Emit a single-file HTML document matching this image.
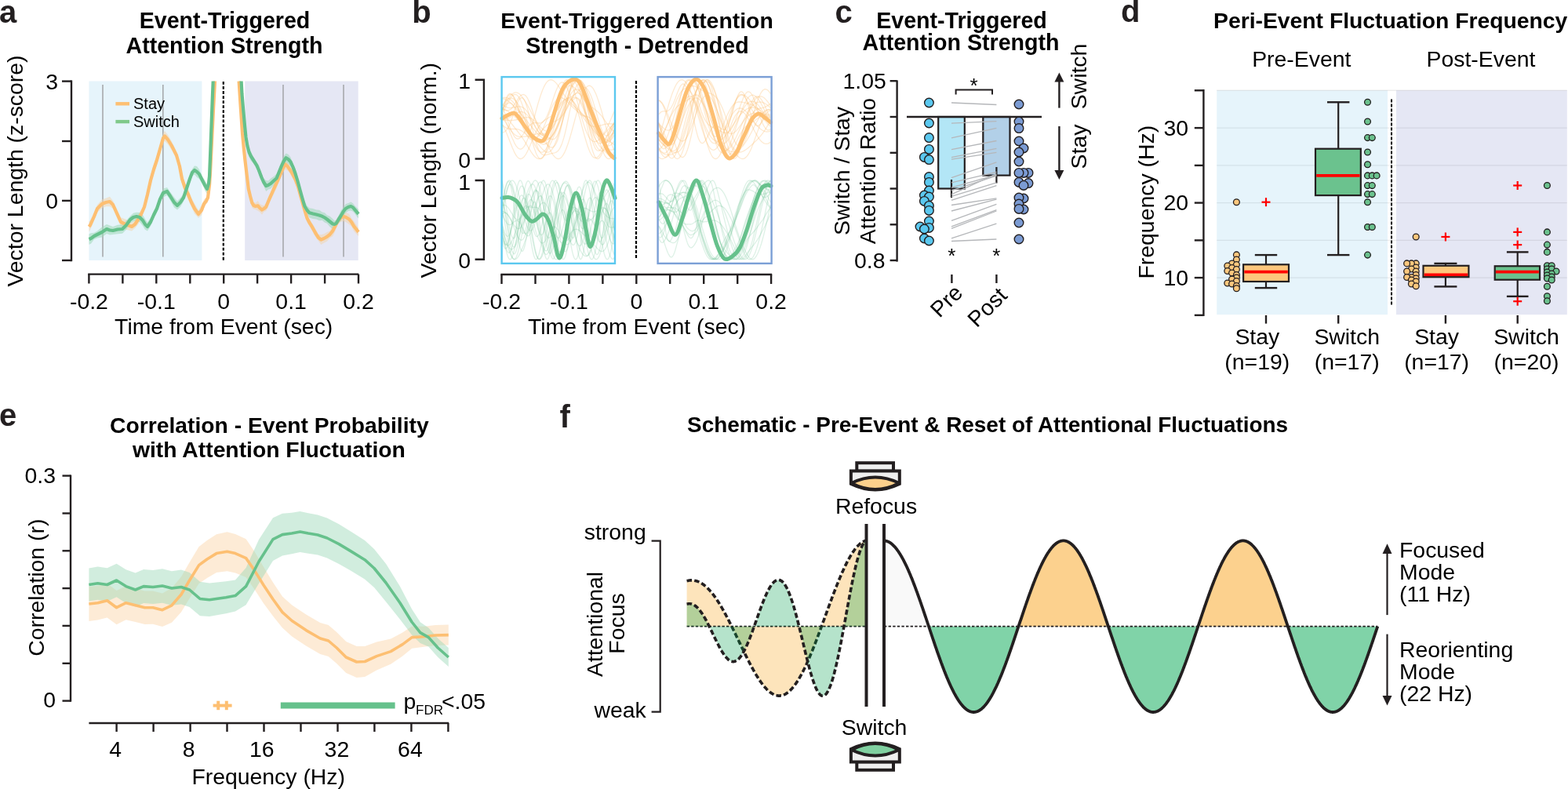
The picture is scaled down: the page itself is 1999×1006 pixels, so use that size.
<!DOCTYPE html>
<html><head><meta charset="utf-8"><style>
html,body{margin:0;padding:0;background:#fff;}
svg{display:block;}
text{font-family:"Liberation Sans",Arial,sans-serif;}
</style></head><body>
<svg width="1999" height="1006" viewBox="0 0 1999 1006">
<rect x="0" y="0" width="1999" height="1006" fill="#fff"/>
<text x="-1" y="29.1" font-size="40" font-weight="bold" text-anchor="start" fill="#231f20" >a</text>
<text x="286.5" y="36" font-size="28.6" font-weight="bold" text-anchor="middle" fill="#000" >Event-Triggered</text>
<text x="286" y="68" font-size="28.6" font-weight="bold" text-anchor="middle" fill="#000" >Attention Strength</text>
<text x="29.3" y="218" font-size="28.4" font-weight="normal" text-anchor="middle" fill="#000" transform="rotate(-90 29.3 218)">Vector Length (z-score)</text>
<rect x="113.4" y="103.5" width="144" height="228.5" fill="#e6f4fb" stroke="none" stroke-width="0" />
<rect x="312.2" y="103.5" width="144.5" height="228.5" fill="#e5e7f4" stroke="none" stroke-width="0" />
<line x1="131" y1="108" x2="131" y2="327.5" stroke="#a7a9ac" stroke-width="1.6" />
<line x1="207.8" y1="108" x2="207.8" y2="327.5" stroke="#a7a9ac" stroke-width="1.6" />
<line x1="361" y1="108" x2="361" y2="327.5" stroke="#a7a9ac" stroke-width="1.6" />
<line x1="438" y1="108" x2="438" y2="327.5" stroke="#a7a9ac" stroke-width="1.6" />
<line x1="284.8" y1="104" x2="284.8" y2="332" stroke="#000" stroke-width="2.2" stroke-dasharray="3.8 2.25"/>
<line x1="91" y1="102.4" x2="91" y2="333.2" stroke="#231f20" stroke-width="2.4" />
<line x1="79" y1="103.6" x2="91" y2="103.6" stroke="#231f20" stroke-width="2.4" />
<line x1="79" y1="180" x2="91" y2="180" stroke="#231f20" stroke-width="2.4" />
<line x1="79" y1="255.9" x2="91" y2="255.9" stroke="#231f20" stroke-width="2.4" />
<line x1="79" y1="332" x2="91" y2="332" stroke="#231f20" stroke-width="2.4" />
<text x="74" y="113.5" font-size="28.4" font-weight="normal" text-anchor="end" fill="#000" >3</text>
<text x="74" y="265.5" font-size="28.4" font-weight="normal" text-anchor="end" fill="#000" >0</text>
<line x1="112.2" y1="349.6" x2="457.2" y2="349.6" stroke="#231f20" stroke-width="2.4" />
<line x1="113.4" y1="349.6" x2="113.4" y2="361.5" stroke="#231f20" stroke-width="2.4" />
<line x1="156.4" y1="349.6" x2="156.4" y2="361.5" stroke="#231f20" stroke-width="2.4" />
<line x1="199.3" y1="349.6" x2="199.3" y2="361.5" stroke="#231f20" stroke-width="2.4" />
<line x1="242.3" y1="349.6" x2="242.3" y2="361.5" stroke="#231f20" stroke-width="2.4" />
<line x1="285.2" y1="349.6" x2="285.2" y2="361.5" stroke="#231f20" stroke-width="2.4" />
<line x1="328.1" y1="349.6" x2="328.1" y2="361.5" stroke="#231f20" stroke-width="2.4" />
<line x1="371.1" y1="349.6" x2="371.1" y2="361.5" stroke="#231f20" stroke-width="2.4" />
<line x1="414.1" y1="349.6" x2="414.1" y2="361.5" stroke="#231f20" stroke-width="2.4" />
<line x1="457" y1="349.6" x2="457" y2="361.5" stroke="#231f20" stroke-width="2.4" />
<text x="113.4" y="393.6" font-size="28.4" font-weight="normal" text-anchor="middle" fill="#000" >-0.2</text>
<text x="199.3" y="393.6" font-size="28.4" font-weight="normal" text-anchor="middle" fill="#000" >-0.1</text>
<text x="285.2" y="393.6" font-size="28.4" font-weight="normal" text-anchor="middle" fill="#000" >0</text>
<text x="371.1" y="393.6" font-size="28.4" font-weight="normal" text-anchor="middle" fill="#000" >0.1</text>
<text x="457" y="393.6" font-size="28.4" font-weight="normal" text-anchor="middle" fill="#000" >0.2</text>
<text x="285.2" y="426" font-size="28.4" font-weight="normal" text-anchor="middle" fill="#000" >Time from Event (sec)</text>
<path d="M113.5,282.6 L115,280.8 L120,270.7 L124,261.2 L130,254.5 L135,252.8 L140,250.7 L144,256 L149,266.6 L154,277.3 L160,279.4 L168,283.5 L172,281.1 L176,273.8 L180,267.2 L184,259.2 L188,241.4 L192,223.2 L196,209.6 L200,197.4 L204,185 L208,169.9 L210,166.9 L214,172 L219,180.6 L225,193.6 L229,206.7 L232,222.2 L236,233.4 L240,241.2 L244,252.6 L248,259.5 L253,268.2 L257,261.7 L260,254.4 L263,251.8 L265,245.9 L267,230.8 L268,213.6 L270,174 L270,186 L268,226.4 L267,241.2 L265,258.1 L263,260.2 L260,265.6 L257,274.3 L253,277.8 L248,272.5 L244,263.4 L240,254.8 L236,246.6 L232,233.8 L229,217.3 L225,202.4 L219,191.4 L214,184 L210,180.1 L208,182.1 L204,195 L200,210.6 L196,222.4 L192,236.8 L188,254.6 L184,268.8 L180,278.8 L176,286.2 L172,290.9 L168,294.5 L160,292.6 L154,288.7 L149,277.4 L144,266 L140,263.3 L135,263.2 L130,265.5 L124,270.8 L120,281.3 L115,293.2 L113.5,295.4Z" fill="#f3d6ae" opacity="0.55"/>
<path d="M309,165.5 L310.9,183.5 L312.5,198.8 L313.9,212 L315.5,224.5 L316.8,235.3 L319,244.1 L321.3,252.3 L323.5,257.6 L325.8,258.8 L328.8,255.9 L331,259.7 L334,261.4 L336.5,261.9 L339.2,258.5 L342,250.9 L345.2,244.9 L349,234.3 L352.6,226.7 L356,221.8 L358.6,215.6 L361,208.4 L363.8,202.7 L366.5,206.8 L369,210.7 L372.5,215.7 L376.5,224.6 L380,233.3 L384,247.3 L387.5,259.5 L391.4,273.2 L394.5,279.2 L397.4,283.7 L400.5,288.6 L403.3,294 L406,298.8 L409.3,299.2 L413,298.3 L416.8,296 L420.5,294.4 L424.2,287.5 L427,282.5 L430.2,278 L434,273 L437.6,269.7 L441,270.9 L445.1,272.8 L448,277.7 L451.1,282 L454,286 L457,290.9 L457,300.9 L454,298 L451.1,294.8 L448,288.3 L445.1,286.2 L441,283.1 L437.6,281.9 L434,283 L430.2,287 L427,295.5 L424.2,301.3 L420.5,303.6 L416.8,307.8 L413,309.7 L409.3,312 L406,307.2 L403.3,303.8 L400.5,299.4 L397.4,293.1 L394.5,288.8 L391.4,282.8 L387.5,270.5 L384,257.9 L380,242.7 L376.5,233 L372.5,226.3 L369,220.1 L366.5,217.2 L363.8,216.1 L361,219.6 L358.6,224 L356,230.2 L352.6,239.9 L349,247.7 L345.2,254.5 L342,263.1 L339.2,269.1 L336.5,270.1 L334,273.8 L331,270.3 L328.8,268.7 L325.8,267.2 L323.5,266.4 L321.3,264.9 L319,255.9 L316.8,246.1 L315.5,235.5 L313.9,221.6 L312.5,211.2 L310.9,196.5 L309,174.5Z" fill="#f3d6ae" opacity="0.55"/>
<path d="M113.5,298.2 L116,297.3 L120,296.7 L124,294.6 L130,289.6 L136,285.9 L140,287.5 L144,289 L150,286.7 L156,286.2 L161,281.3 L166,275.4 L170,271.7 L174,270.8 L178,270.9 L182,274.1 L185,279.3 L188,283.4 L192,277.7 L196,269.1 L200,261.8 L204,249.8 L208,240.6 L213,239 L217,244.8 L222,251.4 L226,256.4 L230,252.3 L234,247.2 L238,235.8 L242,223 L245,215.5 L248,211.5 L251,212.1 L254,216 L258,225.4 L261,229.4 L264,234.7 L266,227.9 L267,218.4 L268,193.8 L269.5,153.7 L269.5,166.3 L268,206.2 L267,231.6 L266,240.1 L264,247.3 L261,242.6 L258,234.6 L254,228 L251,225.9 L248,222.5 L245,224.5 L242,233 L238,244.2 L234,256.8 L230,263.7 L226,267.6 L222,264.6 L217,255.2 L213,249 L208,251.4 L204,258.2 L200,270.2 L196,278.9 L192,288.3 L188,294.6 L185,292.7 L182,287.9 L178,283.1 L174,281.2 L170,282.3 L166,284.6 L161,292.7 L156,297.8 L150,298.3 L144,299 L140,299.5 L136,298.1 L130,302.4 L124,303.4 L120,305.3 L116,310.7 L113.5,311.8Z" fill="#9fd8b8" opacity="0.55"/>
<path d="M312,155.2 L313.5,169.4 L315.4,180.9 L317.5,188.2 L319.8,193.2 L323,199.7 L327.3,206.7 L330,210.6 L333.3,221 L336,227.2 L339.2,230.1 L342,230.6 L345.2,227.6 L349,225.1 L352.6,221.4 L355.5,215.5 L358.6,206.5 L361.5,199.5 L364.6,195.6 L367.5,196.8 L370.5,200.4 L373.5,208.7 L376.5,215.1 L379.5,225.2 L382.5,237.2 L385.5,248.8 L388.4,256.5 L391.5,262.6 L394.4,265.2 L399,266 L403.3,267.4 L407,267.8 L410.8,270.6 L414,271.2 L416.8,274.2 L420.5,275.8 L424.2,279 L426.5,281.6 L428.7,280.2 L431.5,275.3 L434.7,268.2 L437.5,264.7 L440.6,260.2 L444,259 L447.3,257.5 L450,259.3 L452.6,262.5 L455,264.8 L457,267.1 L457,278.5 L455,276.2 L452.6,272.7 L450,269.7 L447.3,268.5 L444,269 L440.6,271.8 L437.5,275.3 L434.7,281.8 L431.5,284.7 L428.7,289.2 L426.5,290.4 L424.2,292 L420.5,289.2 L416.8,284.8 L414,283.8 L410.8,281 L407,281.2 L403.3,279.6 L399,279 L394.4,277.4 L391.5,273.4 L388.4,269.5 L385.5,257.2 L382.5,247.2 L379.5,236.8 L376.5,227.5 L373.5,217.3 L370.5,212.4 L367.5,209.2 L364.6,206.8 L361.5,212.5 L358.6,218.3 L355.5,224.5 L352.6,233.2 L349,235.9 L345.2,240.4 L342,241.4 L339.2,243.9 L336,236.8 L333.3,230.6 L330,223.4 L327.3,215.1 L323,208.3 L319.8,204.8 L317.5,199.8 L315.4,191.1 L313.5,180.6 L312,164.8Z" fill="#9fd8b8" opacity="0.55"/>
<g fill="none" stroke-linejoin="round" stroke-linecap="butt">
<path d="M113.5,289 L115,287 L120,276 L124,266 L130,260 L135,258 L140,257 L144,261 L149,272 L154,283 L160,286 L168,289 L172,286 L176,280 L180,273 L184,264 L188,248 L192,230 L196,216 L200,204 L204,190 L208,176 L210,173.5 L214,178 L219,186 L225,198 L229,212 L232,228 L236,240 L240,248 L244,258 L248,266 L253,273 L257,268 L260,260 L263,256 L265,252 L267,236 L268,220 L270,180 L272,140 L274,103.5" stroke="#fdbf72" stroke-width="4.2"/>
<path d="M304.6,103.5 L307,140 L309,170 L310.9,190 L312.5,205 L313.9,216.8 L315.5,230 L316.8,240.7 L319,250 L321.3,258.6 L323.5,262 L325.8,263 L328.8,262.3 L331,265 L334,267.6 L336.5,266 L339.2,263.8 L342,257 L345.2,249.7 L349,241 L352.6,233.3 L356,226 L358.6,219.8 L361,214 L363.8,209.4 L366.5,212 L369,215.4 L372.5,221 L376.5,228.8 L380,238 L384,252.6 L387.5,265 L391.4,278 L394.5,284 L397.4,288.4 L400.5,294 L403.3,298.9 L406,303 L409.3,305.6 L413,304 L416.8,301.9 L420.5,299 L424.2,294.4 L427,289 L430.2,282.5 L434,278 L437.6,275.8 L441,277 L445.1,279.5 L448,283 L451.1,288.4 L454,292 L457,295.9" stroke="#fdbf72" stroke-width="4.2"/>
<path d="M113.5,305 L116,304 L120,301 L124,299 L130,296 L136,292 L140,293.5 L144,294 L150,292.5 L156,292 L161,287 L166,280 L170,277 L174,276 L178,277 L182,281 L185,286 L188,289 L192,283 L196,274 L200,266 L204,254 L208,246 L213,244 L217,250 L222,258 L226,262 L230,258 L234,252 L238,240 L242,228 L245,220 L248,217 L251,219 L254,222 L258,230 L261,236 L264,241 L266,234 L267,225 L268,200 L269.5,160 L271,120 L271.7,103.5" stroke="#66c18c" stroke-width="4.2"/>
<path d="M307.6,103.5 L308.5,120 L310,138 L312,160 L313.5,175 L315.4,186 L317.5,194 L319.8,199 L323,204 L327.3,210.9 L330,217 L333.3,225.8 L336,232 L339.2,237 L342,236 L345.2,234 L349,230.5 L352.6,227.3 L355.5,220 L358.6,212.4 L361.5,206 L364.6,201.2 L367.5,203 L370.5,206.4 L373.5,213 L376.5,221.3 L379.5,231 L382.5,242.2 L385.5,253 L388.4,263 L391.5,268 L394.4,271.3 L399,272.5 L403.3,273.5 L407,274.5 L410.8,275.8 L414,277.5 L416.8,279.5 L420.5,282.5 L424.2,285.5 L426.5,286 L428.7,284.7 L431.5,280 L434.7,275 L437.5,270 L440.6,266 L444,264 L447.3,263 L450,264.5 L452.6,267.6 L455,270.5 L457,272.8" stroke="#66c18c" stroke-width="4.2"/>
</g>
<line x1="147.4" y1="132.3" x2="165" y2="132.3" stroke="#fdbf72" stroke-width="4.4" />
<line x1="147.4" y1="155.1" x2="165" y2="155.1" stroke="#80c98a" stroke-width="4.4" />
<text x="170" y="138.5" font-size="20" font-weight="normal" text-anchor="start" fill="#000" >Stay</text>
<text x="170" y="161.5" font-size="20" font-weight="normal" text-anchor="start" fill="#000" >Switch</text>
<text x="525.3" y="28.5" font-size="40" font-weight="bold" text-anchor="start" fill="#231f20" >b</text>
<text x="812" y="36" font-size="28.4" font-weight="bold" text-anchor="middle" fill="#000" >Event-Triggered Attention</text>
<text x="812.5" y="67.5" font-size="28.6" font-weight="bold" text-anchor="middle" fill="#000" >Strength - Detrended</text>
<text x="556.2" y="217.3" font-size="28.4" font-weight="normal" text-anchor="middle" fill="#000" transform="rotate(-90 556.2 217.3)">Vector Length (norm.)</text>
<path d="M605.6,101.7 H616.9 V202.5 H605.6" fill="none" stroke="#231f20" stroke-width="2.4"/>
<text x="600" y="113.2" font-size="28.4" font-weight="normal" text-anchor="end" fill="#000" >1</text>
<text x="600" y="213.5" font-size="28.4" font-weight="normal" text-anchor="end" fill="#000" >0</text>
<path d="M605.6,230 H616.9 V330.7 H605.6" fill="none" stroke="#231f20" stroke-width="2.4"/>
<text x="600" y="241.5" font-size="28.4" font-weight="normal" text-anchor="end" fill="#000" >1</text>
<text x="600" y="341.7" font-size="28.4" font-weight="normal" text-anchor="end" fill="#000" >0</text>
<line x1="811" y1="103" x2="811" y2="331" stroke="#000" stroke-width="2.2" stroke-dasharray="4 2"/>
<line x1="638.3" y1="350" x2="984.2" y2="350" stroke="#231f20" stroke-width="2.4" />
<line x1="639.5" y1="350" x2="639.5" y2="362" stroke="#231f20" stroke-width="2.4" />
<line x1="682.5" y1="350" x2="682.5" y2="362" stroke="#231f20" stroke-width="2.4" />
<line x1="725.4" y1="350" x2="725.4" y2="362" stroke="#231f20" stroke-width="2.4" />
<line x1="768.4" y1="350" x2="768.4" y2="362" stroke="#231f20" stroke-width="2.4" />
<line x1="811.3" y1="350" x2="811.3" y2="362" stroke="#231f20" stroke-width="2.4" />
<line x1="854.2" y1="350" x2="854.2" y2="362" stroke="#231f20" stroke-width="2.4" />
<line x1="897.2" y1="350" x2="897.2" y2="362" stroke="#231f20" stroke-width="2.4" />
<line x1="940.2" y1="350" x2="940.2" y2="362" stroke="#231f20" stroke-width="2.4" />
<line x1="983.1" y1="350" x2="983.1" y2="362" stroke="#231f20" stroke-width="2.4" />
<text x="639.5" y="393.8" font-size="28.4" font-weight="normal" text-anchor="middle" fill="#000" >-0.2</text>
<text x="725.4" y="393.8" font-size="28.4" font-weight="normal" text-anchor="middle" fill="#000" >-0.1</text>
<text x="811.3" y="393.8" font-size="28.4" font-weight="normal" text-anchor="middle" fill="#000" >0</text>
<text x="897.2" y="393.8" font-size="28.4" font-weight="normal" text-anchor="middle" fill="#000" >0.1</text>
<text x="983.1" y="393.8" font-size="28.4" font-weight="normal" text-anchor="middle" fill="#000" >0.2</text>
<text x="812" y="425.5" font-size="28.4" font-weight="normal" text-anchor="middle" fill="#000" >Time from Event (sec)</text>
<g fill="none" stroke-width="1.3" stroke-linejoin="round">
<path d="M640,158.6 L641.2,159.8 L642.4,160.9 L643.6,161.9 L644.8,162.7 L646,163.3 L647.2,163.8 L648.4,164.1 L649.6,164.3 L650.8,164.4 L652,164.5 L653.2,164.5 L654.4,164.5 L655.5,164.5 L656.7,164.5 L657.9,164.5 L659.1,164.7 L660.3,164.9 L661.5,165.2 L662.7,165.7 L663.9,166.3 L665.1,166.9 L666.3,167.7 L667.5,168.6 L668.7,169.5 L669.9,170.5 L671.1,171.6 L672.3,172.6 L673.5,173.6 L674.7,174.5 L675.9,175.4 L677.1,176.1 L678.3,176.6 L679.5,177 L680.7,177.1 L681.9,177 L683,176.6 L684.2,175.9 L685.4,174.9 L686.6,173.6 L687.8,172.1 L689,170.2 L690.2,168.1 L691.4,165.8 L692.6,163.3 L693.8,160.5 L695,157.7 L696.2,154.7 L697.4,151.7 L698.6,148.6 L699.8,145.6 L701,142.7 L702.2,139.9 L703.4,137.2 L704.6,134.8 L705.8,132.5 L707,130.5 L708.2,128.8 L709.4,127.3 L710.6,126.2 L711.8,125.4 L712.9,124.8 L714.1,124.5 L715.3,124.5 L716.5,124.8 L717.7,125.3 L718.9,126 L720.1,126.8 L721.3,127.8 L722.5,128.9 L723.7,130.1 L724.9,131.4 L726.1,132.6 L727.3,133.9 L728.5,135.1 L729.7,136.3 L730.9,137.5 L732.1,138.6 L733.3,139.6 L734.5,140.5 L735.7,141.4 L736.9,142.2 L738.1,143 L739.3,143.8 L740.5,144.5 L741.6,145.3 L742.8,146.1 L744,146.9 L745.2,147.8 L746.4,148.8 L747.6,149.9 L748.8,151.1 L750,152.4 L751.2,153.9 L752.4,155.5 L753.6,157.2 L754.8,159 L756,160.9 L757.2,162.8 L758.4,164.8 L759.6,166.9 L760.8,168.9 L762,170.9 L763.2,172.8 L764.4,174.6 L765.6,176.2 L766.8,177.7 L768,179 L769.1,180 L770.3,180.8 L771.5,181.3 L772.7,181.6 L773.9,181.5 L775.1,181.2 L776.3,180.6 L777.5,179.7 L778.7,178.5 L779.9,177.1 L781.1,175.5 L782.3,173.7 L783.5,171.8" stroke="#fdbf72" stroke-opacity="0.33"/>
<path d="M640,137.1 L641.2,138.1 L642.4,139.1 L643.6,139.9 L644.8,140.5 L646,140.8 L647.2,140.9 L648.4,140.7 L649.6,140.2 L650.8,139.4 L652,138.4 L653.2,137 L654.4,135.5 L655.5,133.7 L656.7,131.9 L657.9,130 L659.1,128.1 L660.3,126.2 L661.5,124.6 L662.7,123.1 L663.9,121.9 L665.1,121 L666.3,120.6 L667.5,120.5 L668.7,120.9 L669.9,121.8 L671.1,123.1 L672.3,124.9 L673.5,127.2 L674.7,129.8 L675.9,132.8 L677.1,136 L678.3,139.5 L679.5,143.1 L680.7,146.8 L681.9,150.4 L683,154 L684.2,157.4 L685.4,160.5 L686.6,163.3 L687.8,165.7 L689,167.6 L690.2,169.1 L691.4,170.1 L692.6,170.6 L693.8,170.6 L695,170.1 L696.2,169 L697.4,167.6 L698.6,165.7 L699.8,163.5 L701,161 L702.2,158.3 L703.4,155.5 L704.6,152.6 L705.8,149.6 L707,146.7 L708.2,143.8 L709.4,141.2 L710.6,138.7 L711.8,136.4 L712.9,134.3 L714.1,132.5 L715.3,131 L716.5,129.7 L717.7,128.6 L718.9,127.7 L720.1,126.9 L721.3,126.3 L722.5,125.8 L723.7,125.3 L724.9,124.9 L726.1,124.4 L727.3,123.9 L728.5,123.3 L729.7,122.6 L730.9,121.8 L732.1,120.8 L733.3,119.8 L734.5,118.7 L735.7,117.6 L736.9,116.4 L738.1,115.2 L739.3,114.1 L740.5,113.1 L741.6,112.3 L742.8,111.7 L744,111.4 L745.2,111.4 L746.4,111.7 L747.6,112.5 L748.8,113.6 L750,115.2 L751.2,117.3 L752.4,119.7 L753.6,122.6 L754.8,125.8 L756,129.3 L757.2,133.1 L758.4,137.2 L759.6,141.3 L760.8,145.5 L762,149.7 L763.2,153.7 L764.4,157.6 L765.6,161.2 L766.8,164.4 L768,167.2 L769.1,169.5 L770.3,171.3 L771.5,172.5 L772.7,173.1 L773.9,173.1 L775.1,172.6 L776.3,171.5 L777.5,169.9 L778.7,167.8 L779.9,165.2 L781.1,162.4 L782.3,159.2 L783.5,155.9" stroke="#fdbf72" stroke-opacity="0.33"/>
<path d="M640,139.6 L641.2,139.6 L642.4,139.8 L643.6,140 L644.8,140.4 L646,140.9 L647.2,141.5 L648.4,142.2 L649.6,143 L650.8,143.9 L652,144.9 L653.2,145.9 L654.4,146.9 L655.5,148.1 L656.7,149.2 L657.9,150.4 L659.1,151.6 L660.3,152.8 L661.5,154.1 L662.7,155.3 L663.9,156.6 L665.1,157.8 L666.3,159.1 L667.5,160.3 L668.7,161.6 L669.9,162.8 L671.1,164 L672.3,165.2 L673.5,166.4 L674.7,167.6 L675.9,168.8 L677.1,169.9 L678.3,171 L679.5,172.1 L680.7,173.1 L681.9,174.1 L683,175 L684.2,175.9 L685.4,176.7 L686.6,177.5 L687.8,178.1 L689,178.7 L690.2,179.1 L691.4,179.4 L692.6,179.6 L693.8,179.7 L695,179.5 L696.2,179.2 L697.4,178.7 L698.6,178.1 L699.8,177.2 L701,176.1 L702.2,174.9 L703.4,173.4 L704.6,171.7 L705.8,169.8 L707,167.7 L708.2,165.4 L709.4,163 L710.6,160.3 L711.8,157.6 L712.9,154.7 L714.1,151.7 L715.3,148.6 L716.5,145.5 L717.7,142.4 L718.9,139.3 L720.1,136.2 L721.3,133.2 L722.5,130.4 L723.7,127.6 L724.9,125 L726.1,122.7 L727.3,120.5 L728.5,118.7 L729.7,117.1 L730.9,115.8 L732.1,114.8 L733.3,114.1 L734.5,113.8 L735.7,113.9 L736.9,114.3 L738.1,115 L739.3,116.1 L740.5,117.5 L741.6,119.2 L742.8,121.3 L744,123.6 L745.2,126.2 L746.4,129 L747.6,132 L748.8,135.2 L750,138.5 L751.2,141.9 L752.4,145.4 L753.6,149 L754.8,152.5 L756,156 L757.2,159.4 L758.4,162.7 L759.6,165.9 L760.8,168.9 L762,171.8 L763.2,174.4 L764.4,176.8 L765.6,178.9 L766.8,180.8 L768,182.5 L769.1,183.8 L770.3,184.9 L771.5,185.6 L772.7,186.1 L773.9,186.4 L775.1,186.3 L776.3,186 L777.5,185.4 L778.7,184.7 L779.9,183.7 L781.1,182.5 L782.3,181.1 L783.5,179.5" stroke="#fdbf72" stroke-opacity="0.33"/>
<path d="M640,132.9 L641.2,133.9 L642.4,134.7 L643.6,135.5 L644.8,136.2 L646,136.7 L647.2,137.2 L648.4,137.5 L649.6,137.6 L650.8,137.7 L652,137.6 L653.2,137.4 L654.4,137.2 L655.5,136.9 L656.7,136.6 L657.9,136.3 L659.1,136.1 L660.3,135.9 L661.5,135.8 L662.7,135.8 L663.9,136 L665.1,136.4 L666.3,136.9 L667.5,137.6 L668.7,138.6 L669.9,139.7 L671.1,141.1 L672.3,142.7 L673.5,144.4 L674.7,146.4 L675.9,148.4 L677.1,150.6 L678.3,152.9 L679.5,155.3 L680.7,157.6 L681.9,159.9 L683,162.2 L684.2,164.3 L685.4,166.2 L686.6,168 L687.8,169.5 L689,170.7 L690.2,171.6 L691.4,172.2 L692.6,172.4 L693.8,172.2 L695,171.6 L696.2,170.7 L697.4,169.4 L698.6,167.7 L699.8,165.6 L701,163.2 L702.2,160.5 L703.4,157.6 L704.6,154.4 L705.8,151.1 L707,147.6 L708.2,144 L709.4,140.4 L710.6,136.8 L711.8,133.3 L712.9,129.9 L714.1,126.6 L715.3,123.6 L716.5,120.7 L717.7,118.2 L718.9,115.9 L720.1,113.9 L721.3,112.3 L722.5,111 L723.7,110 L724.9,109.4 L726.1,109.1 L727.3,109.1 L728.5,109.4 L729.7,109.9 L730.9,110.7 L732.1,111.8 L733.3,113 L734.5,114.3 L735.7,115.8 L736.9,117.3 L738.1,118.9 L739.3,120.5 L740.5,122.2 L741.6,123.7 L742.8,125.3 L744,126.8 L745.2,128.2 L746.4,129.5 L747.6,130.8 L748.8,132 L750,133.1 L751.2,134.1 L752.4,135 L753.6,136 L754.8,136.9 L756,137.7 L757.2,138.6 L758.4,139.5 L759.6,140.5 L760.8,141.5 L762,142.6 L763.2,143.7 L764.4,145 L765.6,146.3 L766.8,147.7 L768,149.2 L769.1,150.8 L770.3,152.4 L771.5,154.1 L772.7,155.8 L773.9,157.5 L775.1,159.2 L776.3,160.8 L777.5,162.3 L778.7,163.8 L779.9,165 L781.1,166.2 L782.3,167.1 L783.5,167.8" stroke="#fdbf72" stroke-opacity="0.33"/>
<path d="M640,152.2 L641.2,152.3 L642.4,152.2 L643.6,152.1 L644.8,151.8 L646,151.5 L647.2,151 L648.4,150.4 L649.6,149.8 L650.8,149.1 L652,148.3 L653.2,147.5 L654.4,146.7 L655.5,145.9 L656.7,145.1 L657.9,144.4 L659.1,143.8 L660.3,143.3 L661.5,142.8 L662.7,142.6 L663.9,142.4 L665.1,142.5 L666.3,142.8 L667.5,143.2 L668.7,143.8 L669.9,144.7 L671.1,145.7 L672.3,146.9 L673.5,148.3 L674.7,149.9 L675.9,151.6 L677.1,153.4 L678.3,155.3 L679.5,157.3 L680.7,159.2 L681.9,161.2 L683,163.2 L684.2,165 L685.4,166.8 L686.6,168.4 L687.8,169.8 L689,171 L690.2,172 L691.4,172.7 L692.6,173.2 L693.8,173.3 L695,173.2 L696.2,172.7 L697.4,172 L698.6,170.9 L699.8,169.6 L701,167.9 L702.2,166 L703.4,163.9 L704.6,161.6 L705.8,159.1 L707,156.5 L708.2,153.8 L709.4,151 L710.6,148.2 L711.8,145.5 L712.9,142.8 L714.1,140.2 L715.3,137.8 L716.5,135.5 L717.7,133.5 L718.9,131.7 L720.1,130.1 L721.3,128.9 L722.5,127.9 L723.7,127.3 L724.9,126.9 L726.1,126.9 L727.3,127.2 L728.5,127.7 L729.7,128.6 L730.9,129.7 L732.1,131 L733.3,132.6 L734.5,134.3 L735.7,136.1 L736.9,138.1 L738.1,140.1 L739.3,142.2 L740.5,144.3 L741.6,146.3 L742.8,148.3 L744,150.3 L745.2,152.1 L746.4,153.7 L747.6,155.3 L748.8,156.6 L750,157.8 L751.2,158.9 L752.4,159.7 L753.6,160.4 L754.8,160.9 L756,161.2 L757.2,161.4 L758.4,161.5 L759.6,161.4 L760.8,161.3 L762,161 L763.2,160.7 L764.4,160.4 L765.6,160 L766.8,159.7 L768,159.3 L769.1,159 L770.3,158.7 L771.5,158.4 L772.7,158.2 L773.9,158.1 L775.1,158 L776.3,157.9 L777.5,157.9 L778.7,158 L779.9,158 L781.1,158.1 L782.3,158.2 L783.5,158.2" stroke="#fdbf72" stroke-opacity="0.33"/>
<path d="M640,169.2 L641.2,168.9 L642.4,168.5 L643.6,167.8 L644.8,166.8 L646,165.4 L647.2,163.7 L648.4,161.6 L649.6,159.1 L650.8,156.2 L652,153.1 L653.2,149.7 L654.4,146.1 L655.5,142.5 L656.7,139 L657.9,135.6 L659.1,132.5 L660.3,129.8 L661.5,127.5 L662.7,125.9 L663.9,124.9 L665.1,124.6 L666.3,125 L667.5,126.2 L668.7,128.1 L669.9,130.8 L671.1,134.1 L672.3,137.9 L673.5,142.3 L674.7,147 L675.9,152 L677.1,157.1 L678.3,162.3 L679.5,167.3 L680.7,172.2 L681.9,176.7 L683,180.9 L684.2,184.7 L685.4,188 L686.6,190.7 L687.8,193 L689,194.7 L690.2,196 L691.4,196.9 L692.6,197.4 L693.8,197.7 L695,197.6 L696.2,197.5 L697.4,197.2 L698.6,196.8 L699.8,196.5 L701,196.2 L702.2,195.9 L703.4,195.6 L704.6,195.4 L705.8,195.2 L707,194.9 L708.2,194.5 L709.4,193.9 L710.6,193 L711.8,191.9 L712.9,190.3 L714.1,188.3 L715.3,185.9 L716.5,182.9 L717.7,179.4 L718.9,175.4 L720.1,170.9 L721.3,165.9 L722.5,160.6 L723.7,155 L724.9,149.1 L726.1,143.2 L727.3,137.4 L728.5,131.8 L729.7,126.4 L730.9,121.5 L732.1,117.2 L733.3,113.6 L734.5,110.7 L735.7,108.7 L736.9,107.5 L738.1,107.3 L739.3,107.9 L740.5,109.5 L741.6,111.8 L742.8,115 L744,118.7 L745.2,123.1 L746.4,127.9 L747.6,132.9 L748.8,138.2 L750,143.6 L751.2,148.9 L752.4,154 L753.6,158.9 L754.8,163.5 L756,167.7 L757.2,171.5 L758.4,174.9 L759.6,177.8 L760.8,180.4 L762,182.6 L763.2,184.4 L764.4,186.1 L765.6,187.5 L766.8,188.7 L768,189.9 L769.1,191 L770.3,192.2 L771.5,193.4 L772.7,194.6 L773.9,195.8 L775.1,197.1 L776.3,198.4 L777.5,199.6 L778.7,200.7 L779.9,201.6 L781.1,202.2 L782.3,202.5 L783.5,202.4" stroke="#fdbf72" stroke-opacity="0.33"/>
<path d="M640,126 L641.2,126 L642.4,126.2 L643.6,126.5 L644.8,127 L646,127.5 L647.2,128.2 L648.4,129.1 L649.6,130 L650.8,131 L652,132 L653.2,133.1 L654.4,134.3 L655.5,135.6 L656.7,136.8 L657.9,138.1 L659.1,139.5 L660.3,140.8 L661.5,142.2 L662.7,143.5 L663.9,144.9 L665.1,146.3 L666.3,147.8 L667.5,149.2 L668.7,150.6 L669.9,152 L671.1,153.5 L672.3,154.9 L673.5,156.4 L674.7,157.9 L675.9,159.3 L677.1,160.8 L678.3,162.3 L679.5,163.7 L680.7,165.1 L681.9,166.5 L683,167.9 L684.2,169.2 L685.4,170.5 L686.6,171.7 L687.8,172.8 L689,173.9 L690.2,174.8 L691.4,175.6 L692.6,176.3 L693.8,176.8 L695,177.1 L696.2,177.3 L697.4,177.3 L698.6,177 L699.8,176.6 L701,175.9 L702.2,175 L703.4,173.9 L704.6,172.5 L705.8,170.9 L707,169 L708.2,166.9 L709.4,164.6 L710.6,162.1 L711.8,159.3 L712.9,156.4 L714.1,153.3 L715.3,150 L716.5,146.7 L717.7,143.2 L718.9,139.7 L720.1,136.1 L721.3,132.5 L722.5,129 L723.7,125.6 L724.9,122.2 L726.1,119 L727.3,115.9 L728.5,113.1 L729.7,110.5 L730.9,108.2 L732.1,106.2 L733.3,104.6 L734.5,103.3 L735.7,102.3 L736.9,101.8 L738.1,101.7 L739.3,102 L740.5,102.8 L741.6,104 L742.8,105.6 L744,107.6 L745.2,110.1 L746.4,112.9 L747.6,116.1 L748.8,119.7 L750,123.6 L751.2,127.7 L752.4,132.1 L753.6,136.7 L754.8,141.5 L756,146.4 L757.2,151.4 L758.4,156.4 L759.6,161.3 L760.8,166.2 L762,170.9 L763.2,175.5 L764.4,179.9 L765.6,183.9 L766.8,187.7 L768,191.1 L769.1,194.1 L770.3,196.7 L771.5,198.9 L772.7,200.5 L773.9,201.7 L775.1,202.4 L776.3,202.5 L777.5,202.1 L778.7,201.2 L779.9,199.8 L781.1,197.9 L782.3,195.6 L783.5,192.7" stroke="#fdbf72" stroke-opacity="0.33"/>
<path d="M640,149.8 L641.2,151.3 L642.4,152.9 L643.6,154.7 L644.8,156.5 L646,158.4 L647.2,160.3 L648.4,162.1 L649.6,163.9 L650.8,165.6 L652,167.2 L653.2,168.6 L654.4,169.9 L655.5,171.1 L656.7,172 L657.9,172.8 L659.1,173.4 L660.3,173.9 L661.5,174.2 L662.7,174.4 L663.9,174.4 L665.1,174.4 L666.3,174.3 L667.5,174.2 L668.7,174.1 L669.9,174 L671.1,173.9 L672.3,173.9 L673.5,174.1 L674.7,174.3 L675.9,174.7 L677.1,175.2 L678.3,175.9 L679.5,176.7 L680.7,177.7 L681.9,178.8 L683,180 L684.2,181.4 L685.4,182.8 L686.6,184.3 L687.8,185.8 L689,187.3 L690.2,188.8 L691.4,190.1 L692.6,191.3 L693.8,192.4 L695,193.2 L696.2,193.8 L697.4,194.1 L698.6,194.2 L699.8,193.9 L701,193.2 L702.2,192.2 L703.4,190.8 L704.6,189.1 L705.8,187 L707,184.5 L708.2,181.7 L709.4,178.7 L710.6,175.4 L711.8,171.8 L712.9,168.1 L714.1,164.3 L715.3,160.3 L716.5,156.4 L717.7,152.4 L718.9,148.6 L720.1,144.9 L721.3,141.3 L722.5,138 L723.7,135 L724.9,132.2 L726.1,129.9 L727.3,127.9 L728.5,126.3 L729.7,125.1 L730.9,124.3 L732.1,124 L733.3,124 L734.5,124.5 L735.7,125.4 L736.9,126.6 L738.1,128.2 L739.3,130 L740.5,132.1 L741.6,134.5 L742.8,137 L744,139.6 L745.2,142.4 L746.4,145.1 L747.6,147.9 L748.8,150.7 L750,153.4 L751.2,156 L752.4,158.4 L753.6,160.7 L754.8,162.9 L756,164.9 L757.2,166.7 L758.4,168.3 L759.6,169.7 L760.8,170.9 L762,172 L763.2,173 L764.4,173.8 L765.6,174.5 L766.8,175.2 L768,175.7 L769.1,176.3 L770.3,176.8 L771.5,177.3 L772.7,177.8 L773.9,178.4 L775.1,179 L776.3,179.7 L777.5,180.5 L778.7,181.3 L779.9,182.1 L781.1,183.1 L782.3,184 L783.5,185" stroke="#fdbf72" stroke-opacity="0.33"/>
<path d="M640,145.9 L641.2,143.5 L642.4,141.1 L643.6,138.6 L644.8,136.1 L646,133.6 L647.2,131.2 L648.4,129 L649.6,126.9 L650.8,125 L652,123.4 L653.2,122.1 L654.4,121.1 L655.5,120.5 L656.7,120.4 L657.9,120.6 L659.1,121.3 L660.3,122.4 L661.5,124 L662.7,126.1 L663.9,128.5 L665.1,131.5 L666.3,134.8 L667.5,138.4 L668.7,142.4 L669.9,146.7 L671.1,151.2 L672.3,155.8 L673.5,160.6 L674.7,165.3 L675.9,170.1 L677.1,174.8 L678.3,179.3 L679.5,183.5 L680.7,187.5 L681.9,191.1 L683,194.3 L684.2,197 L685.4,199.3 L686.6,200.9 L687.8,202 L689,202.5 L690.2,202.4 L691.4,201.6 L692.6,200.2 L693.8,198.3 L695,195.7 L696.2,192.5 L697.4,188.9 L698.6,184.8 L699.8,180.2 L701,175.3 L702.2,170.1 L703.4,164.7 L704.6,159.1 L705.8,153.4 L707,147.7 L708.2,142.1 L709.4,136.6 L710.6,131.3 L711.8,126.3 L712.9,121.6 L714.1,117.3 L715.3,113.5 L716.5,110.1 L717.7,107.3 L718.9,105 L720.1,103.3 L721.3,102.2 L722.5,101.7 L723.7,101.8 L724.9,102.4 L726.1,103.6 L727.3,105.3 L728.5,107.5 L729.7,110.2 L730.9,113.3 L732.1,116.7 L733.3,120.4 L734.5,124.4 L735.7,128.5 L736.9,132.8 L738.1,137.2 L739.3,141.5 L740.5,145.8 L741.6,150 L742.8,154.1 L744,157.9 L745.2,161.6 L746.4,165 L747.6,168 L748.8,170.8 L750,173.2 L751.2,175.3 L752.4,177 L753.6,178.4 L754.8,179.4 L756,180.1 L757.2,180.5 L758.4,180.6 L759.6,180.4 L760.8,179.9 L762,179.3 L763.2,178.4 L764.4,177.4 L765.6,176.3 L766.8,175 L768,173.7 L769.1,172.3 L770.3,170.9 L771.5,169.5 L772.7,168.2 L773.9,166.8 L775.1,165.5 L776.3,164.2 L777.5,163 L778.7,161.8 L779.9,160.7 L781.1,159.7 L782.3,158.7 L783.5,157.7" stroke="#fdbf72" stroke-opacity="0.33"/>
<path d="M640,144.6 L641.2,145.4 L642.4,146.4 L643.6,147.6 L644.8,148.8 L646,150.1 L647.2,151.5 L648.4,153 L649.6,154.4 L650.8,155.9 L652,157.5 L653.2,159 L654.4,160.5 L655.5,162 L656.7,163.5 L657.9,165 L659.1,166.5 L660.3,168 L661.5,169.6 L662.7,171.1 L663.9,172.8 L665.1,174.5 L666.3,176.2 L667.5,178 L668.7,179.9 L669.9,181.8 L671.1,183.8 L672.3,185.8 L673.5,187.8 L674.7,189.8 L675.9,191.7 L677.1,193.6 L678.3,195.4 L679.5,197 L680.7,198.5 L681.9,199.8 L683,200.8 L684.2,201.7 L685.4,202.2 L686.6,202.5 L687.8,202.5 L689,202.2 L690.2,201.6 L691.4,200.7 L692.6,199.5 L693.8,198.1 L695,196.4 L696.2,194.5 L697.4,192.4 L698.6,190.1 L699.8,187.7 L701,185.1 L702.2,182.5 L703.4,179.8 L704.6,177.1 L705.8,174.3 L707,171.5 L708.2,168.7 L709.4,165.9 L710.6,163.1 L711.8,160.4 L712.9,157.6 L714.1,154.9 L715.3,152.2 L716.5,149.5 L717.7,146.9 L718.9,144.2 L720.1,141.7 L721.3,139.1 L722.5,136.6 L723.7,134.2 L724.9,131.8 L726.1,129.6 L727.3,127.5 L728.5,125.6 L729.7,123.8 L730.9,122.3 L732.1,121 L733.3,119.9 L734.5,119.2 L735.7,118.7 L736.9,118.6 L738.1,118.8 L739.3,119.4 L740.5,120.3 L741.6,121.6 L742.8,123.2 L744,125.1 L745.2,127.3 L746.4,129.7 L747.6,132.4 L748.8,135.3 L750,138.3 L751.2,141.5 L752.4,144.7 L753.6,148 L754.8,151.3 L756,154.6 L757.2,157.8 L758.4,161 L759.6,164.1 L760.8,167 L762,169.9 L763.2,172.6 L764.4,175.2 L765.6,177.6 L766.8,179.9 L768,182.1 L769.1,184.2 L770.3,186.2 L771.5,188 L772.7,189.7 L773.9,191.4 L775.1,192.9 L776.3,194.3 L777.5,195.7 L778.7,196.9 L779.9,197.9 L781.1,198.8 L782.3,199.6 L783.5,200.2" stroke="#fdbf72" stroke-opacity="0.33"/>
<path d="M640,141.5 L641.2,139.1 L642.4,136.7 L643.6,134.2 L644.8,131.9 L646,129.6 L647.2,127.5 L648.4,125.5 L649.6,123.7 L650.8,122.2 L652,120.8 L653.2,119.7 L654.4,118.9 L655.5,118.3 L656.7,117.9 L657.9,117.9 L659.1,118.1 L660.3,118.6 L661.5,119.3 L662.7,120.2 L663.9,121.4 L665.1,122.8 L666.3,124.3 L667.5,126 L668.7,127.8 L669.9,129.8 L671.1,131.8 L672.3,133.9 L673.5,136.1 L674.7,138.3 L675.9,140.5 L677.1,142.7 L678.3,144.9 L679.5,147.1 L680.7,149.2 L681.9,151.3 L683,153.3 L684.2,155.2 L685.4,157.1 L686.6,158.8 L687.8,160.4 L689,161.8 L690.2,163.2 L691.4,164.3 L692.6,165.3 L693.8,166.1 L695,166.7 L696.2,167.1 L697.4,167.2 L698.6,167.1 L699.8,166.7 L701,166.1 L702.2,165.2 L703.4,164.1 L704.6,162.6 L705.8,160.9 L707,158.9 L708.2,156.6 L709.4,154.1 L710.6,151.3 L711.8,148.3 L712.9,145.1 L714.1,141.8 L715.3,138.3 L716.5,134.8 L717.7,131.2 L718.9,127.6 L720.1,124 L721.3,120.6 L722.5,117.3 L723.7,114.2 L724.9,111.3 L726.1,108.8 L727.3,106.6 L728.5,104.7 L729.7,103.3 L730.9,102.3 L732.1,101.8 L733.3,101.7 L734.5,102.1 L735.7,103 L736.9,104.4 L738.1,106.3 L739.3,108.6 L740.5,111.3 L741.6,114.4 L742.8,117.8 L744,121.5 L745.2,125.4 L746.4,129.5 L747.6,133.7 L748.8,138 L750,142.2 L751.2,146.4 L752.4,150.4 L753.6,154.2 L754.8,157.8 L756,161.1 L757.2,164.1 L758.4,166.7 L759.6,168.9 L760.8,170.6 L762,172 L763.2,172.9 L764.4,173.3 L765.6,173.3 L766.8,172.9 L768,172 L769.1,170.8 L770.3,169.3 L771.5,167.4 L772.7,165.3 L773.9,163 L775.1,160.5 L776.3,157.8 L777.5,155.1 L778.7,152.3 L779.9,149.5 L781.1,146.7 L782.3,144 L783.5,141.4" stroke="#fdbf72" stroke-opacity="0.33"/>
<path d="M640,125.1 L641.2,124.7 L642.4,124.5 L643.6,124.4 L644.8,124.5 L646,124.7 L647.2,125.1 L648.4,125.6 L649.6,126.3 L650.8,127.2 L652,128.1 L653.2,129.2 L654.4,130.5 L655.5,131.8 L656.7,133.3 L657.9,134.9 L659.1,136.6 L660.3,138.4 L661.5,140.2 L662.7,142.2 L663.9,144.2 L665.1,146.3 L666.3,148.4 L667.5,150.6 L668.7,152.8 L669.9,155.1 L671.1,157.3 L672.3,159.5 L673.5,161.7 L674.7,163.9 L675.9,166.1 L677.1,168.1 L678.3,170.2 L679.5,172.1 L680.7,173.9 L681.9,175.6 L683,177.2 L684.2,178.7 L685.4,180 L686.6,181.1 L687.8,182.1 L689,182.9 L690.2,183.5 L691.4,183.9 L692.6,184 L693.8,184 L695,183.7 L696.2,183.1 L697.4,182.4 L698.6,181.4 L699.8,180.1 L701,178.6 L702.2,176.9 L703.4,175 L704.6,172.8 L705.8,170.4 L707,167.9 L708.2,165.1 L709.4,162.2 L710.6,159.1 L711.8,155.9 L712.9,152.6 L714.1,149.2 L715.3,145.7 L716.5,142.2 L717.7,138.6 L718.9,135.1 L720.1,131.7 L721.3,128.3 L722.5,124.9 L723.7,121.8 L724.9,118.7 L726.1,115.9 L727.3,113.2 L728.5,110.8 L729.7,108.6 L730.9,106.7 L732.1,105 L733.3,103.7 L734.5,102.7 L735.7,102 L736.9,101.7 L738.1,101.7 L739.3,102.1 L740.5,102.8 L741.6,103.8 L742.8,105.2 L744,106.9 L745.2,108.9 L746.4,111.3 L747.6,113.9 L748.8,116.7 L750,119.9 L751.2,123.2 L752.4,126.7 L753.6,130.4 L754.8,134.2 L756,138.1 L757.2,142.1 L758.4,146.1 L759.6,150.2 L760.8,154.1 L762,158.1 L763.2,161.9 L764.4,165.6 L765.6,169.1 L766.8,172.5 L768,175.6 L769.1,178.5 L770.3,181.1 L771.5,183.5 L772.7,185.6 L773.9,187.3 L775.1,188.8 L776.3,189.9 L777.5,190.6 L778.7,191.1 L779.9,191.2 L781.1,190.9 L782.3,190.4 L783.5,189.5" stroke="#fdbf72" stroke-opacity="0.33"/>
<path d="M640,142.4 L641.2,137.7 L642.4,133.5 L643.6,129.7 L644.8,126.4 L646,123.7 L647.2,121.7 L648.4,120.2 L649.6,119.5 L650.8,119.4 L652,120 L653.2,121.2 L654.4,123 L655.5,125.3 L656.7,128 L657.9,131.1 L659.1,134.6 L660.3,138.2 L661.5,142 L662.7,145.8 L663.9,149.6 L665.1,153.2 L666.3,156.8 L667.5,160 L668.7,163 L669.9,165.7 L671.1,168.1 L672.3,170.1 L673.5,171.7 L674.7,173.1 L675.9,174.1 L677.1,174.9 L678.3,175.4 L679.5,175.7 L680.7,175.9 L681.9,176.1 L683,176.1 L684.2,176.2 L685.4,176.4 L686.6,176.6 L687.8,177 L689,177.5 L690.2,178.2 L691.4,179 L692.6,179.9 L693.8,181 L695,182.1 L696.2,183.3 L697.4,184.5 L698.6,185.6 L699.8,186.6 L701,187.3 L702.2,187.8 L703.4,188 L704.6,187.8 L705.8,187.2 L707,186 L708.2,184.4 L709.4,182.2 L710.6,179.5 L711.8,176.2 L712.9,172.4 L714.1,168.1 L715.3,163.4 L716.5,158.3 L717.7,152.9 L718.9,147.3 L720.1,141.6 L721.3,135.9 L722.5,130.3 L723.7,124.9 L724.9,119.9 L726.1,115.2 L727.3,111.2 L728.5,107.7 L729.7,105 L730.9,103.1 L732.1,101.9 L733.3,101.7 L734.5,102.3 L735.7,103.9 L736.9,106.3 L738.1,109.5 L739.3,113.5 L740.5,118.2 L741.6,123.5 L742.8,129.3 L744,135.5 L745.2,142 L746.4,148.7 L747.6,155.4 L748.8,162 L750,168.4 L751.2,174.5 L752.4,180.2 L753.6,185.3 L754.8,189.9 L756,193.8 L757.2,197 L758.4,199.5 L759.6,201.2 L760.8,202.2 L762,202.5 L763.2,202.1 L764.4,201 L765.6,199.4 L766.8,197.3 L768,194.8 L769.1,192 L770.3,188.9 L771.5,185.6 L772.7,182.3 L773.9,179 L775.1,175.8 L776.3,172.8 L777.5,169.9 L778.7,167.4 L779.9,165.1 L781.1,163.1 L782.3,161.4 L783.5,160.1" stroke="#fdbf72" stroke-opacity="0.33"/>
<path d="M640,143.7 L641.2,146.1 L642.4,148.8 L643.6,151.6 L644.8,154.6 L646,157.7 L647.2,160.8 L648.4,164 L649.6,167.2 L650.8,170.4 L652,173.4 L653.2,176.4 L654.4,179.1 L655.5,181.6 L656.7,183.9 L657.9,185.8 L659.1,187.4 L660.3,188.7 L661.5,189.6 L662.7,190 L663.9,190.1 L665.1,189.7 L666.3,188.9 L667.5,187.6 L668.7,185.9 L669.9,183.9 L671.1,181.4 L672.3,178.6 L673.5,175.4 L674.7,171.9 L675.9,168.2 L677.1,164.3 L678.3,160.1 L679.5,155.8 L680.7,151.5 L681.9,147.1 L683,142.7 L684.2,138.3 L685.4,134 L686.6,129.9 L687.8,126 L689,122.2 L690.2,118.8 L691.4,115.6 L692.6,112.7 L693.8,110.1 L695,107.8 L696.2,105.9 L697.4,104.4 L698.6,103.2 L699.8,102.4 L701,101.9 L702.2,101.7 L703.4,101.8 L704.6,102.3 L705.8,103 L707,103.9 L708.2,105.1 L709.4,106.4 L710.6,107.9 L711.8,109.6 L712.9,111.3 L714.1,113.1 L715.3,114.9 L716.5,116.8 L717.7,118.6 L718.9,120.4 L720.1,122.2 L721.3,123.9 L722.5,125.5 L723.7,127.1 L724.9,128.6 L726.1,129.9 L727.3,131.2 L728.5,132.5 L729.7,133.6 L730.9,134.7 L732.1,135.7 L733.3,136.7 L734.5,137.7 L735.7,138.7 L736.9,139.7 L738.1,140.8 L739.3,141.9 L740.5,143 L741.6,144.2 L742.8,145.6 L744,147 L745.2,148.5 L746.4,150.1 L747.6,151.8 L748.8,153.6 L750,155.5 L751.2,157.5 L752.4,159.6 L753.6,161.7 L754.8,163.9 L756,166 L757.2,168.2 L758.4,170.3 L759.6,172.3 L760.8,174.2 L762,176 L763.2,177.7 L764.4,179.1 L765.6,180.4 L766.8,181.4 L768,182.2 L769.1,182.6 L770.3,182.8 L771.5,182.7 L772.7,182.3 L773.9,181.5 L775.1,180.4 L776.3,179 L777.5,177.3 L778.7,175.3 L779.9,173 L781.1,170.4 L782.3,167.7 L783.5,164.7" stroke="#fdbf72" stroke-opacity="0.33"/>
<path d="M640,143.1 L641.2,139 L642.4,135.1 L643.6,131.6 L644.8,128.4 L646,125.7 L647.2,123.5 L648.4,121.8 L649.6,120.8 L650.8,120.3 L652,120.4 L653.2,121.1 L654.4,122.3 L655.5,124.1 L656.7,126.3 L657.9,128.9 L659.1,131.9 L660.3,135.1 L661.5,138.5 L662.7,142 L663.9,145.6 L665.1,149.1 L666.3,152.4 L667.5,155.6 L668.7,158.6 L669.9,161.3 L671.1,163.7 L672.3,165.8 L673.5,167.5 L674.7,168.9 L675.9,170 L677.1,170.7 L678.3,171.2 L679.5,171.4 L680.7,171.5 L681.9,171.4 L683,171.2 L684.2,170.9 L685.4,170.7 L686.6,170.5 L687.8,170.4 L689,170.3 L690.2,170.5 L691.4,170.8 L692.6,171.2 L693.8,171.8 L695,172.5 L696.2,173.3 L697.4,174.1 L698.6,175 L699.8,175.9 L701,176.6 L702.2,177.2 L703.4,177.6 L704.6,177.7 L705.8,177.5 L707,176.9 L708.2,175.9 L709.4,174.5 L710.6,172.6 L711.8,170.2 L712.9,167.3 L714.1,163.9 L715.3,160.1 L716.5,155.9 L717.7,151.4 L718.9,146.6 L720.1,141.7 L721.3,136.6 L722.5,131.5 L723.7,126.6 L724.9,121.8 L726.1,117.3 L727.3,113.3 L728.5,109.7 L729.7,106.7 L730.9,104.3 L732.1,102.7 L733.3,101.8 L734.5,101.7 L735.7,102.4 L736.9,103.9 L738.1,106.2 L739.3,109.2 L740.5,112.9 L741.6,117.3 L742.8,122.2 L744,127.5 L745.2,133.2 L746.4,139.1 L747.6,145.2 L748.8,151.2 L750,157.2 L751.2,162.9 L752.4,168.4 L753.6,173.4 L754.8,178 L756,182 L757.2,185.3 L758.4,188.1 L759.6,190.1 L760.8,191.5 L762,192.2 L763.2,192.3 L764.4,191.8 L765.6,190.7 L766.8,189.1 L768,187.1 L769.1,184.7 L770.3,182.1 L771.5,179.3 L772.7,176.4 L773.9,173.5 L775.1,170.6 L776.3,167.8 L777.5,165.3 L778.7,162.9 L779.9,160.8 L781.1,159 L782.3,157.6 L783.5,156.4" stroke="#fdbf72" stroke-opacity="0.33"/>
<path d="M640,135 L641.2,133.2 L642.4,131.6 L643.6,130.1 L644.8,128.7 L646,127.6 L647.2,126.6 L648.4,125.9 L649.6,125.4 L650.8,125.2 L652,125.2 L653.2,125.4 L654.4,125.9 L655.5,126.7 L656.7,127.7 L657.9,129 L659.1,130.6 L660.3,132.3 L661.5,134.4 L662.7,136.6 L663.9,139 L665.1,141.7 L666.3,144.5 L667.5,147.5 L668.7,150.6 L669.9,153.8 L671.1,157 L672.3,160.3 L673.5,163.7 L674.7,167 L675.9,170.2 L677.1,173.4 L678.3,176.5 L679.5,179.4 L680.7,182.1 L681.9,184.6 L683,186.9 L684.2,188.9 L685.4,190.7 L686.6,192.1 L687.8,193.1 L689,193.8 L690.2,194.1 L691.4,194.1 L692.6,193.6 L693.8,192.8 L695,191.5 L696.2,189.9 L697.4,187.8 L698.6,185.4 L699.8,182.6 L701,179.5 L702.2,176.1 L703.4,172.4 L704.6,168.5 L705.8,164.3 L707,160 L708.2,155.5 L709.4,151 L710.6,146.4 L711.8,141.8 L712.9,137.3 L714.1,132.9 L715.3,128.6 L716.5,124.4 L717.7,120.6 L718.9,117 L720.1,113.7 L721.3,110.7 L722.5,108.1 L723.7,106 L724.9,104.2 L726.1,102.9 L727.3,102.1 L728.5,101.7 L729.7,101.8 L730.9,102.4 L732.1,103.4 L733.3,104.9 L734.5,106.8 L735.7,109.1 L736.9,111.9 L738.1,114.9 L739.3,118.3 L740.5,122 L741.6,125.9 L742.8,130.1 L744,134.4 L745.2,138.8 L746.4,143.3 L747.6,147.8 L748.8,152.2 L750,156.7 L751.2,161 L752.4,165.1 L753.6,169.1 L754.8,172.8 L756,176.3 L757.2,179.5 L758.4,182.4 L759.6,184.9 L760.8,187.1 L762,189 L763.2,190.4 L764.4,191.5 L765.6,192.2 L766.8,192.5 L768,192.5 L769.1,192.1 L770.3,191.3 L771.5,190.2 L772.7,188.8 L773.9,187.1 L775.1,185.2 L776.3,183 L777.5,180.5 L778.7,177.9 L779.9,175.2 L781.1,172.3 L782.3,169.3 L783.5,166.3" stroke="#fdbf72" stroke-opacity="0.33"/>
<path d="M640,153.1 L641.2,153 L642.4,153 L643.6,153.1 L644.8,153.2 L646,153.3 L647.2,153.3 L648.4,153.4 L649.6,153.5 L650.8,153.5 L652,153.5 L653.2,153.4 L654.4,153.4 L655.5,153.2 L656.7,153 L657.9,152.8 L659.1,152.5 L660.3,152.2 L661.5,151.9 L662.7,151.6 L663.9,151.2 L665.1,150.9 L666.3,150.5 L667.5,150.2 L668.7,150 L669.9,149.8 L671.1,149.7 L672.3,149.7 L673.5,149.8 L674.7,150 L675.9,150.4 L677.1,150.9 L678.3,151.5 L679.5,152.4 L680.7,153.4 L681.9,154.6 L683,155.9 L684.2,157.5 L685.4,159.2 L686.6,161.1 L687.8,163.1 L689,165.3 L690.2,167.6 L691.4,170.1 L692.6,172.6 L693.8,175.2 L695,177.8 L696.2,180.4 L697.4,183 L698.6,185.6 L699.8,188.1 L701,190.5 L702.2,192.8 L703.4,194.9 L704.6,196.8 L705.8,198.4 L707,199.8 L708.2,201 L709.4,201.8 L710.6,202.3 L711.8,202.5 L712.9,202.3 L714.1,201.8 L715.3,200.9 L716.5,199.6 L717.7,197.9 L718.9,195.9 L720.1,193.6 L721.3,190.9 L722.5,187.8 L723.7,184.5 L724.9,180.9 L726.1,177.1 L727.3,173.1 L728.5,168.8 L729.7,164.5 L730.9,160.1 L732.1,155.6 L733.3,151.1 L734.5,146.6 L735.7,142.2 L736.9,137.9 L738.1,133.8 L739.3,129.9 L740.5,126.3 L741.6,122.9 L742.8,119.8 L744,117.1 L745.2,114.7 L746.4,112.8 L747.6,111.2 L748.8,110.1 L750,109.5 L751.2,109.2 L752.4,109.5 L753.6,110.1 L754.8,111.2 L756,112.7 L757.2,114.7 L758.4,117 L759.6,119.6 L760.8,122.6 L762,125.9 L763.2,129.4 L764.4,133.2 L765.6,137.2 L766.8,141.3 L768,145.5 L769.1,149.8 L770.3,154.1 L771.5,158.3 L772.7,162.6 L773.9,166.7 L775.1,170.6 L776.3,174.5 L777.5,178.1 L778.7,181.4 L779.9,184.5 L781.1,187.4 L782.3,189.9 L783.5,192.1" stroke="#fdbf72" stroke-opacity="0.33"/>
<path d="M640,158.9 L641.2,160.6 L642.4,162.7 L643.6,165 L644.8,167.5 L646,170.3 L647.2,173.2 L648.4,176.2 L649.6,179.2 L650.8,182.3 L652,185.3 L653.2,188.3 L654.4,191 L655.5,193.6 L656.7,195.9 L657.9,197.9 L659.1,199.6 L660.3,200.9 L661.5,201.8 L662.7,202.4 L663.9,202.5 L665.1,202.2 L666.3,201.6 L667.5,200.6 L668.7,199.2 L669.9,197.5 L671.1,195.5 L672.3,193.2 L673.5,190.8 L674.7,188.2 L675.9,185.4 L677.1,182.6 L678.3,179.8 L679.5,177 L680.7,174.2 L681.9,171.6 L683,169 L684.2,166.6 L685.4,164.4 L686.6,162.3 L687.8,160.5 L689,158.8 L690.2,157.3 L691.4,156 L692.6,154.8 L693.8,153.8 L695,152.9 L696.2,152.1 L697.4,151.4 L698.6,150.7 L699.8,149.9 L701,149.2 L702.2,148.4 L703.4,147.5 L704.6,146.6 L705.8,145.5 L707,144.3 L708.2,143.1 L709.4,141.7 L710.6,140.2 L711.8,138.6 L712.9,137 L714.1,135.3 L715.3,133.6 L716.5,132 L717.7,130.4 L718.9,129 L720.1,127.7 L721.3,126.6 L722.5,125.8 L723.7,125.2 L724.9,125 L726.1,125.1 L727.3,125.6 L728.5,126.5 L729.7,127.7 L730.9,129.4 L732.1,131.5 L733.3,134 L734.5,136.9 L735.7,140.1 L736.9,143.7 L738.1,147.5 L739.3,151.5 L740.5,155.7 L741.6,160.1 L742.8,164.5 L744,168.8 L745.2,173.2 L746.4,177.3 L747.6,181.3 L748.8,185.1 L750,188.6 L751.2,191.7 L752.4,194.4 L753.6,196.7 L754.8,198.6 L756,200 L757.2,200.9 L758.4,201.4 L759.6,201.4 L760.8,201 L762,200.2 L763.2,199.1 L764.4,197.6 L765.6,195.8 L766.8,193.8 L768,191.6 L769.1,189.2 L770.3,186.9 L771.5,184.5 L772.7,182.1 L773.9,179.9 L775.1,177.7 L776.3,175.8 L777.5,174.1 L778.7,172.6 L779.9,171.3 L781.1,170.4 L782.3,169.7 L783.5,169.3" stroke="#fdbf72" stroke-opacity="0.33"/>
<path d="M640,136.5 L641.2,138.8 L642.4,141.4 L643.6,144.3 L644.8,147.4 L646,150.7 L647.2,154.1 L648.4,157.5 L649.6,160.8 L650.8,163.9 L652,166.9 L653.2,169.5 L654.4,171.8 L655.5,173.8 L656.7,175.2 L657.9,176.3 L659.1,176.9 L660.3,177 L661.5,176.7 L662.7,176.1 L663.9,175 L665.1,173.7 L666.3,172.2 L667.5,170.5 L668.7,168.7 L669.9,166.8 L671.1,165 L672.3,163.3 L673.5,161.7 L674.7,160.3 L675.9,159.2 L677.1,158.2 L678.3,157.5 L679.5,157 L680.7,156.7 L681.9,156.6 L683,156.7 L684.2,156.8 L685.4,156.9 L686.6,157 L687.8,157 L689,156.9 L690.2,156.5 L691.4,155.9 L692.6,154.9 L693.8,153.7 L695,152 L696.2,150 L697.4,147.7 L698.6,145 L699.8,142 L701,138.7 L702.2,135.3 L703.4,131.7 L704.6,128 L705.8,124.4 L707,120.8 L708.2,117.5 L709.4,114.4 L710.6,111.7 L711.8,109.3 L712.9,107.5 L714.1,106.1 L715.3,105.2 L716.5,104.9 L717.7,105.2 L718.9,106 L720.1,107.3 L721.3,109 L722.5,111.1 L723.7,113.6 L724.9,116.4 L726.1,119.4 L727.3,122.4 L728.5,125.5 L729.7,128.6 L730.9,131.6 L732.1,134.4 L733.3,136.9 L734.5,139.3 L735.7,141.3 L736.9,143 L738.1,144.4 L739.3,145.6 L740.5,146.4 L741.6,147 L742.8,147.5 L744,147.8 L745.2,148 L746.4,148.1 L747.6,148.4 L748.8,148.7 L750,149.1 L751.2,149.8 L752.4,150.7 L753.6,151.8 L754.8,153.1 L756,154.8 L757.2,156.6 L758.4,158.7 L759.6,161 L760.8,163.4 L762,165.8 L763.2,168.3 L764.4,170.7 L765.6,173 L766.8,175 L768,176.8 L769.1,178.3 L770.3,179.4 L771.5,180 L772.7,180.2 L773.9,179.9 L775.1,179.1 L776.3,177.9 L777.5,176.1 L778.7,174 L779.9,171.5 L781.1,168.7 L782.3,165.7 L783.5,162.5" stroke="#fdbf72" stroke-opacity="0.33"/>
<path d="M640,140.6 L641.2,138.6 L642.4,136.7 L643.6,135.1 L644.8,133.6 L646,132.5 L647.2,131.7 L648.4,131.3 L649.6,131.2 L650.8,131.5 L652,132.2 L653.2,133.3 L654.4,134.7 L655.5,136.5 L656.7,138.7 L657.9,141.1 L659.1,143.7 L660.3,146.6 L661.5,149.5 L662.7,152.6 L663.9,155.7 L665.1,158.8 L666.3,161.7 L667.5,164.6 L668.7,167.2 L669.9,169.7 L671.1,171.8 L672.3,173.7 L673.5,175.2 L674.7,176.4 L675.9,177.3 L677.1,177.8 L678.3,178 L679.5,177.9 L680.7,177.4 L681.9,176.7 L683,175.8 L684.2,174.7 L685.4,173.4 L686.6,171.9 L687.8,170.4 L689,168.9 L690.2,167.4 L691.4,165.8 L692.6,164.4 L693.8,163 L695,161.8 L696.2,160.6 L697.4,159.6 L698.6,158.7 L699.8,157.9 L701,157.2 L702.2,156.7 L703.4,156.1 L704.6,155.7 L705.8,155.2 L707,154.8 L708.2,154.3 L709.4,153.7 L710.6,153.1 L711.8,152.3 L712.9,151.4 L714.1,150.3 L715.3,149.1 L716.5,147.8 L717.7,146.2 L718.9,144.6 L720.1,142.8 L721.3,140.9 L722.5,139 L723.7,137 L724.9,135 L726.1,133.1 L727.3,131.3 L728.5,129.6 L729.7,128.1 L730.9,126.9 L732.1,125.9 L733.3,125.2 L734.5,124.9 L735.7,124.9 L736.9,125.4 L738.1,126.2 L739.3,127.5 L740.5,129.1 L741.6,131.2 L742.8,133.6 L744,136.4 L745.2,139.4 L746.4,142.7 L747.6,146.2 L748.8,149.8 L750,153.5 L751.2,157.2 L752.4,160.8 L753.6,164.4 L754.8,167.7 L756,170.8 L757.2,173.7 L758.4,176.2 L759.6,178.3 L760.8,180.1 L762,181.4 L763.2,182.3 L764.4,182.8 L765.6,182.8 L766.8,182.4 L768,181.6 L769.1,180.4 L770.3,179 L771.5,177.2 L772.7,175.2 L773.9,173.1 L775.1,170.8 L776.3,168.4 L777.5,166 L778.7,163.7 L779.9,161.4 L781.1,159.3 L782.3,157.3 L783.5,155.5" stroke="#fdbf72" stroke-opacity="0.33"/>
<path d="M839.5,178.3 L840.7,177.2 L841.9,175.8 L843.1,174.2 L844.3,172.3 L845.5,170.2 L846.6,167.9 L847.8,165.4 L849,162.7 L850.2,159.9 L851.4,157 L852.6,153.9 L853.8,150.7 L855,147.5 L856.2,144.3 L857.4,141.1 L858.6,137.9 L859.8,134.7 L861,131.7 L862.1,128.8 L863.3,126.1 L864.5,123.6 L865.7,121.2 L866.9,119.2 L868.1,117.4 L869.3,115.8 L870.5,114.6 L871.7,113.7 L872.9,113.1 L874.1,112.8 L875.2,112.9 L876.4,113.3 L877.6,114 L878.8,115.1 L880,116.4 L881.2,118.1 L882.4,120 L883.6,122.2 L884.8,124.6 L886,127.2 L887.2,130 L888.4,132.9 L889.5,135.9 L890.7,139.1 L891.9,142.2 L893.1,145.4 L894.3,148.6 L895.5,151.8 L896.7,154.9 L897.9,157.9 L899.1,160.7 L900.3,163.5 L901.5,166 L902.7,168.4 L903.9,170.6 L905,172.6 L906.2,174.4 L907.4,175.9 L908.6,177.2 L909.8,178.2 L911,179 L912.2,179.6 L913.4,179.9 L914.6,180.1 L915.8,179.9 L917,179.6 L918.1,179.1 L919.3,178.4 L920.5,177.5 L921.7,176.5 L922.9,175.3 L924.1,174 L925.3,172.6 L926.5,171 L927.7,169.4 L928.9,167.7 L930.1,166 L931.3,164.2 L932.5,162.4 L933.6,160.6 L934.8,158.8 L936,157 L937.2,155.3 L938.4,153.6 L939.6,151.9 L940.8,150.3 L942,148.7 L943.2,147.2 L944.4,145.8 L945.6,144.5 L946.8,143.3 L947.9,142.2 L949.1,141.2 L950.3,140.2 L951.5,139.4 L952.7,138.7 L953.9,138.2 L955.1,137.7 L956.3,137.4 L957.5,137.1 L958.7,137 L959.9,137 L961,137.2 L962.2,137.4 L963.4,137.7 L964.6,138.2 L965.8,138.7 L967,139.4 L968.2,140.1 L969.4,140.9 L970.6,141.9 L971.8,142.8 L973,143.9 L974.2,145 L975.4,146.1 L976.5,147.3 L977.7,148.6 L978.9,149.8 L980.1,151.1 L981.3,152.4 L982.5,153.7" stroke="#fdbf72" stroke-opacity="0.33"/>
<path d="M839.5,200.1 L840.7,201.1 L841.9,201.9 L843.1,202.3 L844.3,202.5 L845.5,202.4 L846.6,202 L847.8,201.3 L849,200.4 L850.2,199.1 L851.4,197.6 L852.6,195.9 L853.8,193.9 L855,191.7 L856.2,189.2 L857.4,186.6 L858.6,183.8 L859.8,180.8 L861,177.8 L862.1,174.5 L863.3,171.3 L864.5,167.9 L865.7,164.5 L866.9,161.1 L868.1,157.7 L869.3,154.4 L870.5,151.1 L871.7,147.9 L872.9,144.9 L874.1,142 L875.2,139.2 L876.4,136.7 L877.6,134.4 L878.8,132.3 L880,130.4 L881.2,128.8 L882.4,127.5 L883.6,126.4 L884.8,125.7 L886,125.2 L887.2,125 L888.4,125.1 L889.5,125.5 L890.7,126.2 L891.9,127.1 L893.1,128.3 L894.3,129.8 L895.5,131.4 L896.7,133.3 L897.9,135.4 L899.1,137.6 L900.3,140 L901.5,142.5 L902.7,145.1 L903.9,147.8 L905,150.5 L906.2,153.3 L907.4,156.1 L908.6,158.9 L909.8,161.7 L911,164.4 L912.2,167 L913.4,169.6 L914.6,172.1 L915.8,174.5 L917,176.8 L918.1,178.9 L919.3,180.9 L920.5,182.8 L921.7,184.6 L922.9,186.2 L924.1,187.6 L925.3,188.9 L926.5,190 L927.7,191 L928.9,191.9 L930.1,192.5 L931.3,193.1 L932.5,193.4 L933.6,193.7 L934.8,193.7 L936,193.7 L937.2,193.4 L938.4,193.1 L939.6,192.5 L940.8,191.9 L942,191.1 L943.2,190.1 L944.4,189.1 L945.6,187.9 L946.8,186.5 L947.9,185 L949.1,183.4 L950.3,181.7 L951.5,179.9 L952.7,178 L953.9,176 L955.1,173.9 L956.3,171.7 L957.5,169.5 L958.7,167.2 L959.9,164.9 L961,162.6 L962.2,160.3 L963.4,158 L964.6,155.8 L965.8,153.7 L967,151.6 L968.2,149.6 L969.4,147.8 L970.6,146.1 L971.8,144.6 L973,143.2 L974.2,142.1 L975.4,141.2 L976.5,140.5 L977.7,140 L978.9,139.8 L980.1,139.9 L981.3,140.1 L982.5,140.7" stroke="#fdbf72" stroke-opacity="0.33"/>
<path d="M839.5,187.3 L840.7,189.5 L841.9,191.4 L843.1,192.9 L844.3,194.1 L845.5,194.8 L846.6,195.2 L847.8,195.1 L849,194.6 L850.2,193.6 L851.4,192.3 L852.6,190.5 L853.8,188.3 L855,185.7 L856.2,182.8 L857.4,179.5 L858.6,175.9 L859.8,172.1 L861,167.9 L862.1,163.6 L863.3,159.2 L864.5,154.6 L865.7,150 L866.9,145.3 L868.1,140.7 L869.3,136.1 L870.5,131.7 L871.7,127.5 L872.9,123.5 L874.1,119.7 L875.2,116.2 L876.4,113.1 L877.6,110.4 L878.8,108 L880,106.1 L881.2,104.6 L882.4,103.6 L883.6,103.1 L884.8,103 L886,103.5 L887.2,104.4 L888.4,105.8 L889.5,107.6 L890.7,109.9 L891.9,112.5 L893.1,115.6 L894.3,119 L895.5,122.7 L896.7,126.7 L897.9,130.9 L899.1,135.2 L900.3,139.8 L901.5,144.4 L902.7,149 L903.9,153.7 L905,158.2 L906.2,162.7 L907.4,167 L908.6,171.2 L909.8,175.1 L911,178.7 L912.2,182.1 L913.4,185.1 L914.6,187.7 L915.8,190 L917,191.8 L918.1,193.3 L919.3,194.3 L920.5,194.9 L921.7,195.1 L922.9,194.8 L924.1,194.1 L925.3,193 L926.5,191.6 L927.7,189.8 L928.9,187.6 L930.1,185.2 L931.3,182.4 L932.5,179.4 L933.6,176.2 L934.8,172.9 L936,169.4 L937.2,165.8 L938.4,162.1 L939.6,158.4 L940.8,154.8 L942,151.1 L943.2,147.6 L944.4,144.2 L945.6,140.9 L946.8,137.8 L947.9,135 L949.1,132.3 L950.3,129.9 L951.5,127.8 L952.7,125.9 L953.9,124.4 L955.1,123.1 L956.3,122.2 L957.5,121.6 L958.7,121.3 L959.9,121.2 L961,121.5 L962.2,122.1 L963.4,122.9 L964.6,124 L965.8,125.4 L967,126.9 L968.2,128.7 L969.4,130.7 L970.6,132.8 L971.8,135 L973,137.4 L974.2,139.8 L975.4,142.4 L976.5,144.9 L977.7,147.4 L978.9,150 L980.1,152.5 L981.3,154.9 L982.5,157.3" stroke="#fdbf72" stroke-opacity="0.33"/>
<path d="M839.5,188.6 L840.7,191.3 L841.9,193.7 L843.1,195.8 L844.3,197.5 L845.5,198.9 L846.6,199.9 L847.8,200.4 L849,200.5 L850.2,200.2 L851.4,199.3 L852.6,198 L853.8,196.3 L855,194.1 L856.2,191.5 L857.4,188.5 L858.6,185.1 L859.8,181.5 L861,177.5 L862.1,173.4 L863.3,169 L864.5,164.6 L865.7,160.2 L866.9,155.8 L868.1,151.4 L869.3,147.3 L870.5,143.3 L871.7,139.6 L872.9,136.3 L874.1,133.3 L875.2,130.8 L876.4,128.7 L877.6,127.1 L878.8,126.1 L880,125.6 L881.2,125.7 L882.4,126.3 L883.6,127.4 L884.8,129.1 L886,131.3 L887.2,133.9 L888.4,137 L889.5,140.5 L890.7,144.3 L891.9,148.3 L893.1,152.6 L894.3,157.1 L895.5,161.6 L896.7,166.2 L897.9,170.7 L899.1,175.1 L900.3,179.4 L901.5,183.4 L902.7,187.2 L903.9,190.6 L905,193.6 L906.2,196.3 L907.4,198.5 L908.6,200.2 L909.8,201.5 L911,202.2 L912.2,202.5 L913.4,202.3 L914.6,201.6 L915.8,200.4 L917,198.9 L918.1,196.9 L919.3,194.6 L920.5,191.9 L921.7,189 L922.9,185.8 L924.1,182.5 L925.3,179 L926.5,175.5 L927.7,171.9 L928.9,168.3 L930.1,164.9 L931.3,161.5 L932.5,158.3 L933.6,155.3 L934.8,152.6 L936,150.1 L937.2,147.9 L938.4,146.1 L939.6,144.5 L940.8,143.3 L942,142.5 L943.2,142 L944.4,141.8 L945.6,142 L946.8,142.5 L947.9,143.4 L949.1,144.5 L950.3,145.8 L951.5,147.5 L952.7,149.3 L953.9,151.3 L955.1,153.4 L956.3,155.7 L957.5,158 L958.7,160.4 L959.9,162.8 L961,165.2 L962.2,167.5 L963.4,169.7 L964.6,171.9 L965.8,173.9 L967,175.8 L968.2,177.5 L969.4,178.9 L970.6,180.2 L971.8,181.3 L973,182.2 L974.2,182.8 L975.4,183.2 L976.5,183.4 L977.7,183.3 L978.9,183.1 L980.1,182.6 L981.3,181.9 L982.5,181.1" stroke="#fdbf72" stroke-opacity="0.33"/>
<path d="M839.5,157.6 L840.7,159.1 L841.9,160.8 L843.1,162.7 L844.3,164.9 L845.5,167.3 L846.6,170 L847.8,172.7 L849,175.7 L850.2,178.7 L851.4,181.8 L852.6,184.9 L853.8,187.9 L855,190.8 L856.2,193.5 L857.4,195.9 L858.6,198.1 L859.8,199.9 L861,201.2 L862.1,202.1 L863.3,202.5 L864.5,202.3 L865.7,201.5 L866.9,200.2 L868.1,198.2 L869.3,195.6 L870.5,192.4 L871.7,188.7 L872.9,184.4 L874.1,179.6 L875.2,174.5 L876.4,169 L877.6,163.2 L878.8,157.2 L880,151.2 L881.2,145.1 L882.4,139.1 L883.6,133.3 L884.8,127.8 L886,122.6 L887.2,117.9 L888.4,113.7 L889.5,110.1 L890.7,107.1 L891.9,104.8 L893.1,103.3 L894.3,102.5 L895.5,102.5 L896.7,103.3 L897.9,104.8 L899.1,107 L900.3,110 L901.5,113.5 L902.7,117.6 L903.9,122.3 L905,127.3 L906.2,132.7 L907.4,138.4 L908.6,144.1 L909.8,150 L911,155.9 L912.2,161.6 L913.4,167.1 L914.6,172.4 L915.8,177.3 L917,181.8 L918.1,185.9 L919.3,189.5 L920.5,192.5 L921.7,195 L922.9,196.9 L924.1,198.3 L925.3,199.1 L926.5,199.4 L927.7,199.1 L928.9,198.4 L930.1,197.3 L931.3,195.8 L932.5,194 L933.6,191.9 L934.8,189.7 L936,187.2 L937.2,184.7 L938.4,182.1 L939.6,179.5 L940.8,177 L942,174.6 L943.2,172.2 L944.4,170.1 L945.6,168.1 L946.8,166.2 L947.9,164.6 L949.1,163.1 L950.3,161.8 L951.5,160.6 L952.7,159.6 L953.9,158.7 L955.1,157.9 L956.3,157.2 L957.5,156.5 L958.7,155.8 L959.9,155.2 L961,154.5 L962.2,153.8 L963.4,153 L964.6,152.1 L965.8,151.2 L967,150.2 L968.2,149.1 L969.4,148 L970.6,146.9 L971.8,145.7 L973,144.6 L974.2,143.5 L975.4,142.4 L976.5,141.5 L977.7,140.7 L978.9,140.1 L980.1,139.7 L981.3,139.5 L982.5,139.6" stroke="#fdbf72" stroke-opacity="0.33"/>
<path d="M839.5,178.1 L840.7,179.3 L841.9,180.5 L843.1,181.7 L844.3,182.8 L845.5,184 L846.6,185.1 L847.8,186.2 L849,187.3 L850.2,188.4 L851.4,189.4 L852.6,190.4 L853.8,191.4 L855,192.2 L856.2,193 L857.4,193.6 L858.6,194.1 L859.8,194.4 L861,194.6 L862.1,194.5 L863.3,194.2 L864.5,193.7 L865.7,192.9 L866.9,191.8 L868.1,190.4 L869.3,188.7 L870.5,186.7 L871.7,184.4 L872.9,181.7 L874.1,178.8 L875.2,175.6 L876.4,172.1 L877.6,168.4 L878.8,164.5 L880,160.3 L881.2,156.1 L882.4,151.7 L883.6,147.2 L884.8,142.7 L886,138.2 L887.2,133.8 L888.4,129.5 L889.5,125.3 L890.7,121.4 L891.9,117.7 L893.1,114.3 L894.3,111.3 L895.5,108.6 L896.7,106.3 L897.9,104.5 L899.1,103.1 L900.3,102.1 L901.5,101.7 L902.7,101.7 L903.9,102.3 L905,103.3 L906.2,104.7 L907.4,106.7 L908.6,109 L909.8,111.8 L911,114.8 L912.2,118.3 L913.4,122 L914.6,125.9 L915.8,130.1 L917,134.4 L918.1,138.7 L919.3,143.2 L920.5,147.6 L921.7,152 L922.9,156.4 L924.1,160.6 L925.3,164.6 L926.5,168.5 L927.7,172.1 L928.9,175.5 L930.1,178.6 L931.3,181.5 L932.5,184 L933.6,186.3 L934.8,188.2 L936,189.9 L937.2,191.2 L938.4,192.3 L939.6,193.1 L940.8,193.6 L942,193.9 L943.2,194 L944.4,193.9 L945.6,193.6 L946.8,193.2 L947.9,192.6 L949.1,191.9 L950.3,191.2 L951.5,190.3 L952.7,189.4 L953.9,188.4 L955.1,187.4 L956.3,186.4 L957.5,185.4 L958.7,184.3 L959.9,183.2 L961,182.1 L962.2,181 L963.4,179.9 L964.6,178.7 L965.8,177.5 L967,176.3 L968.2,174.9 L969.4,173.6 L970.6,172.1 L971.8,170.6 L973,169 L974.2,167.3 L975.4,165.5 L976.5,163.7 L977.7,161.7 L978.9,159.7 L980.1,157.6 L981.3,155.4 L982.5,153.2" stroke="#fdbf72" stroke-opacity="0.33"/>
<path d="M839.5,190.8 L840.7,190.1 L841.9,189.2 L843.1,188 L844.3,186.5 L845.5,184.8 L846.6,182.8 L847.8,180.6 L849,178 L850.2,175.3 L851.4,172.3 L852.6,169.1 L853.8,165.8 L855,162.2 L856.2,158.5 L857.4,154.7 L858.6,150.8 L859.8,146.8 L861,142.8 L862.1,138.8 L863.3,134.9 L864.5,131 L865.7,127.3 L866.9,123.6 L868.1,120.2 L869.3,117 L870.5,114 L871.7,111.3 L872.9,108.9 L874.1,106.8 L875.2,105 L876.4,103.6 L877.6,102.6 L878.8,102 L880,101.7 L881.2,101.8 L882.4,102.3 L883.6,103.2 L884.8,104.4 L886,106 L887.2,108 L888.4,110.2 L889.5,112.7 L890.7,115.5 L891.9,118.5 L893.1,121.7 L894.3,125.1 L895.5,128.7 L896.7,132.3 L897.9,136.1 L899.1,139.9 L900.3,143.8 L901.5,147.6 L902.7,151.4 L903.9,155.2 L905,158.8 L906.2,162.4 L907.4,165.9 L908.6,169.2 L909.8,172.3 L911,175.3 L912.2,178 L913.4,180.5 L914.6,182.8 L915.8,184.9 L917,186.7 L918.1,188.2 L919.3,189.5 L920.5,190.5 L921.7,191.2 L922.9,191.7 L924.1,191.9 L925.3,191.8 L926.5,191.4 L927.7,190.7 L928.9,189.8 L930.1,188.7 L931.3,187.3 L932.5,185.7 L933.6,183.9 L934.8,181.9 L936,179.7 L937.2,177.4 L938.4,175 L939.6,172.4 L940.8,169.8 L942,167.1 L943.2,164.4 L944.4,161.7 L945.6,159 L946.8,156.4 L947.9,153.7 L949.1,151.2 L950.3,148.8 L951.5,146.5 L952.7,144.3 L953.9,142.2 L955.1,140.3 L956.3,138.5 L957.5,136.9 L958.7,135.5 L959.9,134.3 L961,133.2 L962.2,132.3 L963.4,131.5 L964.6,130.9 L965.8,130.5 L967,130.2 L968.2,130.1 L969.4,130.1 L970.6,130.2 L971.8,130.5 L973,130.9 L974.2,131.4 L975.4,132 L976.5,132.7 L977.7,133.5 L978.9,134.4 L980.1,135.5 L981.3,136.6 L982.5,137.7" stroke="#fdbf72" stroke-opacity="0.33"/>
<path d="M839.5,156.3 L840.7,159.9 L841.9,163.5 L843.1,167 L844.3,170.4 L845.5,173.6 L846.6,176.7 L847.8,179.5 L849,182.2 L850.2,184.5 L851.4,186.6 L852.6,188.4 L853.8,189.9 L855,191.1 L856.2,191.9 L857.4,192.3 L858.6,192.4 L859.8,192.1 L861,191.4 L862.1,190.4 L863.3,189 L864.5,187.2 L865.7,185.1 L866.9,182.6 L868.1,179.8 L869.3,176.7 L870.5,173.4 L871.7,169.8 L872.9,165.9 L874.1,161.9 L875.2,157.7 L876.4,153.4 L877.6,149 L878.8,144.6 L880,140.1 L881.2,135.7 L882.4,131.4 L883.6,127.3 L884.8,123.3 L886,119.5 L887.2,116 L888.4,112.8 L889.5,109.9 L890.7,107.4 L891.9,105.4 L893.1,103.7 L894.3,102.6 L895.5,101.9 L896.7,101.7 L897.9,102 L899.1,102.8 L900.3,104.2 L901.5,106 L902.7,108.3 L903.9,111 L905,114.2 L906.2,117.8 L907.4,121.7 L908.6,126 L909.8,130.5 L911,135.2 L912.2,140.1 L913.4,145.1 L914.6,150.1 L915.8,155.1 L917,160.1 L918.1,164.9 L919.3,169.6 L920.5,174 L921.7,178.1 L922.9,181.9 L924.1,185.3 L925.3,188.3 L926.5,190.9 L927.7,193 L928.9,194.6 L930.1,195.7 L931.3,196.4 L932.5,196.5 L933.6,196.2 L934.8,195.4 L936,194.1 L937.2,192.4 L938.4,190.3 L939.6,187.9 L940.8,185.1 L942,182 L943.2,178.7 L944.4,175.2 L945.6,171.6 L946.8,167.8 L947.9,164 L949.1,160.2 L950.3,156.4 L951.5,152.7 L952.7,149.1 L953.9,145.6 L955.1,142.3 L956.3,139.2 L957.5,136.4 L958.7,133.7 L959.9,131.4 L961,129.3 L962.2,127.5 L963.4,126 L964.6,124.8 L965.8,123.9 L967,123.3 L968.2,122.9 L969.4,122.8 L970.6,123 L971.8,123.4 L973,124 L974.2,124.8 L975.4,125.9 L976.5,127.1 L977.7,128.5 L978.9,130 L980.1,131.7 L981.3,133.5 L982.5,135.4" stroke="#fdbf72" stroke-opacity="0.33"/>
<path d="M839.5,176.3 L840.7,178.5 L841.9,180.5 L843.1,182.2 L844.3,183.5 L845.5,184.5 L846.6,185.1 L847.8,185.3 L849,185.1 L850.2,184.5 L851.4,183.5 L852.6,182.1 L853.8,180.3 L855,178.1 L856.2,175.6 L857.4,172.8 L858.6,169.7 L859.8,166.4 L861,162.9 L862.1,159.3 L863.3,155.6 L864.5,151.8 L865.7,148.1 L866.9,144.4 L868.1,140.9 L869.3,137.6 L870.5,134.5 L871.7,131.7 L872.9,129.2 L874.1,127.1 L875.2,125.3 L876.4,124 L877.6,123.1 L878.8,122.7 L880,122.7 L881.2,123.2 L882.4,124.1 L883.6,125.4 L884.8,127.1 L886,129.3 L887.2,131.7 L888.4,134.5 L889.5,137.5 L890.7,140.8 L891.9,144.2 L893.1,147.7 L894.3,151.3 L895.5,154.9 L896.7,158.5 L897.9,162 L899.1,165.3 L900.3,168.4 L901.5,171.3 L902.7,174 L903.9,176.3 L905,178.3 L906.2,180 L907.4,181.3 L908.6,182.2 L909.8,182.7 L911,182.8 L912.2,182.6 L913.4,182 L914.6,181.1 L915.8,179.9 L917,178.3 L918.1,176.5 L919.3,174.5 L920.5,172.3 L921.7,169.9 L922.9,167.4 L924.1,164.8 L925.3,162.2 L926.5,159.6 L927.7,157 L928.9,154.5 L930.1,152 L931.3,149.7 L932.5,147.6 L933.6,145.6 L934.8,143.9 L936,142.3 L937.2,141 L938.4,139.9 L939.6,139 L940.8,138.4 L942,138 L943.2,137.9 L944.4,138 L945.6,138.3 L946.8,138.8 L947.9,139.5 L949.1,140.4 L950.3,141.4 L951.5,142.6 L952.7,143.9 L953.9,145.3 L955.1,146.8 L956.3,148.4 L957.5,150 L958.7,151.6 L959.9,153.2 L961,154.8 L962.2,156.4 L963.4,157.9 L964.6,159.4 L965.8,160.7 L967,162 L968.2,163.2 L969.4,164.3 L970.6,165.2 L971.8,166 L973,166.7 L974.2,167.2 L975.4,167.6 L976.5,167.9 L977.7,168 L978.9,167.9 L980.1,167.7 L981.3,167.4 L982.5,166.9" stroke="#fdbf72" stroke-opacity="0.33"/>
<path d="M839.5,190.3 L840.7,191.7 L841.9,193 L843.1,194.1 L844.3,195 L845.5,195.7 L846.6,196.3 L847.8,196.8 L849,197.1 L850.2,197.3 L851.4,197.5 L852.6,197.5 L853.8,197.4 L855,197.2 L856.2,196.9 L857.4,196.5 L858.6,196 L859.8,195.2 L861,194.4 L862.1,193.3 L863.3,192 L864.5,190.4 L865.7,188.6 L866.9,186.5 L868.1,184.1 L869.3,181.5 L870.5,178.5 L871.7,175.2 L872.9,171.7 L874.1,167.8 L875.2,163.7 L876.4,159.4 L877.6,154.9 L878.8,150.3 L880,145.6 L881.2,140.9 L882.4,136.2 L883.6,131.5 L884.8,127 L886,122.8 L887.2,118.8 L888.4,115.1 L889.5,111.8 L890.7,108.9 L891.9,106.4 L893.1,104.5 L894.3,103 L895.5,102.1 L896.7,101.7 L897.9,101.8 L899.1,102.5 L900.3,103.7 L901.5,105.3 L902.7,107.3 L903.9,109.8 L905,112.6 L906.2,115.7 L907.4,119.1 L908.6,122.6 L909.8,126.3 L911,130.2 L912.2,134 L913.4,138 L914.6,141.8 L915.8,145.7 L917,149.4 L918.1,153.1 L919.3,156.6 L920.5,160 L921.7,163.3 L922.9,166.5 L924.1,169.5 L925.3,172.3 L926.5,175.1 L927.7,177.7 L928.9,180.2 L930.1,182.6 L931.3,184.9 L932.5,187.1 L933.6,189.2 L934.8,191.2 L936,193.1 L937.2,194.9 L938.4,196.5 L939.6,198 L940.8,199.3 L942,200.4 L943.2,201.3 L944.4,202 L945.6,202.4 L946.8,202.5 L947.9,202.3 L949.1,201.9 L950.3,201.1 L951.5,200 L952.7,198.6 L953.9,196.8 L955.1,194.8 L956.3,192.5 L957.5,189.9 L958.7,187.1 L959.9,184.1 L961,180.9 L962.2,177.7 L963.4,174.3 L964.6,171 L965.8,167.6 L967,164.4 L968.2,161.2 L969.4,158.2 L970.6,155.4 L971.8,152.8 L973,150.4 L974.2,148.3 L975.4,146.5 L976.5,145 L977.7,143.7 L978.9,142.7 L980.1,142 L981.3,141.5 L982.5,141.2" stroke="#fdbf72" stroke-opacity="0.33"/>
<path d="M839.5,158.4 L840.7,161.4 L841.9,164.3 L843.1,167.2 L844.3,170 L845.5,172.6 L846.6,175.2 L847.8,177.4 L849,179.5 L850.2,181.3 L851.4,182.7 L852.6,183.8 L853.8,184.5 L855,184.8 L856.2,184.6 L857.4,184 L858.6,183 L859.8,181.5 L861,179.5 L862.1,177.1 L863.3,174.3 L864.5,171.1 L865.7,167.5 L866.9,163.6 L868.1,159.4 L869.3,155 L870.5,150.3 L871.7,145.6 L872.9,140.8 L874.1,136.1 L875.2,131.4 L876.4,126.8 L877.6,122.5 L878.8,118.4 L880,114.7 L881.2,111.4 L882.4,108.5 L883.6,106 L884.8,104.1 L886,102.8 L887.2,101.9 L888.4,101.7 L889.5,102 L890.7,102.9 L891.9,104.4 L893.1,106.3 L894.3,108.8 L895.5,111.7 L896.7,115.1 L897.9,118.8 L899.1,122.7 L900.3,127 L901.5,131.4 L902.7,135.9 L903.9,140.5 L905,145.1 L906.2,149.6 L907.4,154 L908.6,158.2 L909.8,162.2 L911,166 L912.2,169.4 L913.4,172.5 L914.6,175.2 L915.8,177.5 L917,179.5 L918.1,181 L919.3,182.1 L920.5,182.8 L921.7,183.1 L922.9,183 L924.1,182.6 L925.3,181.7 L926.5,180.6 L927.7,179.2 L928.9,177.5 L930.1,175.6 L931.3,173.4 L932.5,171.1 L933.6,168.6 L934.8,166 L936,163.4 L937.2,160.6 L938.4,157.9 L939.6,155.2 L940.8,152.5 L942,149.8 L943.2,147.3 L944.4,144.8 L945.6,142.5 L946.8,140.3 L947.9,138.2 L949.1,136.4 L950.3,134.7 L951.5,133.3 L952.7,132 L953.9,131 L955.1,130.2 L956.3,129.6 L957.5,129.3 L958.7,129.2 L959.9,129.3 L961,129.6 L962.2,130.2 L963.4,131 L964.6,131.9 L965.8,133.1 L967,134.4 L968.2,135.9 L969.4,137.5 L970.6,139.3 L971.8,141.1 L973,143 L974.2,144.9 L975.4,146.9 L976.5,148.9 L977.7,150.9 L978.9,152.8 L980.1,154.7 L981.3,156.5 L982.5,158.2" stroke="#fdbf72" stroke-opacity="0.33"/>
<path d="M839.5,180.3 L840.7,179.4 L841.9,178 L843.1,176.2 L844.3,174 L845.5,171.6 L846.6,168.9 L847.8,166.1 L849,163.1 L850.2,160.1 L851.4,157.2 L852.6,154.3 L853.8,151.5 L855,148.8 L856.2,146.4 L857.4,144.2 L858.6,142.1 L859.8,140.3 L861,138.7 L862.1,137.3 L863.3,136.1 L864.5,135.1 L865.7,134.1 L866.9,133.3 L868.1,132.6 L869.3,131.9 L870.5,131.2 L871.7,130.5 L872.9,129.8 L874.1,129 L875.2,128.2 L876.4,127.3 L877.6,126.4 L878.8,125.5 L880,124.5 L881.2,123.6 L882.4,122.8 L883.6,122.1 L884.8,121.5 L886,121 L887.2,120.9 L888.4,121 L889.5,121.4 L890.7,122.1 L891.9,123.2 L893.1,124.7 L894.3,126.6 L895.5,128.9 L896.7,131.6 L897.9,134.7 L899.1,138.1 L900.3,141.7 L901.5,145.7 L902.7,149.8 L903.9,154 L905,158.2 L906.2,162.4 L907.4,166.5 L908.6,170.3 L909.8,173.9 L911,177.1 L912.2,179.9 L913.4,182.1 L914.6,183.8 L915.8,184.9 L917,185.4 L918.1,185.3 L919.3,184.5 L920.5,183.1 L921.7,181.1 L922.9,178.5 L924.1,175.4 L925.3,171.9 L926.5,168 L927.7,163.8 L928.9,159.4 L930.1,154.9 L931.3,150.3 L932.5,145.9 L933.6,141.6 L934.8,137.5 L936,133.7 L937.2,130.3 L938.4,127.4 L939.6,124.9 L940.8,123 L942,121.6 L943.2,120.7 L944.4,120.3 L945.6,120.4 L946.8,121 L947.9,122 L949.1,123.4 L950.3,125.1 L951.5,127.1 L952.7,129.2 L953.9,131.5 L955.1,133.7 L956.3,136 L957.5,138.2 L958.7,140.2 L959.9,142.1 L961,143.8 L962.2,145.1 L963.4,146.3 L964.6,147.1 L965.8,147.7 L967,148.1 L968.2,148.2 L969.4,148.1 L970.6,147.9 L971.8,147.5 L973,147.1 L974.2,146.7 L975.4,146.2 L976.5,145.9 L977.7,145.7 L978.9,145.6 L980.1,145.7 L981.3,146 L982.5,146.6" stroke="#fdbf72" stroke-opacity="0.33"/>
<path d="M839.5,127.7 L840.7,128.1 L841.9,128.9 L843.1,130.1 L844.3,131.5 L845.5,133.3 L846.6,135.4 L847.8,137.7 L849,140.3 L850.2,143 L851.4,146 L852.6,149 L853.8,152.1 L855,155.3 L856.2,158.4 L857.4,161.5 L858.6,164.4 L859.8,167.3 L861,169.9 L862.1,172.3 L863.3,174.4 L864.5,176.2 L865.7,177.7 L866.9,178.8 L868.1,179.6 L869.3,179.9 L870.5,179.9 L871.7,179.4 L872.9,178.6 L874.1,177.4 L875.2,175.7 L876.4,173.8 L877.6,171.5 L878.8,168.9 L880,166 L881.2,163 L882.4,159.7 L883.6,156.3 L884.8,152.9 L886,149.4 L887.2,145.9 L888.4,142.5 L889.5,139.2 L890.7,136.1 L891.9,133.2 L893.1,130.5 L894.3,128.2 L895.5,126.1 L896.7,124.4 L897.9,123.1 L899.1,122.2 L900.3,121.6 L901.5,121.5 L902.7,121.8 L903.9,122.4 L905,123.5 L906.2,124.9 L907.4,126.6 L908.6,128.6 L909.8,130.9 L911,133.5 L912.2,136.2 L913.4,139 L914.6,141.9 L915.8,144.9 L917,147.9 L918.1,150.9 L919.3,153.7 L920.5,156.5 L921.7,159 L922.9,161.4 L924.1,163.5 L925.3,165.4 L926.5,167 L927.7,168.3 L928.9,169.3 L930.1,170 L931.3,170.4 L932.5,170.5 L933.6,170.3 L934.8,169.8 L936,169.1 L937.2,168.1 L938.4,167 L939.6,165.7 L940.8,164.2 L942,162.6 L943.2,161 L944.4,159.3 L945.6,157.6 L946.8,155.9 L947.9,154.3 L949.1,152.7 L950.3,151.2 L951.5,149.8 L952.7,148.6 L953.9,147.5 L955.1,146.6 L956.3,145.8 L957.5,145.2 L958.7,144.7 L959.9,144.4 L961,144.2 L962.2,144.2 L963.4,144.3 L964.6,144.5 L965.8,144.8 L967,145.1 L968.2,145.6 L969.4,146 L970.6,146.5 L971.8,146.9 L973,147.4 L974.2,147.8 L975.4,148.2 L976.5,148.6 L977.7,148.9 L978.9,149.1 L980.1,149.3 L981.3,149.4 L982.5,149.5" stroke="#fdbf72" stroke-opacity="0.33"/>
<path d="M839.5,167.6 L840.7,171.3 L841.9,174.8 L843.1,178.1 L844.3,180.9 L845.5,183.3 L846.6,185.1 L847.8,186.3 L849,186.9 L850.2,186.7 L851.4,185.9 L852.6,184.3 L853.8,182 L855,178.9 L856.2,175.3 L857.4,171.1 L858.6,166.3 L859.8,161.1 L861,155.6 L862.1,149.9 L863.3,144.1 L864.5,138.3 L865.7,132.6 L866.9,127.1 L868.1,122 L869.3,117.3 L870.5,113.1 L871.7,109.5 L872.9,106.5 L874.1,104.3 L875.2,102.7 L876.4,101.8 L877.6,101.7 L878.8,102.2 L880,103.4 L881.2,105.2 L882.4,107.5 L883.6,110.3 L884.8,113.4 L886,116.9 L887.2,120.6 L888.4,124.4 L889.5,128.2 L890.7,132 L891.9,135.8 L893.1,139.3 L894.3,142.7 L895.5,145.8 L896.7,148.6 L897.9,151.1 L899.1,153.4 L900.3,155.3 L901.5,156.9 L902.7,158.3 L903.9,159.4 L905,160.4 L906.2,161.2 L907.4,161.8 L908.6,162.4 L909.8,162.9 L911,163.4 L912.2,163.9 L913.4,164.4 L914.6,165 L915.8,165.6 L917,166.2 L918.1,166.8 L919.3,167.5 L920.5,168.1 L921.7,168.6 L922.9,169 L924.1,169.3 L925.3,169.4 L926.5,169.3 L927.7,169 L928.9,168.3 L930.1,167.3 L931.3,165.9 L932.5,164.3 L933.6,162.2 L934.8,159.9 L936,157.2 L937.2,154.2 L938.4,151 L939.6,147.6 L940.8,144 L942,140.4 L943.2,136.8 L944.4,133.3 L945.6,130 L946.8,126.9 L947.9,124.1 L949.1,121.7 L950.3,119.8 L951.5,118.3 L952.7,117.3 L953.9,116.9 L955.1,117.1 L956.3,117.8 L957.5,119 L958.7,120.8 L959.9,123 L961,125.7 L962.2,128.7 L963.4,132 L964.6,135.5 L965.8,139.2 L967,142.9 L968.2,146.5 L969.4,150 L970.6,153.2 L971.8,156.2 L973,158.9 L974.2,161.2 L975.4,163 L976.5,164.4 L977.7,165.3 L978.9,165.8 L980.1,165.8 L981.3,165.4 L982.5,164.6" stroke="#fdbf72" stroke-opacity="0.33"/>
<path d="M839.5,146.4 L840.7,144.7 L841.9,143.5 L843.1,142.6 L844.3,142.1 L845.5,141.9 L846.6,141.9 L847.8,141.9 L849,141.8 L850.2,141.7 L851.4,141.3 L852.6,140.6 L853.8,139.6 L855,138.1 L856.2,136.3 L857.4,134 L858.6,131.5 L859.8,128.6 L861,125.5 L862.1,122.3 L863.3,119 L864.5,116 L865.7,113.2 L866.9,110.8 L868.1,108.9 L869.3,107.6 L870.5,107 L871.7,107.2 L872.9,108.3 L874.1,110.2 L875.2,112.9 L876.4,116.4 L877.6,120.6 L878.8,125.4 L880,130.8 L881.2,136.5 L882.4,142.4 L883.6,148.4 L884.8,154.2 L886,159.8 L887.2,165 L888.4,169.7 L889.5,173.8 L890.7,177.1 L891.9,179.7 L893.1,181.4 L894.3,182.4 L895.5,182.6 L896.7,182.1 L897.9,181 L899.1,179.4 L900.3,177.4 L901.5,175.1 L902.7,172.6 L903.9,170.1 L905,167.8 L906.2,165.6 L907.4,163.7 L908.6,162.2 L909.8,161.1 L911,160.4 L912.2,160.1 L913.4,160.2 L914.6,160.7 L915.8,161.4 L917,162.2 L918.1,163.2 L919.3,164 L920.5,164.8 L921.7,165.2 L922.9,165.3 L924.1,165 L925.3,164.1 L926.5,162.7 L927.7,160.8 L928.9,158.3 L930.1,155.3 L931.3,151.9 L932.5,148.1 L933.6,144 L934.8,139.8 L936,135.7 L937.2,131.6 L938.4,127.8 L939.6,124.4 L940.8,121.6 L942,119.3 L943.2,117.7 L944.4,116.9 L945.6,116.9 L946.8,117.6 L947.9,119.1 L949.1,121.2 L950.3,124 L951.5,127.3 L952.7,130.9 L953.9,134.8 L955.1,138.9 L956.3,142.8 L957.5,146.7 L958.7,150.2 L959.9,153.3 L961,155.9 L962.2,158 L963.4,159.5 L964.6,160.3 L965.8,160.6 L967,160.2 L968.2,159.4 L969.4,158.2 L970.6,156.7 L971.8,155 L973,153.2 L974.2,151.4 L975.4,149.8 L976.5,148.5 L977.7,147.6 L978.9,147.1 L980.1,147.1 L981.3,147.6 L982.5,148.6" stroke="#fdbf72" stroke-opacity="0.33"/>
<path d="M839.5,155.8 L840.7,160.2 L841.9,164.7 L843.1,169.3 L844.3,173.9 L845.5,178.4 L846.6,182.7 L847.8,186.7 L849,190.4 L850.2,193.7 L851.4,196.5 L852.6,198.7 L853.8,200.4 L855,201.5 L856.2,201.9 L857.4,201.7 L858.6,200.8 L859.8,199.3 L861,197.3 L862.1,194.7 L863.3,191.6 L864.5,188.1 L865.7,184.2 L866.9,180 L868.1,175.6 L869.3,171 L870.5,166.4 L871.7,161.8 L872.9,157.1 L874.1,152.6 L875.2,148.3 L876.4,144.1 L877.6,140.1 L878.8,136.3 L880,132.8 L881.2,129.6 L882.4,126.6 L883.6,123.8 L884.8,121.3 L886,119 L887.2,116.9 L888.4,114.9 L889.5,113.2 L890.7,111.6 L891.9,110.1 L893.1,108.8 L894.3,107.6 L895.5,106.5 L896.7,105.6 L897.9,104.9 L899.1,104.4 L900.3,104.1 L901.5,104.1 L902.7,104.4 L903.9,105 L905,105.9 L906.2,107.3 L907.4,109 L908.6,111.2 L909.8,113.8 L911,116.9 L912.2,120.4 L913.4,124.4 L914.6,128.8 L915.8,133.5 L917,138.5 L918.1,143.8 L919.3,149.3 L920.5,155 L921.7,160.6 L922.9,166.2 L924.1,171.7 L925.3,177 L926.5,181.9 L927.7,186.5 L928.9,190.6 L930.1,194.2 L931.3,197.1 L932.5,199.5 L933.6,201.2 L934.8,202.2 L936,202.5 L937.2,202.1 L938.4,201.1 L939.6,199.5 L940.8,197.3 L942,194.6 L943.2,191.5 L944.4,188 L945.6,184.2 L946.8,180.2 L947.9,176.2 L949.1,172.1 L950.3,168 L951.5,164.1 L952.7,160.3 L953.9,156.8 L955.1,153.6 L956.3,150.7 L957.5,148.1 L958.7,145.9 L959.9,144 L961,142.4 L962.2,141.2 L963.4,140.2 L964.6,139.5 L965.8,138.9 L967,138.5 L968.2,138.3 L969.4,138 L970.6,137.8 L971.8,137.6 L973,137.3 L974.2,136.9 L975.4,136.5 L976.5,135.9 L977.7,135.2 L978.9,134.5 L980.1,133.6 L981.3,132.8 L982.5,131.9" stroke="#fdbf72" stroke-opacity="0.33"/>
<path d="M839.5,181.4 L840.7,183.9 L841.9,186.1 L843.1,187.7 L844.3,188.9 L845.5,189.5 L846.6,189.6 L847.8,189.2 L849,188.2 L850.2,186.8 L851.4,184.8 L852.6,182.4 L853.8,179.6 L855,176.4 L856.2,172.9 L857.4,169.1 L858.6,165 L859.8,160.9 L861,156.6 L862.1,152.2 L863.3,147.9 L864.5,143.6 L865.7,139.4 L866.9,135.4 L868.1,131.6 L869.3,128.1 L870.5,124.8 L871.7,121.8 L872.9,119.2 L874.1,116.9 L875.2,114.9 L876.4,113.2 L877.6,111.9 L878.8,110.9 L880,110.2 L881.2,109.7 L882.4,109.5 L883.6,109.6 L884.8,109.8 L886,110.2 L887.2,110.7 L888.4,111.3 L889.5,112 L890.7,112.7 L891.9,113.4 L893.1,114.1 L894.3,114.8 L895.5,115.4 L896.7,116 L897.9,116.5 L899.1,117 L900.3,117.4 L901.5,117.8 L902.7,118.2 L903.9,118.6 L905,119 L906.2,119.5 L907.4,120 L908.6,120.6 L909.8,121.4 L911,122.3 L912.2,123.3 L913.4,124.6 L914.6,126 L915.8,127.7 L917,129.6 L918.1,131.8 L919.3,134.2 L920.5,136.8 L921.7,139.6 L922.9,142.7 L924.1,145.9 L925.3,149.2 L926.5,152.7 L927.7,156.2 L928.9,159.8 L930.1,163.3 L931.3,166.7 L932.5,170.1 L933.6,173.2 L934.8,176.2 L936,178.8 L937.2,181.2 L938.4,183.2 L939.6,184.8 L940.8,186 L942,186.7 L943.2,187 L944.4,186.7 L945.6,186 L946.8,184.8 L947.9,183.2 L949.1,181 L950.3,178.5 L951.5,175.6 L952.7,172.3 L953.9,168.7 L955.1,164.8 L956.3,160.7 L957.5,156.5 L958.7,152.2 L959.9,147.9 L961,143.7 L962.2,139.5 L963.4,135.5 L964.6,131.7 L965.8,128.2 L967,125 L968.2,122.2 L969.4,119.7 L970.6,117.6 L971.8,116 L973,114.8 L974.2,114 L975.4,113.7 L976.5,113.8 L977.7,114.3 L978.9,115.1 L980.1,116.3 L981.3,117.8 L982.5,119.6" stroke="#fdbf72" stroke-opacity="0.33"/>
<path d="M839.5,175.9 L840.7,172.6 L841.9,169 L843.1,165.3 L844.3,161.3 L845.5,157.3 L846.6,153.2 L847.8,149 L849,144.9 L850.2,140.7 L851.4,136.6 L852.6,132.7 L853.8,128.8 L855,125.1 L856.2,121.6 L857.4,118.3 L858.6,115.3 L859.8,112.5 L861,110 L862.1,107.8 L863.3,105.9 L864.5,104.4 L865.7,103.2 L866.9,102.3 L868.1,101.8 L869.3,101.7 L870.5,101.9 L871.7,102.5 L872.9,103.4 L874.1,104.7 L875.2,106.3 L876.4,108.3 L877.6,110.6 L878.8,113.1 L880,116 L881.2,119.1 L882.4,122.4 L883.6,126 L884.8,129.7 L886,133.6 L887.2,137.6 L888.4,141.7 L889.5,145.9 L890.7,150 L891.9,154.2 L893.1,158.3 L894.3,162.3 L895.5,166.2 L896.7,169.9 L897.9,173.4 L899.1,176.7 L900.3,179.7 L901.5,182.4 L902.7,184.8 L903.9,186.9 L905,188.5 L906.2,189.8 L907.4,190.7 L908.6,191.2 L909.8,191.3 L911,190.9 L912.2,190.2 L913.4,189.1 L914.6,187.6 L915.8,185.7 L917,183.5 L918.1,181 L919.3,178.3 L920.5,175.3 L921.7,172 L922.9,168.7 L924.1,165.2 L925.3,161.6 L926.5,158 L927.7,154.3 L928.9,150.8 L930.1,147.2 L931.3,143.9 L932.5,140.6 L933.6,137.5 L934.8,134.7 L936,132.1 L937.2,129.7 L938.4,127.6 L939.6,125.8 L940.8,124.3 L942,123 L943.2,122.1 L944.4,121.5 L945.6,121.1 L946.8,121 L947.9,121.2 L949.1,121.6 L950.3,122.2 L951.5,123.1 L952.7,124.1 L953.9,125.3 L955.1,126.6 L956.3,128 L957.5,129.6 L958.7,131.2 L959.9,132.9 L961,134.6 L962.2,136.3 L963.4,138.1 L964.6,139.9 L965.8,141.6 L967,143.3 L968.2,145 L969.4,146.6 L970.6,148.2 L971.8,149.8 L973,151.3 L974.2,152.7 L975.4,154.1 L976.5,155.4 L977.7,156.7 L978.9,158 L980.1,159.1 L981.3,160.2 L982.5,161.3" stroke="#fdbf72" stroke-opacity="0.33"/>
<path d="M839.5,156.6 L840.7,158.1 L841.9,159.4 L843.1,160.7 L844.3,162 L845.5,163.1 L846.6,164 L847.8,164.9 L849,165.5 L850.2,165.9 L851.4,166.1 L852.6,166 L853.8,165.7 L855,165 L856.2,163.9 L857.4,162.6 L858.6,160.8 L859.8,158.7 L861,156.3 L862.1,153.5 L863.3,150.4 L864.5,147 L865.7,143.4 L866.9,139.6 L868.1,135.7 L869.3,131.7 L870.5,127.6 L871.7,123.6 L872.9,119.8 L874.1,116.1 L875.2,112.8 L876.4,109.7 L877.6,107.1 L878.8,105 L880,103.3 L881.2,102.2 L882.4,101.7 L883.6,101.8 L884.8,102.5 L886,103.8 L887.2,105.7 L888.4,108.2 L889.5,111.2 L890.7,114.6 L891.9,118.5 L893.1,122.7 L894.3,127.2 L895.5,131.8 L896.7,136.5 L897.9,141.3 L899.1,146 L900.3,150.5 L901.5,154.8 L902.7,158.8 L903.9,162.4 L905,165.5 L906.2,168.3 L907.4,170.5 L908.6,172.1 L909.8,173.3 L911,173.8 L912.2,173.9 L913.4,173.5 L914.6,172.5 L915.8,171.2 L917,169.4 L918.1,167.3 L919.3,165 L920.5,162.4 L921.7,159.6 L922.9,156.8 L924.1,153.9 L925.3,151.1 L926.5,148.3 L927.7,145.6 L928.9,143.1 L930.1,140.8 L931.3,138.7 L932.5,136.8 L933.6,135.2 L934.8,133.8 L936,132.6 L937.2,131.7 L938.4,131 L939.6,130.5 L940.8,130.2 L942,130 L943.2,129.9 L944.4,130 L945.6,130.1 L946.8,130.3 L947.9,130.6 L949.1,130.8 L950.3,131.1 L951.5,131.4 L952.7,131.8 L953.9,132.1 L955.1,132.4 L956.3,132.8 L957.5,133.2 L958.7,133.6 L959.9,134.1 L961,134.7 L962.2,135.4 L963.4,136.2 L964.6,137 L965.8,138 L967,139.1 L968.2,140.3 L969.4,141.6 L970.6,143.1 L971.8,144.6 L973,146.1 L974.2,147.7 L975.4,149.3 L976.5,150.8 L977.7,152.4 L978.9,153.8 L980.1,155.1 L981.3,156.2 L982.5,157.1" stroke="#fdbf72" stroke-opacity="0.33"/>
<path d="M839.5,128.1 L840.7,128.7 L841.9,129.6 L843.1,131 L844.3,132.7 L845.5,134.9 L846.6,137.5 L847.8,140.4 L849,143.7 L850.2,147.3 L851.4,151.1 L852.6,155.2 L853.8,159.4 L855,163.7 L856.2,168.1 L857.4,172.5 L858.6,176.7 L859.8,180.9 L861,184.7 L862.1,188.3 L863.3,191.6 L864.5,194.4 L865.7,196.7 L866.9,198.6 L868.1,199.8 L869.3,200.5 L870.5,200.5 L871.7,199.9 L872.9,198.6 L874.1,196.7 L875.2,194.1 L876.4,190.9 L877.6,187.2 L878.8,182.9 L880,178.2 L881.2,173 L882.4,167.6 L883.6,161.8 L884.8,155.9 L886,149.9 L887.2,143.9 L888.4,138 L889.5,132.2 L890.7,126.8 L891.9,121.7 L893.1,117 L894.3,112.9 L895.5,109.3 L896.7,106.3 L897.9,104.1 L899.1,102.5 L900.3,101.7 L901.5,101.7 L902.7,102.4 L903.9,103.9 L905,106 L906.2,108.9 L907.4,112.4 L908.6,116.5 L909.8,121.1 L911,126.1 L912.2,131.6 L913.4,137.3 L914.6,143.2 L915.8,149.2 L917,155.3 L918.1,161.3 L919.3,167.1 L920.5,172.7 L921.7,178 L922.9,182.9 L924.1,187.4 L925.3,191.3 L926.5,194.7 L927.7,197.6 L928.9,199.7 L930.1,201.3 L931.3,202.2 L932.5,202.5 L933.6,202.1 L934.8,201.2 L936,199.6 L937.2,197.5 L938.4,194.9 L939.6,191.9 L940.8,188.4 L942,184.6 L943.2,180.5 L944.4,176.2 L945.6,171.8 L946.8,167.2 L947.9,162.7 L949.1,158.1 L950.3,153.7 L951.5,149.4 L952.7,145.3 L953.9,141.5 L955.1,137.9 L956.3,134.7 L957.5,131.8 L958.7,129.3 L959.9,127.2 L961,125.5 L962.2,124.2 L963.4,123.4 L964.6,123 L965.8,123 L967,123.4 L968.2,124.2 L969.4,125.3 L970.6,126.8 L971.8,128.6 L973,130.7 L974.2,133 L975.4,135.6 L976.5,138.3 L977.7,141.2 L978.9,144.2 L980.1,147.3 L981.3,150.4 L982.5,153.6" stroke="#fdbf72" stroke-opacity="0.33"/>
<path d="M640,299.9 L641.2,303.6 L642.4,306.9 L643.6,309.5 L644.8,311.4 L646,312.5 L647.2,313 L648.4,312.8 L649.6,312 L650.8,310.6 L652,308.7 L653.2,306.3 L654.4,303.6 L655.5,300.6 L656.7,297.3 L657.9,293.9 L659.1,290.2 L660.3,286.4 L661.5,282.5 L662.7,278.5 L663.9,274.4 L665.1,270.2 L666.3,265.9 L667.5,261.6 L668.7,257.3 L669.9,253.2 L671.1,249.2 L672.3,245.4 L673.5,242.1 L674.7,239.2 L675.9,237 L677.1,235.4 L678.3,234.7 L679.5,234.8 L680.7,235.8 L681.9,237.9 L683,240.8 L684.2,244.7 L685.4,249.3 L686.6,254.6 L687.8,260.5 L689,266.7 L690.2,273 L691.4,279.2 L692.6,285.1 L693.8,290.5 L695,295.1 L696.2,298.8 L697.4,301.5 L698.6,303.1 L699.8,303.5 L701,302.7 L702.2,300.7 L703.4,297.7 L704.6,293.8 L705.8,289.2 L707,284.1 L708.2,278.6 L709.4,273.1 L710.6,267.7 L711.8,262.8 L712.9,258.4 L714.1,254.7 L715.3,252 L716.5,250.2 L717.7,249.5 L718.9,249.8 L720.1,251.1 L721.3,253.4 L722.5,256.5 L723.7,260.3 L724.9,264.7 L726.1,269.6 L727.3,274.7 L728.5,280 L729.7,285.3 L730.9,290.4 L732.1,295.4 L733.3,300.1 L734.5,304.5 L735.7,308.4 L736.9,312 L738.1,315.2 L739.3,318 L740.5,320.4 L741.6,322.4 L742.8,324.1 L744,325.4 L745.2,326.2 L746.4,326.7 L747.6,326.8 L748.8,326.4 L750,325.4 L751.2,324 L752.4,322 L753.6,319.5 L754.8,316.4 L756,312.8 L757.2,308.6 L758.4,304.1 L759.6,299.2 L760.8,294.2 L762,289.1 L763.2,284.1 L764.4,279.4 L765.6,275.1 L766.8,271.5 L768,268.5 L769.1,266.5 L770.3,265.5 L771.5,265.5 L772.7,266.6 L773.9,268.7 L775.1,271.8 L776.3,275.8 L777.5,280.4 L778.7,285.6 L779.9,291.1 L781.1,296.7 L782.3,302.1 L783.5,307.2" stroke="#66c18c" stroke-opacity="0.22"/>
<path d="M640,289.1 L641.2,297 L642.4,304.5 L643.6,311.4 L644.8,317.5 L646,322.6 L647.2,326.5 L648.4,329.2 L649.6,330.6 L650.8,330.7 L652,329.5 L653.2,327.1 L654.4,323.6 L655.5,319.2 L656.7,314 L657.9,308.2 L659.1,302.1 L660.3,295.8 L661.5,289.6 L662.7,283.6 L663.9,278.2 L665.1,273.4 L666.3,269.3 L667.5,266.1 L668.7,263.9 L669.9,262.7 L671.1,262.5 L672.3,263.2 L673.5,264.8 L674.7,267.2 L675.9,270.2 L677.1,273.8 L678.3,277.8 L679.5,282.1 L680.7,286.4 L681.9,290.7 L683,294.8 L684.2,298.6 L685.4,301.9 L686.6,304.8 L687.8,307 L689,308.7 L690.2,309.7 L691.4,310.1 L692.6,309.7 L693.8,308.8 L695,307.3 L696.2,305.2 L697.4,302.5 L698.6,299.5 L699.8,296 L701,292.1 L702.2,288 L703.4,283.6 L704.6,279 L705.8,274.3 L707,269.6 L708.2,264.8 L709.4,260.1 L710.6,255.5 L711.8,251.1 L712.9,246.9 L714.1,243.1 L715.3,239.7 L716.5,236.7 L717.7,234.4 L718.9,232.6 L720.1,231.5 L721.3,231.2 L722.5,231.5 L723.7,232.7 L724.9,234.6 L726.1,237.3 L727.3,240.7 L728.5,244.6 L729.7,249.1 L730.9,254 L732.1,259.2 L733.3,264.4 L734.5,269.7 L735.7,274.7 L736.9,279.3 L738.1,283.4 L739.3,286.7 L740.5,289.3 L741.6,290.9 L742.8,291.5 L744,291.1 L745.2,289.6 L746.4,287.1 L747.6,283.6 L748.8,279.3 L750,274.3 L751.2,268.8 L752.4,263 L753.6,257 L754.8,251.2 L756,245.7 L757.2,240.7 L758.4,236.5 L759.6,233.2 L760.8,231 L762,230 L763.2,230.2 L764.4,231.8 L765.6,234.6 L766.8,238.6 L768,243.7 L769.1,249.8 L770.3,256.7 L771.5,264.2 L772.7,272.1 L773.9,280.1 L775.1,288.1 L776.3,295.7 L777.5,302.8 L778.7,309.3 L779.9,314.8 L781.1,319.4 L782.3,322.9 L783.5,325.2" stroke="#66c18c" stroke-opacity="0.22"/>
<path d="M640,296.2 L641.2,301.5 L642.4,306.6 L643.6,311.4 L644.8,315.6 L646,318.9 L647.2,321.2 L648.4,322.3 L649.6,322.1 L650.8,320.6 L652,317.9 L653.2,313.9 L654.4,309 L655.5,303.1 L656.7,296.7 L657.9,289.9 L659.1,282.9 L660.3,276.2 L661.5,269.8 L662.7,264.2 L663.9,259.5 L665.1,255.9 L666.3,253.5 L667.5,252.4 L668.7,252.6 L669.9,254.1 L671.1,256.8 L672.3,260.5 L673.5,265 L674.7,270.1 L675.9,275.5 L677.1,281.1 L678.3,286.4 L679.5,291.2 L680.7,295.3 L681.9,298.5 L683,300.7 L684.2,301.7 L685.4,301.4 L686.6,299.9 L687.8,297.3 L689,293.6 L690.2,289 L691.4,283.8 L692.6,278.2 L693.8,272.5 L695,266.9 L696.2,261.7 L697.4,257.2 L698.6,253.6 L699.8,251 L701,249.8 L702.2,249.8 L703.4,251.2 L704.6,253.9 L705.8,257.9 L707,262.9 L708.2,268.8 L709.4,275.4 L710.6,282.4 L711.8,289.5 L712.9,296.4 L714.1,302.9 L715.3,308.7 L716.5,313.5 L717.7,317.3 L718.9,319.7 L720.1,320.9 L721.3,320.7 L722.5,319.2 L723.7,316.6 L724.9,312.9 L726.1,308.4 L727.3,303.2 L728.5,297.8 L729.7,292.3 L730.9,287.1 L732.1,282.4 L733.3,278.4 L734.5,275.4 L735.7,273.5 L736.9,272.9 L738.1,273.5 L739.3,275.4 L740.5,278.4 L741.6,282.6 L742.8,287.6 L744,293.3 L745.2,299.4 L746.4,305.7 L747.6,311.7 L748.8,317.4 L750,322.3 L751.2,326.2 L752.4,329 L753.6,330.6 L754.8,330.7 L756,329.4 L757.2,326.8 L758.4,322.9 L759.6,317.8 L760.8,311.9 L762,305.2 L763.2,298.2 L764.4,291 L765.6,284 L766.8,277.4 L768,271.6 L769.1,266.7 L770.3,263 L771.5,260.5 L772.7,259.4 L773.9,259.7 L775.1,261.2 L776.3,264 L777.5,267.8 L778.7,272.4 L779.9,277.6 L781.1,283.1 L782.3,288.6 L783.5,293.8" stroke="#66c18c" stroke-opacity="0.22"/>
<path d="M640,256.5 L641.2,260.4 L642.4,265.5 L643.6,271.5 L644.8,278.3 L646,285.5 L647.2,292.9 L648.4,300.1 L649.6,306.8 L650.8,312.7 L652,317.6 L653.2,321.1 L654.4,323.3 L655.5,323.9 L656.7,322.9 L657.9,320.4 L659.1,316.5 L660.3,311.3 L661.5,305 L662.7,298 L663.9,290.4 L665.1,282.7 L666.3,275.1 L667.5,268 L668.7,261.6 L669.9,256.1 L671.1,251.9 L672.3,249.1 L673.5,247.6 L674.7,247.7 L675.9,249.1 L677.1,251.9 L678.3,255.9 L679.5,260.7 L680.7,266.3 L681.9,272.2 L683,278.2 L684.2,283.9 L685.4,289.1 L686.6,293.5 L687.8,296.8 L689,298.9 L690.2,299.7 L691.4,299 L692.6,296.9 L693.8,293.4 L695,288.7 L696.2,283 L697.4,276.5 L698.6,269.4 L699.8,262.2 L701,255 L702.2,248.2 L703.4,242.2 L704.6,237.2 L705.8,233.3 L707,230.9 L708.2,230 L709.4,230.7 L710.6,232.9 L711.8,236.5 L712.9,241.5 L714.1,247.7 L715.3,254.7 L716.5,262.2 L717.7,270.1 L718.9,277.8 L720.1,285.2 L721.3,292 L722.5,297.7 L723.7,302.3 L724.9,305.6 L726.1,307.4 L727.3,307.7 L728.5,306.5 L729.7,304 L730.9,300.2 L732.1,295.4 L733.3,289.9 L734.5,283.8 L735.7,277.7 L736.9,271.7 L738.1,266.1 L739.3,261.4 L740.5,257.6 L741.6,255.1 L742.8,253.9 L744,254.2 L745.2,256 L746.4,259.2 L747.6,263.7 L748.8,269.3 L750,275.8 L751.2,282.9 L752.4,290.4 L753.6,297.7 L754.8,304.7 L756,311.1 L757.2,316.5 L758.4,320.6 L759.6,323.4 L760.8,324.6 L762,324.2 L763.2,322.1 L764.4,318.5 L765.6,313.5 L766.8,307.3 L768,300.1 L769.1,292.3 L770.3,284.1 L771.5,275.9 L772.7,268.1 L773.9,260.9 L775.1,254.7 L776.3,249.7 L777.5,246.1 L778.7,244 L779.9,243.4 L781.1,244.5 L782.3,247 L783.5,250.9" stroke="#66c18c" stroke-opacity="0.22"/>
<path d="M640,258.7 L641.2,252.4 L642.4,246.6 L643.6,241.5 L644.8,237.2 L646,233.8 L647.2,231.4 L648.4,230.1 L649.6,230 L650.8,231 L652,233 L653.2,236.1 L654.4,240.1 L655.5,244.8 L656.7,250.1 L657.9,255.9 L659.1,261.9 L660.3,268 L661.5,273.9 L662.7,279.5 L663.9,284.6 L665.1,289.1 L666.3,292.7 L667.5,295.5 L668.7,297.3 L669.9,298.1 L671.1,297.9 L672.3,296.7 L673.5,294.6 L674.7,291.7 L675.9,288 L677.1,283.8 L678.3,279.3 L679.5,274.4 L680.7,269.6 L681.9,265 L683,260.6 L684.2,256.8 L685.4,253.7 L686.6,251.4 L687.8,250 L689,249.6 L690.2,250.2 L691.4,251.8 L692.6,254.5 L693.8,258.2 L695,262.7 L696.2,268 L697.4,273.9 L698.6,280.2 L699.8,286.8 L701,293.5 L702.2,300 L703.4,306.2 L704.6,312 L705.8,317.1 L707,321.4 L708.2,324.7 L709.4,327.1 L710.6,328.3 L711.8,328.5 L712.9,327.6 L714.1,325.6 L715.3,322.6 L716.5,318.8 L717.7,314.3 L718.9,309.1 L720.1,303.6 L721.3,297.8 L722.5,292 L723.7,286.4 L724.9,281.1 L726.1,276.3 L727.3,272.1 L728.5,268.7 L729.7,266.2 L730.9,264.7 L732.1,264.1 L733.3,264.5 L734.5,265.8 L735.7,268.1 L736.9,271.1 L738.1,274.8 L739.3,279 L740.5,283.6 L741.6,288.3 L742.8,293.1 L744,297.7 L745.2,301.9 L746.4,305.5 L747.6,308.5 L748.8,310.7 L750,312 L751.2,312.3 L752.4,311.5 L753.6,309.7 L754.8,307 L756,303.2 L757.2,298.7 L758.4,293.4 L759.6,287.5 L760.8,281.2 L762,274.6 L763.2,268 L764.4,261.5 L765.6,255.4 L766.8,249.7 L768,244.7 L769.1,240.5 L770.3,237.2 L771.5,234.9 L772.7,233.6 L773.9,233.4 L775.1,234.3 L776.3,236.2 L777.5,239.1 L778.7,242.7 L779.9,247.1 L781.1,252 L782.3,257.3 L783.5,262.8" stroke="#66c18c" stroke-opacity="0.22"/>
<path d="M640,303.1 L641.2,307.1 L642.4,310.1 L643.6,311.8 L644.8,312.3 L646,311.6 L647.2,309.6 L648.4,306.5 L649.6,302.3 L650.8,297.3 L652,291.5 L653.2,285.2 L654.4,278.5 L655.5,271.7 L656.7,264.9 L657.9,258.5 L659.1,252.6 L660.3,247.5 L661.5,243.2 L662.7,240 L663.9,237.9 L665.1,237.1 L666.3,237.5 L667.5,239.2 L668.7,242.2 L669.9,246.4 L671.1,251.6 L672.3,257.8 L673.5,264.7 L674.7,272.1 L675.9,279.9 L677.1,287.8 L678.3,295.6 L679.5,303.1 L680.7,310 L681.9,316.2 L683,321.3 L684.2,325.4 L685.4,328.3 L686.6,329.9 L687.8,330 L689,328.8 L690.2,326.3 L691.4,322.5 L692.6,317.5 L693.8,311.5 L695,304.7 L696.2,297.1 L697.4,289.2 L698.6,281 L699.8,272.8 L701,264.9 L702.2,257.4 L703.4,250.6 L704.6,244.7 L705.8,239.9 L707,236.2 L708.2,233.7 L709.4,232.6 L710.6,232.8 L711.8,234.3 L712.9,237 L714.1,240.9 L715.3,245.9 L716.5,251.6 L717.7,258.1 L718.9,265 L720.1,272.1 L721.3,279.3 L722.5,286.2 L723.7,292.7 L724.9,298.5 L726.1,303.5 L727.3,307.6 L728.5,310.4 L729.7,312.1 L730.9,312.5 L732.1,311.7 L733.3,309.5 L734.5,306.2 L735.7,301.8 L736.9,296.4 L738.1,290.2 L739.3,283.4 L740.5,276.3 L741.6,268.9 L742.8,261.6 L744,254.7 L745.2,248.2 L746.4,242.4 L747.6,237.6 L748.8,233.8 L750,231.3 L751.2,230 L752.4,230.1 L753.6,231.5 L754.8,234.3 L756,238.3 L757.2,243.6 L758.4,249.8 L759.6,256.9 L760.8,264.7 L762,272.9 L763.2,281.3 L764.4,289.8 L765.6,297.9 L766.8,305.6 L768,312.5 L769.1,318.5 L770.3,323.5 L771.5,327.2 L772.7,329.7 L773.9,330.7 L775.1,330.3 L776.3,328.6 L777.5,325.5 L778.7,321.2 L779.9,315.7 L781.1,309.4 L782.3,302.2 L783.5,294.6" stroke="#66c18c" stroke-opacity="0.22"/>
<path d="M640,272.3 L641.2,275.1 L642.4,277.8 L643.6,280.4 L644.8,282.7 L646,284.5 L647.2,285.8 L648.4,286.5 L649.6,286.7 L650.8,286.5 L652,285.8 L653.2,284.9 L654.4,283.8 L655.5,282.8 L656.7,282 L657.9,281.4 L659.1,281.3 L660.3,281.6 L661.5,282.5 L662.7,283.9 L663.9,285.7 L665.1,288 L666.3,290.5 L667.5,293.1 L668.7,295.7 L669.9,297.9 L671.1,299.6 L672.3,300.7 L673.5,300.9 L674.7,300.2 L675.9,298.4 L677.1,295.6 L678.3,291.7 L679.5,286.8 L680.7,281.1 L681.9,274.7 L683,267.9 L684.2,260.9 L685.4,254.1 L686.6,247.6 L687.8,241.8 L689,237 L690.2,233.3 L691.4,230.9 L692.6,230 L693.8,230.6 L695,232.6 L696.2,236.1 L697.4,240.9 L698.6,246.7 L699.8,253.3 L701,260.4 L702.2,267.8 L703.4,275.2 L704.6,282.1 L705.8,288.5 L707,293.9 L708.2,298.2 L709.4,301.4 L710.6,303.2 L711.8,303.7 L712.9,303 L714.1,301.1 L715.3,298.2 L716.5,294.5 L717.7,290.2 L718.9,285.6 L720.1,281 L721.3,276.5 L722.5,272.5 L723.7,268.9 L724.9,266.2 L726.1,264.2 L727.3,263.1 L728.5,262.8 L729.7,263.3 L730.9,264.6 L732.1,266.4 L733.3,268.6 L734.5,271 L735.7,273.5 L736.9,275.9 L738.1,278 L739.3,279.8 L740.5,281.2 L741.6,282 L742.8,282.4 L744,282.3 L745.2,281.9 L746.4,281.3 L747.6,280.5 L748.8,279.8 L750,279.3 L751.2,279.1 L752.4,279.4 L753.6,280.2 L754.8,281.6 L756,283.7 L757.2,286.3 L758.4,289.4 L759.6,292.9 L760.8,296.6 L762,300.4 L763.2,303.9 L764.4,307.1 L765.6,309.6 L766.8,311.3 L768,312.1 L769.1,311.6 L770.3,310 L771.5,307.2 L772.7,303.1 L773.9,298 L775.1,291.9 L776.3,285 L777.5,277.7 L778.7,270.1 L779.9,262.6 L781.1,255.4 L782.3,248.9 L783.5,243.4" stroke="#66c18c" stroke-opacity="0.22"/>
<path d="M640,269.5 L641.2,269.6 L642.4,269.9 L643.6,270.5 L644.8,271.4 L646,272.6 L647.2,274 L648.4,275.6 L649.6,277.5 L650.8,279.4 L652,281.4 L653.2,283.5 L654.4,285.4 L655.5,287.2 L656.7,288.8 L657.9,290.1 L659.1,291 L660.3,291.5 L661.5,291.6 L662.7,291.1 L663.9,290.1 L665.1,288.5 L666.3,286.4 L667.5,283.9 L668.7,280.8 L669.9,277.4 L671.1,273.7 L672.3,269.7 L673.5,265.7 L674.7,261.7 L675.9,257.8 L677.1,254.1 L678.3,250.8 L679.5,248 L680.7,245.8 L681.9,244.2 L683,243.3 L684.2,243.2 L685.4,243.9 L686.6,245.3 L687.8,247.4 L689,250.2 L690.2,253.6 L691.4,257.5 L692.6,261.7 L693.8,266.2 L695,270.7 L696.2,275.1 L697.4,279.4 L698.6,283.2 L699.8,286.5 L701,289.2 L702.2,291.1 L703.4,292.2 L704.6,292.4 L705.8,291.7 L707,290.1 L708.2,287.6 L709.4,284.4 L710.6,280.4 L711.8,275.9 L712.9,271 L714.1,265.8 L715.3,260.6 L716.5,255.4 L717.7,250.5 L718.9,246.1 L720.1,242.3 L721.3,239.2 L722.5,237.1 L723.7,235.9 L724.9,235.8 L726.1,236.8 L727.3,238.8 L728.5,241.9 L729.7,245.9 L730.9,250.8 L732.1,256.4 L733.3,262.5 L734.5,268.9 L735.7,275.5 L736.9,282.1 L738.1,288.4 L739.3,294.3 L740.5,299.5 L741.6,303.9 L742.8,307.4 L744,309.8 L745.2,311.1 L746.4,311.2 L747.6,310.2 L748.8,308 L750,304.8 L751.2,300.7 L752.4,295.8 L753.6,290.3 L754.8,284.3 L756,278.1 L757.2,271.9 L758.4,266 L759.6,260.4 L760.8,255.5 L762,251.3 L763.2,248.1 L764.4,245.9 L765.6,244.9 L766.8,245 L768,246.3 L769.1,248.7 L770.3,252.1 L771.5,256.5 L772.7,261.7 L773.9,267.5 L775.1,273.7 L776.3,280.1 L777.5,286.5 L778.7,292.7 L779.9,298.4 L781.1,303.6 L782.3,307.9 L783.5,311.3" stroke="#66c18c" stroke-opacity="0.22"/>
<path d="M640,273.3 L641.2,272.2 L642.4,271.5 L643.6,271.2 L644.8,271.4 L646,272.1 L647.2,273.2 L648.4,274.8 L649.6,276.7 L650.8,279.1 L652,281.8 L653.2,284.7 L654.4,287.8 L655.5,290.9 L656.7,294 L657.9,297 L659.1,299.7 L660.3,302 L661.5,303.9 L662.7,305.3 L663.9,306 L665.1,306.1 L666.3,305.5 L667.5,304.1 L668.7,302 L669.9,299.1 L671.1,295.6 L672.3,291.5 L673.5,286.8 L674.7,281.7 L675.9,276.2 L677.1,270.5 L678.3,264.8 L679.5,259.1 L680.7,253.6 L681.9,248.5 L683,243.8 L684.2,239.8 L685.4,236.5 L686.6,234 L687.8,232.5 L689,231.9 L690.2,232.3 L691.4,233.7 L692.6,236 L693.8,239.4 L695,243.6 L696.2,248.5 L697.4,254.2 L698.6,260.4 L699.8,267 L701,273.8 L702.2,280.7 L703.4,287.6 L704.6,294.1 L705.8,300.3 L707,305.8 L708.2,310.7 L709.4,314.8 L710.6,318 L711.8,320.1 L712.9,321.3 L714.1,321.4 L715.3,320.5 L716.5,318.6 L717.7,315.7 L718.9,312 L720.1,307.6 L721.3,302.5 L722.5,297 L723.7,291.2 L724.9,285.2 L726.1,279.3 L727.3,273.5 L728.5,268.1 L729.7,263.2 L730.9,259 L732.1,255.5 L733.3,252.8 L734.5,251.1 L735.7,250.4 L736.9,250.6 L738.1,251.9 L739.3,254.1 L740.5,257.3 L741.6,261.2 L742.8,265.9 L744,271.2 L745.2,276.9 L746.4,283 L747.6,289.3 L748.8,295.6 L750,301.7 L751.2,307.6 L752.4,313 L753.6,317.9 L754.8,322.1 L756,325.5 L757.2,328.1 L758.4,329.9 L759.6,330.7 L760.8,330.6 L762,329.7 L763.2,327.9 L764.4,325.3 L765.6,322 L766.8,318.1 L768,313.8 L769.1,309 L770.3,304 L771.5,298.9 L772.7,293.8 L773.9,288.9 L775.1,284.1 L776.3,279.7 L777.5,275.7 L778.7,272.2 L779.9,269.3 L781.1,266.9 L782.3,265.2 L783.5,264" stroke="#66c18c" stroke-opacity="0.22"/>
<path d="M640,283.5 L641.2,288.7 L642.4,293.3 L643.6,296.9 L644.8,299.5 L646,301 L647.2,301.4 L648.4,300.7 L649.6,298.8 L650.8,296 L652,292.2 L653.2,287.8 L654.4,282.8 L655.5,277.5 L656.7,272.1 L657.9,266.8 L659.1,261.9 L660.3,257.5 L661.5,253.9 L662.7,251.2 L663.9,249.4 L665.1,248.8 L666.3,249.4 L667.5,251.1 L668.7,254 L669.9,257.9 L671.1,262.7 L672.3,268.4 L673.5,274.6 L674.7,281.3 L675.9,288.3 L677.1,295.2 L678.3,302 L679.5,308.4 L680.7,314.2 L681.9,319.3 L683,323.6 L684.2,326.9 L685.4,329.2 L686.6,330.5 L687.8,330.7 L689,330 L690.2,328.4 L691.4,326 L692.6,322.9 L693.8,319.3 L695,315.4 L696.2,311.4 L697.4,307.3 L698.6,303.3 L699.8,299.7 L701,296.5 L702.2,293.7 L703.4,291.6 L704.6,290.2 L705.8,289.4 L707,289.2 L708.2,289.7 L709.4,290.7 L710.6,292.1 L711.8,294 L712.9,296 L714.1,298.2 L715.3,300.3 L716.5,302.3 L717.7,304.1 L718.9,305.4 L720.1,306.4 L721.3,306.8 L722.5,306.7 L723.7,306 L724.9,304.8 L726.1,303 L727.3,300.7 L728.5,298 L729.7,294.9 L730.9,291.7 L732.1,288.3 L733.3,284.8 L734.5,281.4 L735.7,278.2 L736.9,275.3 L738.1,272.6 L739.3,270.4 L740.5,268.5 L741.6,267.1 L742.8,266.2 L744,265.6 L745.2,265.4 L746.4,265.5 L747.6,265.9 L748.8,266.5 L750,267.1 L751.2,267.9 L752.4,268.5 L753.6,269.1 L754.8,269.6 L756,269.8 L757.2,269.8 L758.4,269.6 L759.6,269.3 L760.8,268.7 L762,268 L763.2,267.2 L764.4,266.4 L765.6,265.7 L766.8,265.1 L768,264.8 L769.1,264.7 L770.3,265.1 L771.5,265.8 L772.7,267 L773.9,268.7 L775.1,270.9 L776.3,273.6 L777.5,276.6 L778.7,280 L779.9,283.7 L781.1,287.6 L782.3,291.5 L783.5,295.4" stroke="#66c18c" stroke-opacity="0.22"/>
<path d="M640,268.1 L641.2,259.9 L642.4,252.1 L643.6,245 L644.8,239.1 L646,234.6 L647.2,232 L648.4,231.2 L649.6,232.5 L650.8,235.7 L652,240.8 L653.2,247.5 L654.4,255.6 L655.5,264.6 L656.7,274.1 L657.9,283.6 L659.1,292.8 L660.3,301.2 L661.5,308.5 L662.7,314.2 L663.9,318.1 L665.1,320.2 L666.3,320.3 L667.5,318.4 L668.7,314.8 L669.9,309.7 L671.1,303.4 L672.3,296.2 L673.5,288.6 L674.7,281.1 L675.9,274 L677.1,267.7 L678.3,262.7 L679.5,259.2 L680.7,257.4 L681.9,257.5 L683,259.4 L684.2,263.1 L685.4,268.4 L686.6,275.1 L687.8,282.7 L689,290.9 L690.2,299.3 L691.4,307.5 L692.6,314.9 L693.8,321.3 L695,326.2 L696.2,329.4 L697.4,330.7 L698.6,330 L699.8,327.4 L701,323 L702.2,316.8 L703.4,309.4 L704.6,300.9 L705.8,291.8 L707,282.5 L708.2,273.5 L709.4,265.2 L710.6,258 L711.8,252.1 L712.9,247.9 L714.1,245.5 L715.3,245 L716.5,246.4 L717.7,249.5 L718.9,254 L720.1,259.8 L721.3,266.5 L722.5,273.5 L723.7,280.7 L724.9,287.4 L726.1,293.4 L727.3,298.3 L728.5,301.7 L729.7,303.5 L730.9,303.5 L732.1,301.8 L733.3,298.3 L734.5,293.2 L735.7,286.8 L736.9,279.4 L738.1,271.4 L739.3,263.1 L740.5,255 L741.6,247.4 L742.8,240.9 L744,235.6 L745.2,231.9 L746.4,230 L747.6,230 L748.8,231.8 L750,235.5 L751.2,240.7 L752.4,247.3 L753.6,255 L754.8,263.3 L756,271.8 L757.2,280.3 L758.4,288.1 L759.6,295.1 L760.8,300.9 L762,305.1 L763.2,307.7 L764.4,308.6 L765.6,307.8 L766.8,305.4 L768,301.5 L769.1,296.5 L770.3,290.6 L771.5,284.2 L772.7,277.7 L773.9,271.5 L775.1,265.9 L776.3,261.3 L777.5,258 L778.7,256.2 L779.9,256 L781.1,257.4 L782.3,260.5 L783.5,265" stroke="#66c18c" stroke-opacity="0.22"/>
<path d="M640,291.9 L641.2,295.2 L642.4,298.9 L643.6,302.8 L644.8,306.8 L646,310.7 L647.2,314.6 L648.4,318.2 L649.6,321.5 L650.8,324.4 L652,326.8 L653.2,328.7 L654.4,329.9 L655.5,330.6 L656.7,330.7 L657.9,330.2 L659.1,329.2 L660.3,327.8 L661.5,325.9 L662.7,323.6 L663.9,321.1 L665.1,318.3 L666.3,315.4 L667.5,312.4 L668.7,309.2 L669.9,306.1 L671.1,302.9 L672.3,299.8 L673.5,296.7 L674.7,293.5 L675.9,290.4 L677.1,287.4 L678.3,284.3 L679.5,281.2 L680.7,278.2 L681.9,275.3 L683,272.4 L684.2,269.7 L685.4,267.1 L686.6,264.7 L687.8,262.6 L689,260.9 L690.2,259.6 L691.4,258.7 L692.6,258.4 L693.8,258.6 L695,259.3 L696.2,260.7 L697.4,262.6 L698.6,265.1 L699.8,268 L701,271.4 L702.2,275.1 L703.4,279.1 L704.6,283.2 L705.8,287.3 L707,291.4 L708.2,295.2 L709.4,298.7 L710.6,301.8 L711.8,304.5 L712.9,306.6 L714.1,308.1 L715.3,309.1 L716.5,309.5 L717.7,309.4 L718.9,308.7 L720.1,307.7 L721.3,306.3 L722.5,304.7 L723.7,302.9 L724.9,301 L726.1,299.2 L727.3,297.4 L728.5,295.9 L729.7,294.6 L730.9,293.5 L732.1,292.8 L733.3,292.4 L734.5,292.3 L735.7,292.5 L736.9,292.9 L738.1,293.6 L739.3,294.5 L740.5,295.5 L741.6,296.5 L742.8,297.7 L744,298.9 L745.2,300 L746.4,301.2 L747.6,302.3 L748.8,303.5 L750,304.6 L751.2,305.7 L752.4,306.9 L753.6,308 L754.8,309.3 L756,310.5 L757.2,311.8 L758.4,313.2 L759.6,314.6 L760.8,315.9 L762,317.2 L763.2,318.4 L764.4,319.4 L765.6,320.1 L766.8,320.5 L768,320.6 L769.1,320.1 L770.3,319.2 L771.5,317.7 L772.7,315.7 L773.9,313.1 L775.1,310 L776.3,306.3 L777.5,302.2 L778.7,297.7 L779.9,293 L781.1,288 L782.3,283 L783.5,278.1" stroke="#66c18c" stroke-opacity="0.22"/>
<path d="M640,266.2 L641.2,272 L642.4,278.3 L643.6,285 L644.8,291.9 L646,298.7 L647.2,305.3 L648.4,311.4 L649.6,317 L650.8,321.8 L652,325.6 L653.2,328.4 L654.4,330.1 L655.5,330.7 L656.7,330.1 L657.9,328.4 L659.1,325.6 L660.3,321.9 L661.5,317.3 L662.7,312 L663.9,306.2 L665.1,300.2 L666.3,294 L667.5,287.8 L668.7,282 L669.9,276.6 L671.1,271.9 L672.3,268 L673.5,265 L674.7,263 L675.9,262.1 L677.1,262.2 L678.3,263.5 L679.5,265.8 L680.7,269 L681.9,273.1 L683,277.9 L684.2,283.2 L685.4,288.8 L686.6,294.6 L687.8,300.4 L689,305.9 L690.2,311 L691.4,315.5 L692.6,319.3 L693.8,322.1 L695,323.9 L696.2,324.6 L697.4,324.2 L698.6,322.7 L699.8,320 L701,316.4 L702.2,311.8 L703.4,306.4 L704.6,300.4 L705.8,293.9 L707,287.2 L708.2,280.4 L709.4,273.7 L710.6,267.3 L711.8,261.5 L712.9,256.4 L714.1,252.1 L715.3,248.8 L716.5,246.5 L717.7,245.4 L718.9,245.4 L720.1,246.6 L721.3,248.8 L722.5,252.1 L723.7,256.2 L724.9,261.1 L726.1,266.6 L727.3,272.5 L728.5,278.7 L729.7,284.8 L730.9,290.8 L732.1,296.3 L733.3,301.4 L734.5,305.7 L735.7,309.2 L736.9,311.7 L738.1,313.1 L739.3,313.5 L740.5,312.8 L741.6,311.1 L742.8,308.4 L744,304.7 L745.2,300.3 L746.4,295.3 L747.6,289.9 L748.8,284.2 L750,278.4 L751.2,272.8 L752.4,267.5 L753.6,262.8 L754.8,258.7 L756,255.4 L757.2,253.1 L758.4,251.9 L759.6,251.7 L760.8,252.7 L762,254.8 L763.2,257.9 L764.4,262 L765.6,266.9 L766.8,272.6 L768,278.8 L769.1,285.4 L770.3,292.2 L771.5,298.9 L772.7,305.4 L773.9,311.4 L775.1,316.9 L776.3,321.6 L777.5,325.4 L778.7,328.1 L779.9,329.8 L781.1,330.4 L782.3,329.8 L783.5,328.1" stroke="#66c18c" stroke-opacity="0.22"/>
<path d="M640,281.6 L641.2,273.4 L642.4,265.3 L643.6,257.5 L644.8,250.5 L646,244.5 L647.2,239.8 L648.4,236.5 L649.6,234.9 L650.8,234.9 L652,236.6 L653.2,239.8 L654.4,244.3 L655.5,250 L656.7,256.5 L657.9,263.4 L659.1,270.5 L660.3,277.3 L661.5,283.6 L662.7,289 L663.9,293.3 L665.1,296.2 L666.3,297.7 L667.5,297.6 L668.7,296 L669.9,293 L671.1,288.7 L672.3,283.4 L673.5,277.4 L674.7,270.9 L675.9,264.4 L677.1,258.2 L678.3,252.5 L679.5,247.9 L680.7,244.4 L681.9,242.4 L683,241.9 L684.2,243 L685.4,245.8 L686.6,250.1 L687.8,255.8 L689,262.6 L690.2,270.2 L691.4,278.4 L692.6,286.8 L693.8,294.9 L695,302.6 L696.2,309.4 L697.4,315 L698.6,319.3 L699.8,322.1 L701,323.2 L702.2,322.7 L703.4,320.6 L704.6,317.1 L705.8,312.5 L707,306.9 L708.2,300.6 L709.4,294.1 L710.6,287.7 L711.8,281.7 L712.9,276.4 L714.1,272.2 L715.3,269.2 L716.5,267.6 L717.7,267.6 L718.9,269.1 L720.1,272.1 L721.3,276.4 L722.5,281.9 L723.7,288.2 L724.9,295.1 L726.1,302.2 L727.3,309.2 L728.5,315.6 L729.7,321.3 L730.9,325.8 L732.1,329 L733.3,330.7 L734.5,330.7 L735.7,329.1 L736.9,325.8 L738.1,321.1 L739.3,315.1 L740.5,308 L741.6,300.3 L742.8,292.1 L744,284 L745.2,276.2 L746.4,269 L747.6,262.9 L748.8,257.9 L750,254.4 L751.2,252.5 L752.4,252.1 L753.6,253.3 L754.8,256 L756,259.9 L757.2,264.9 L758.4,270.6 L759.6,276.7 L760.8,282.9 L762,288.8 L763.2,294 L764.4,298.3 L765.6,301.5 L766.8,303.2 L768,303.4 L769.1,302.1 L770.3,299.3 L771.5,295 L772.7,289.5 L773.9,282.9 L775.1,275.7 L776.3,268 L777.5,260.4 L778.7,253 L779.9,246.3 L781.1,240.6 L782.3,236.2 L783.5,233.2" stroke="#66c18c" stroke-opacity="0.22"/>
<path d="M640,262.4 L641.2,261.7 L642.4,261.4 L643.6,261.5 L644.8,262 L646,262.9 L647.2,264.2 L648.4,265.7 L649.6,267.4 L650.8,269.3 L652,271.3 L653.2,273.2 L654.4,275.1 L655.5,276.8 L656.7,278.2 L657.9,279.3 L659.1,279.9 L660.3,280.1 L661.5,279.7 L662.7,278.8 L663.9,277.3 L665.1,275.3 L666.3,272.7 L667.5,269.6 L668.7,266.1 L669.9,262.2 L671.1,258.1 L672.3,253.9 L673.5,249.6 L674.7,245.5 L675.9,241.6 L677.1,238 L678.3,235 L679.5,232.6 L680.7,230.9 L681.9,230 L683,230 L684.2,230.9 L685.4,232.7 L686.6,235.5 L687.8,239.2 L689,243.7 L690.2,249 L691.4,254.9 L692.6,261.5 L693.8,268.4 L695,275.5 L696.2,282.8 L697.4,290.1 L698.6,297.1 L699.8,303.8 L701,309.9 L702.2,315.5 L703.4,320.3 L704.6,324.2 L705.8,327.3 L707,329.4 L708.2,330.5 L709.4,330.7 L710.6,330 L711.8,328.3 L712.9,325.9 L714.1,322.8 L715.3,319.1 L716.5,314.9 L717.7,310.4 L718.9,305.7 L720.1,300.8 L721.3,296 L722.5,291.4 L723.7,287 L724.9,283 L726.1,279.4 L727.3,276.3 L728.5,273.7 L729.7,271.7 L730.9,270.2 L732.1,269.3 L733.3,268.9 L734.5,268.9 L735.7,269.4 L736.9,270.2 L738.1,271.3 L739.3,272.6 L740.5,274 L741.6,275.4 L742.8,276.8 L744,278.1 L745.2,279.3 L746.4,280.3 L747.6,281 L748.8,281.4 L750,281.6 L751.2,281.4 L752.4,280.9 L753.6,280.1 L754.8,279 L756,277.7 L757.2,276.1 L758.4,274.3 L759.6,272.4 L760.8,270.2 L762,268 L763.2,265.7 L764.4,263.3 L765.6,260.9 L766.8,258.5 L768,256.2 L769.1,253.9 L770.3,251.7 L771.5,249.6 L772.7,247.6 L773.9,245.8 L775.1,244.2 L776.3,242.8 L777.5,241.7 L778.7,240.8 L779.9,240.3 L781.1,240 L782.3,240.2 L783.5,240.7" stroke="#66c18c" stroke-opacity="0.22"/>
<path d="M640,305.6 L641.2,310.8 L642.4,314.6 L643.6,316.8 L644.8,317.2 L646,315.9 L647.2,312.9 L648.4,308.4 L649.6,302.4 L650.8,295.3 L652,287.4 L653.2,278.8 L654.4,270.1 L655.5,261.5 L656.7,253.3 L657.9,246 L659.1,239.8 L660.3,234.9 L661.5,231.6 L662.7,230 L663.9,230.1 L665.1,232 L666.3,235.6 L667.5,240.8 L668.7,247.4 L669.9,255.1 L671.1,263.7 L672.3,272.9 L673.5,282.3 L674.7,291.6 L675.9,300.5 L677.1,308.7 L678.3,315.8 L679.5,321.7 L680.7,326.3 L681.9,329.3 L683,330.7 L684.2,330.5 L685.4,328.8 L686.6,325.8 L687.8,321.5 L689,316.3 L690.2,310.3 L691.4,304 L692.6,297.5 L693.8,291.2 L695,285.4 L696.2,280.3 L697.4,276.1 L698.6,273.1 L699.8,271.4 L701,271 L702.2,272 L703.4,274.3 L704.6,277.9 L705.8,282.4 L707,287.9 L708.2,293.9 L709.4,300.2 L710.6,306.7 L711.8,312.8 L712.9,318.4 L714.1,323.2 L715.3,327 L716.5,329.6 L717.7,330.7 L718.9,330.4 L720.1,328.5 L721.3,325.2 L722.5,320.5 L723.7,314.5 L724.9,307.4 L726.1,299.6 L727.3,291.2 L728.5,282.5 L729.7,273.9 L730.9,265.7 L732.1,258.1 L733.3,251.5 L734.5,246 L735.7,241.9 L736.9,239.2 L738.1,238.2 L739.3,238.7 L740.5,240.7 L741.6,244.2 L742.8,248.9 L744,254.7 L745.2,261.2 L746.4,268.3 L747.6,275.5 L748.8,282.6 L750,289.3 L751.2,295.4 L752.4,300.4 L753.6,304.3 L754.8,306.8 L756,307.9 L757.2,307.4 L758.4,305.5 L759.6,302.3 L760.8,297.7 L762,292.1 L763.2,285.8 L764.4,278.9 L765.6,271.7 L766.8,264.8 L768,258.2 L769.1,252.4 L770.3,247.7 L771.5,244.2 L772.7,242.3 L773.9,242 L775.1,243.4 L776.3,246.6 L777.5,251.5 L778.7,257.9 L779.9,265.7 L781.1,274.6 L782.3,284.3 L783.5,294.6" stroke="#66c18c" stroke-opacity="0.22"/>
<path d="M640,268.6 L641.2,263.3 L642.4,257.9 L643.6,252.8 L644.8,247.9 L646,243.5 L647.2,239.5 L648.4,236.2 L649.6,233.5 L650.8,231.5 L652,230.3 L653.2,230 L654.4,230.5 L655.5,231.8 L656.7,233.8 L657.9,236.6 L659.1,240.1 L660.3,244.1 L661.5,248.6 L662.7,253.5 L663.9,258.6 L665.1,263.7 L666.3,268.9 L667.5,273.8 L668.7,278.5 L669.9,282.7 L671.1,286.4 L672.3,289.5 L673.5,291.8 L674.7,293.4 L675.9,294.2 L677.1,294.1 L678.3,293.2 L679.5,291.5 L680.7,289 L681.9,285.8 L683,282.1 L684.2,277.8 L685.4,273.2 L686.6,268.3 L687.8,263.3 L689,258.3 L690.2,253.5 L691.4,249 L692.6,245 L693.8,241.4 L695,238.6 L696.2,236.5 L697.4,235.2 L698.6,234.8 L699.8,235.2 L701,236.5 L702.2,238.7 L703.4,241.7 L704.6,245.5 L705.8,249.9 L707,254.8 L708.2,260.3 L709.4,266 L710.6,271.9 L711.8,277.8 L712.9,283.7 L714.1,289.2 L715.3,294.5 L716.5,299.2 L717.7,303.3 L718.9,306.6 L720.1,309.3 L721.3,311 L722.5,311.9 L723.7,311.9 L724.9,311 L726.1,309.3 L727.3,306.7 L728.5,303.4 L729.7,299.4 L730.9,294.9 L732.1,289.8 L733.3,284.5 L734.5,278.9 L735.7,273.2 L736.9,267.5 L738.1,262 L739.3,256.7 L740.5,251.7 L741.6,247.2 L742.8,243.2 L744,239.8 L745.2,236.9 L746.4,234.8 L747.6,233.3 L748.8,232.4 L750,232.2 L751.2,232.7 L752.4,233.6 L753.6,235.1 L754.8,237.1 L756,239.4 L757.2,242 L758.4,244.9 L759.6,247.9 L760.8,251 L762,254.2 L763.2,257.2 L764.4,260.2 L765.6,263 L766.8,265.6 L768,268 L769.1,270.1 L770.3,272 L771.5,273.6 L772.7,275 L773.9,276.1 L775.1,277 L776.3,277.6 L777.5,278.1 L778.7,278.4 L779.9,278.6 L781.1,278.7 L782.3,278.7 L783.5,278.6" stroke="#66c18c" stroke-opacity="0.22"/>
<path d="M640,256.5 L641.2,258.4 L642.4,261.9 L643.6,266.8 L644.8,272.8 L646,279.5 L647.2,286.6 L648.4,293.6 L649.6,300.1 L650.8,305.7 L652,310.3 L653.2,313.3 L654.4,314.8 L655.5,314.5 L656.7,312.5 L657.9,308.8 L659.1,303.6 L660.3,297.1 L661.5,289.5 L662.7,281.3 L663.9,272.7 L665.1,264.1 L666.3,256 L667.5,248.5 L668.7,242.1 L669.9,237 L671.1,233.3 L672.3,231.2 L673.5,230.6 L674.7,231.5 L675.9,233.7 L677.1,237.2 L678.3,241.6 L679.5,246.5 L680.7,251.9 L681.9,257.2 L683,262.2 L684.2,266.6 L685.4,270.1 L686.6,272.6 L687.8,274 L689,274.1 L690.2,272.9 L691.4,270.6 L692.6,267.3 L693.8,263.1 L695,258.4 L696.2,253.3 L697.4,248.1 L698.6,243.2 L699.8,238.7 L701,235 L702.2,232.2 L703.4,230.5 L704.6,230 L705.8,230.7 L707,232.5 L708.2,235.4 L709.4,239.3 L710.6,243.9 L711.8,249 L712.9,254.4 L714.1,259.8 L715.3,265 L716.5,269.8 L717.7,274 L718.9,277.3 L720.1,279.7 L721.3,281.2 L722.5,281.8 L723.7,281.5 L724.9,280.3 L726.1,278.6 L727.3,276.4 L728.5,274 L729.7,271.6 L730.9,269.4 L732.1,267.6 L733.3,266.4 L734.5,265.9 L735.7,266.3 L736.9,267.6 L738.1,269.7 L739.3,272.6 L740.5,276.3 L741.6,280.5 L742.8,285 L744,289.8 L745.2,294.5 L746.4,298.9 L747.6,302.9 L748.8,306.1 L750,308.6 L751.2,310.1 L752.4,310.7 L753.6,310.3 L754.8,309 L756,306.8 L757.2,304 L758.4,300.7 L759.6,297.1 L760.8,293.4 L762,289.9 L763.2,286.8 L764.4,284.2 L765.6,282.4 L766.8,281.4 L768,281.4 L769.1,282.3 L770.3,284 L771.5,286.5 L772.7,289.7 L773.9,293.3 L775.1,297.1 L776.3,300.9 L777.5,304.3 L778.7,307.3 L779.9,309.5 L781.1,310.7 L782.3,310.9 L783.5,309.9" stroke="#66c18c" stroke-opacity="0.22"/>
<path d="M640,285.8 L641.2,291.8 L642.4,297.4 L643.6,302.2 L644.8,306.4 L646,309.9 L647.2,312.7 L648.4,314.9 L649.6,316.5 L650.8,317.4 L652,317.8 L653.2,317.6 L654.4,317 L655.5,315.8 L656.7,314.1 L657.9,311.9 L659.1,309.2 L660.3,306.1 L661.5,302.4 L662.7,298.4 L663.9,294 L665.1,289.3 L666.3,284.4 L667.5,279.4 L668.7,274.5 L669.9,269.8 L671.1,265.4 L672.3,261.6 L673.5,258.4 L674.7,256.1 L675.9,254.7 L677.1,254.4 L678.3,255.2 L679.5,257.1 L680.7,260.1 L681.9,264.1 L683,269 L684.2,274.6 L685.4,280.7 L686.6,287.1 L687.8,293.5 L689,299.7 L690.2,305.4 L691.4,310.5 L692.6,314.6 L693.8,317.6 L695,319.4 L696.2,320 L697.4,319.2 L698.6,317.1 L699.8,313.8 L701,309.4 L702.2,304.1 L703.4,298 L704.6,291.4 L705.8,284.4 L707,277.3 L708.2,270.3 L709.4,263.6 L710.6,257.3 L711.8,251.6 L712.9,246.6 L714.1,242.3 L715.3,238.9 L716.5,236.2 L717.7,234.4 L718.9,233.3 L720.1,233 L721.3,233.3 L722.5,234.4 L723.7,236 L724.9,238.2 L726.1,240.9 L727.3,244.2 L728.5,247.9 L729.7,252.1 L730.9,256.7 L732.1,261.8 L733.3,267.2 L734.5,273 L735.7,279 L736.9,285.2 L738.1,291.5 L739.3,297.7 L740.5,303.6 L741.6,309.2 L742.8,314.2 L744,318.6 L745.2,322 L746.4,324.5 L747.6,325.8 L748.8,326 L750,325 L751.2,322.7 L752.4,319.3 L753.6,314.8 L754.8,309.4 L756,303.2 L757.2,296.6 L758.4,289.7 L759.6,282.7 L760.8,276.1 L762,269.9 L763.2,264.4 L764.4,259.8 L765.6,256.3 L766.8,253.9 L768,252.9 L769.1,253 L770.3,254.4 L771.5,256.8 L772.7,260.3 L773.9,264.5 L775.1,269.4 L776.3,274.7 L777.5,280.2 L778.7,285.7 L779.9,291 L781.1,296 L782.3,300.4 L783.5,304.3" stroke="#66c18c" stroke-opacity="0.22"/>
<path d="M640,230 L641.2,235.7 L642.4,242.7 L643.6,250.7 L644.8,259.2 L646,267.8 L647.2,276.1 L648.4,283.8 L649.6,290.5 L650.8,296 L652,300.1 L653.2,302.7 L654.4,303.9 L655.5,303.6 L656.7,302.2 L657.9,299.6 L659.1,296.3 L660.3,292.3 L661.5,288 L662.7,283.7 L663.9,279.5 L665.1,275.7 L666.3,272.3 L667.5,269.5 L668.7,267.4 L669.9,265.8 L671.1,264.7 L672.3,264.1 L673.5,263.9 L674.7,263.9 L675.9,264 L677.1,264.2 L678.3,264.3 L679.5,264.4 L680.7,264.4 L681.9,264.4 L683,264.4 L684.2,264.5 L685.4,264.9 L686.6,265.8 L687.8,267.1 L689,269.2 L690.2,271.9 L691.4,275.5 L692.6,279.9 L693.8,285 L695,290.7 L696.2,296.8 L697.4,303.2 L698.6,309.5 L699.8,315.5 L701,320.8 L702.2,325.2 L703.4,328.3 L704.6,330 L705.8,330 L707,328.3 L708.2,324.8 L709.4,319.6 L710.6,312.9 L711.8,304.8 L712.9,295.7 L714.1,286 L715.3,276.2 L716.5,266.5 L717.7,257.6 L718.9,249.8 L720.1,243.6 L721.3,239.1 L722.5,236.8 L723.7,236.7 L724.9,238.7 L726.1,243 L727.3,249.2 L728.5,257 L729.7,266.2 L730.9,276.2 L732.1,286.5 L733.3,296.7 L734.5,306.3 L735.7,314.8 L736.9,321.8 L738.1,326.9 L739.3,329.9 L740.5,330.7 L741.6,329.2 L742.8,325.6 L744,319.9 L745.2,312.5 L746.4,303.8 L747.6,294.1 L748.8,283.9 L750,273.6 L751.2,263.8 L752.4,254.7 L753.6,246.7 L754.8,240.3 L756,235.4 L757.2,232.3 L758.4,231 L759.6,231.4 L760.8,233.4 L762,236.7 L763.2,241.1 L764.4,246.4 L765.6,252.2 L766.8,258.1 L768,264 L769.1,269.6 L770.3,274.7 L771.5,279 L772.7,282.7 L773.9,285.5 L775.1,287.6 L776.3,288.9 L777.5,289.7 L778.7,290.1 L779.9,290.1 L781.1,289.9 L782.3,289.6 L783.5,289.4" stroke="#66c18c" stroke-opacity="0.22"/>
<path d="M839.5,298 L840.7,297.5 L841.9,296.6 L843.1,295.4 L844.3,294 L845.5,292.2 L846.6,290.1 L847.8,287.8 L849,285.3 L850.2,282.5 L851.4,279.5 L852.6,276.4 L853.8,273.1 L855,270.4 L856.2,268.6 L857.4,266.7 L858.6,264.8 L859.8,262.9 L861,260.9 L862.1,259.1 L863.3,257.3 L864.5,255.6 L865.7,254.3 L866.9,253.3 L868.1,252.6 L869.3,252 L870.5,251.6 L871.7,251.2 L872.9,250.8 L874.1,250.2 L875.2,249.3 L876.4,247.9 L877.6,246.1 L878.8,244.1 L880,241.8 L881.2,239.6 L882.4,237.6 L883.6,235.9 L884.8,234.7 L886,233.5 L887.2,232.3 L888.4,231.2 L889.5,230.4 L890.7,230 L891.9,230 L893.1,230.5 L894.3,231.4 L895.5,232.3 L896.7,233.5 L897.9,235 L899.1,236.7 L900.3,239 L901.5,241.7 L902.7,245.1 L903.9,249.2 L905,254 L906.2,259.3 L907.4,264.9 L908.6,270.6 L909.8,276.2 L911,281.5 L912.2,286.6 L913.4,291.6 L914.6,296.6 L915.8,301.3 L917,305.8 L918.1,310 L919.3,313.7 L920.5,317.1 L921.7,320.1 L922.9,322.9 L924.1,325.3 L925.3,327.4 L926.5,329 L927.7,330.1 L928.9,330.6 L930.1,330.7 L931.3,330.4 L932.5,329.7 L933.6,328.5 L934.8,327 L936,324.9 L937.2,322.5 L938.4,319.6 L939.6,316.4 L940.8,312.8 L942,309.1 L943.2,305.2 L944.4,301.2 L945.6,297.1 L946.8,293.1 L947.9,289.2 L949.1,285.4 L950.3,281.7 L951.5,278.2 L952.7,274.8 L953.9,271.5 L955.1,268.3 L956.3,265.2 L957.5,262.2 L958.7,259.3 L959.9,256.6 L961,253.9 L962.2,251.5 L963.4,249.3 L964.6,247.3 L965.8,245.6 L967,244.1 L968.2,242.9 L969.4,241.9 L970.6,241 L971.8,240.3 L973,240 L974.2,239.9 L975.4,240.2 L976.5,240.8 L977.7,241.6 L978.9,242.6 L980.1,243.8 L981.3,245.2 L982.5,246.8" stroke="#66c18c" stroke-opacity="0.22"/>
<path d="M839.5,279.7 L840.7,276.8 L841.9,273.8 L843.1,270.7 L844.3,267.5 L845.5,264.3 L846.6,261.2 L847.8,258.1 L849,255.2 L850.2,252.4 L851.4,249.8 L852.6,248.9 L853.8,248.3 L855,248 L856.2,248.1 L857.4,248.5 L858.6,249.3 L859.8,250.4 L861,252 L862.1,254 L863.3,256.6 L864.5,259.6 L865.7,263 L866.9,266.7 L868.1,270.6 L869.3,274.5 L870.5,278.2 L871.7,281.7 L872.9,284.8 L874.1,287.3 L875.2,289.3 L876.4,290.9 L877.6,292.1 L878.8,293 L880,293.7 L881.2,294.4 L882.4,294.7 L883.6,294.5 L884.8,293.9 L886,292.9 L887.2,291.6 L888.4,290.1 L889.5,288.4 L890.7,286.6 L891.9,284.5 L893.1,281.9 L894.3,279.1 L895.5,276.1 L896.7,273.1 L897.9,270.1 L899.1,267.3 L900.3,265 L901.5,263 L902.7,261.4 L903.9,260.2 L905,259.2 L906.2,258.3 L907.4,257.4 L908.6,256.5 L909.8,255.8 L911,255.4 L912.2,255.3 L913.4,255.5 L914.6,256 L915.8,256.7 L917,257.7 L918.1,259 L919.3,260.7 L920.5,262.9 L921.7,265.3 L922.9,268.1 L924.1,271.1 L925.3,274.3 L926.5,277.7 L927.7,281.2 L928.9,284.9 L930.1,288.8 L931.3,292.7 L932.5,296.6 L933.6,300.5 L934.8,304.2 L936,307.7 L937.2,311.1 L938.4,314.2 L939.6,317.1 L940.8,319.8 L942,322.2 L943.2,324.4 L944.4,326.4 L945.6,328 L946.8,329.3 L947.9,330.2 L949.1,330.7 L950.3,330.7 L951.5,330.2 L952.7,329.2 L953.9,327.7 L955.1,325.6 L956.3,323 L957.5,319.9 L958.7,316.3 L959.9,312.3 L961,308 L962.2,303.3 L963.4,298.4 L964.6,293.4 L965.8,288.1 L967,282.6 L968.2,277.1 L969.4,271.5 L970.6,266.1 L971.8,260.9 L973,256 L974.2,251.4 L975.4,247.1 L976.5,243.1 L977.7,239.5 L978.9,236.3 L980.1,233.6 L981.3,231.5 L982.5,230" stroke="#66c18c" stroke-opacity="0.22"/>
<path d="M839.5,247 L840.7,246.8 L841.9,246.8 L843.1,246.9 L844.3,247.2 L845.5,247.8 L846.6,248.9 L847.8,250.1 L849,251.5 L850.2,253 L851.4,254.4 L852.6,255.6 L853.8,256.6 L855,257 L856.2,257 L857.4,256.4 L858.6,255.5 L859.8,254.3 L861,252.9 L862.1,251.7 L863.3,250.8 L864.5,250 L865.7,249 L866.9,248 L868.1,247 L869.3,246.1 L870.5,245.4 L871.7,245.1 L872.9,245.2 L874.1,245.3 L875.2,245.6 L876.4,245.9 L877.6,246.5 L878.8,247.3 L880,248.6 L881.2,250.4 L882.4,252.8 L883.6,256 L884.8,259.7 L886,264 L887.2,268.5 L888.4,273.2 L889.5,277.8 L890.7,282.1 L891.9,286.3 L893.1,290.5 L894.3,294.8 L895.5,298.9 L896.7,302.9 L897.9,306.6 L899.1,310.1 L900.3,313.3 L901.5,316.3 L902.7,319.2 L903.9,321.9 L905,324.3 L906.2,326.3 L907.4,328 L908.6,329.1 L909.8,330 L911,330.5 L912.2,330.7 L913.4,330.5 L914.6,330 L915.8,329 L917,327.7 L918.1,325.9 L919.3,323.8 L920.5,321.3 L921.7,318.6 L922.9,315.8 L924.1,312.8 L925.3,309.7 L926.5,306.5 L927.7,303.4 L928.9,300.3 L930.1,297.1 L931.3,294 L932.5,290.8 L933.6,287.6 L934.8,284.3 L936,281 L937.2,277.7 L938.4,274.3 L939.6,270.8 L940.8,267.4 L942,263.9 L943.2,260.6 L944.4,257.3 L945.6,254.2 L946.8,251.3 L947.9,248.4 L949.1,245.6 L950.3,242.9 L951.5,240.4 L952.7,238.2 L953.9,236.2 L955.1,234.5 L956.3,233.2 L957.5,232.1 L958.7,231.2 L959.9,230.5 L961,230.1 L962.2,230 L963.4,230.2 L964.6,230.9 L965.8,232 L967,233.5 L968.2,235.4 L969.4,237.6 L970.6,240 L971.8,242.4 L973,244.9 L974.2,247.6 L975.4,250.4 L976.5,253.2 L977.7,255.7 L978.9,258.1 L980.1,260.5 L981.3,262.7 L982.5,264.9" stroke="#66c18c" stroke-opacity="0.22"/>
<path d="M839.5,238.4 L840.7,236.4 L841.9,234.6 L843.1,233.1 L844.3,231.9 L845.5,230.9 L846.6,230.3 L847.8,230 L849,230 L850.2,230.3 L851.4,230.9 L852.6,231.9 L853.8,233.1 L855,234.6 L856.2,236.4 L857.4,238.9 L858.6,242.6 L859.8,246.6 L861,250.7 L862.1,255 L863.3,259.4 L864.5,264 L865.7,268.6 L866.9,273.3 L868.1,278.1 L869.3,283.1 L870.5,288.1 L871.7,293.1 L872.9,297.9 L874.1,302.3 L875.2,306.4 L876.4,309.9 L877.6,312.7 L878.8,314.6 L880,315.6 L881.2,315.9 L882.4,315.4 L883.6,314.3 L884.8,312.8 L886,310.9 L887.2,308.9 L888.4,306.3 L889.5,303.3 L890.7,299.7 L891.9,295.9 L893.1,291.8 L894.3,287.6 L895.5,283.4 L896.7,279.2 L897.9,274.8 L899.1,270.2 L900.3,265.6 L901.5,261 L902.7,256.7 L903.9,252.7 L905,249.2 L906.2,246.3 L907.4,244.1 L908.6,242.5 L909.8,241.4 L911,240.6 L912.2,240.1 L913.4,239.6 L914.6,239.3 L915.8,239.4 L917,239.8 L918.1,240.6 L919.3,241.7 L920.5,243 L921.7,244.6 L922.9,246.4 L924.1,248.6 L925.3,251.1 L926.5,253.9 L927.7,256.9 L928.9,260.2 L930.1,263.6 L931.3,267.1 L932.5,270.6 L933.6,274.3 L934.8,278.2 L936,282 L937.2,285.9 L938.4,289.7 L939.6,293.4 L940.8,297 L942,300.5 L943.2,303.7 L944.4,306.9 L945.6,309.9 L946.8,312.7 L947.9,315.5 L949.1,318.1 L950.3,320.5 L951.5,322.8 L952.7,324.9 L953.9,326.7 L955.1,328.3 L956.3,329.5 L957.5,330.3 L958.7,330.7 L959.9,330.7 L961,330.2 L962.2,329.2 L963.4,327.7 L964.6,325.8 L965.8,323.5 L967,320.8 L968.2,317.8 L969.4,314.4 L970.6,310.7 L971.8,306.5 L973,302.1 L974.2,297.3 L975.4,292.4 L976.5,287.3 L977.7,282.2 L978.9,277 L980.1,271.9 L981.3,266.7 L982.5,261.5" stroke="#66c18c" stroke-opacity="0.22"/>
<path d="M839.5,251.7 L840.7,254.3 L841.9,257 L843.1,259.8 L844.3,262.7 L845.5,265.7 L846.6,268.7 L847.8,271.8 L849,275 L850.2,278.6 L851.4,282.3 L852.6,286.1 L853.8,289.8 L855,293.2 L856.2,296.3 L857.4,298.9 L858.6,300.7 L859.8,301.4 L861,301.2 L862.1,300 L863.3,298 L864.5,295.3 L865.7,292.3 L866.9,289 L868.1,285.8 L869.3,282.4 L870.5,278.5 L871.7,274.3 L872.9,269.8 L874.1,265.3 L875.2,260.9 L876.4,256.8 L877.6,253 L878.8,249.2 L880,245.3 L881.2,241.6 L882.4,238.1 L883.6,235 L884.8,232.5 L886,230.7 L887.2,230 L888.4,230.3 L889.5,231.5 L890.7,233.6 L891.9,236.1 L893.1,239 L894.3,241.9 L895.5,244.8 L896.7,248 L897.9,251.5 L899.1,255.3 L900.3,259.3 L901.5,263.4 L902.7,267.6 L903.9,271.8 L905,276 L906.2,280.4 L907.4,284.9 L908.6,289.4 L909.8,294 L911,298.3 L912.2,302.5 L913.4,306.3 L914.6,310 L915.8,313.5 L917,316.9 L918.1,319.9 L919.3,322.6 L920.5,324.9 L921.7,326.9 L922.9,328.3 L924.1,329.4 L925.3,330.1 L926.5,330.5 L927.7,330.7 L928.9,330.6 L930.1,330.4 L931.3,330 L932.5,329.4 L933.6,328.8 L934.8,327.9 L936,326.8 L937.2,325.5 L938.4,323.9 L939.6,322 L940.8,319.7 L942,317.2 L943.2,314.3 L944.4,311 L945.6,307.5 L946.8,303.7 L947.9,299.8 L949.1,295.7 L950.3,291.6 L951.5,287.4 L952.7,283 L953.9,278.5 L955.1,273.9 L956.3,269.3 L957.5,264.8 L958.7,260.6 L959.9,256.6 L961,252.8 L962.2,249.2 L963.4,245.7 L964.6,242.4 L965.8,239.4 L967,236.7 L968.2,234.4 L969.4,232.6 L970.6,231.4 L971.8,230.7 L973,230.6 L974.2,230.8 L975.4,231.1 L976.5,231.6 L977.7,232.2 L978.9,233.2 L980.1,234.4 L981.3,235.6 L982.5,236.5" stroke="#66c18c" stroke-opacity="0.22"/>
<path d="M839.5,252.7 L840.7,252.9 L841.9,253.2 L843.1,253.6 L844.3,254.1 L845.5,254.8 L846.6,255.6 L847.8,256.4 L849,257.4 L850.2,258.4 L851.4,259.5 L852.6,260.6 L853.8,261.7 L855,262.8 L856.2,263.9 L857.4,265 L858.6,266 L859.8,267 L861,267.9 L862.1,270.1 L863.3,273 L864.5,275.9 L865.7,278.6 L866.9,281.2 L868.1,283.6 L869.3,286 L870.5,288.1 L871.7,290.2 L872.9,292.4 L874.1,294.7 L875.2,297 L876.4,299.1 L877.6,301 L878.8,302.4 L880,303.4 L881.2,303.6 L882.4,302.9 L883.6,301.2 L884.8,298.6 L886,295.2 L887.2,291.2 L888.4,286.8 L889.5,282.3 L890.7,278 L891.9,273.9 L893.1,269.4 L894.3,264.7 L895.5,260 L896.7,255.4 L897.9,251.1 L899.1,247.2 L900.3,243.9 L901.5,240.9 L902.7,238 L903.9,235.4 L905,233.1 L906.2,231.4 L907.4,230.3 L908.6,230 L909.8,230.7 L911,232.6 L912.2,235.4 L913.4,239.2 L914.6,243.5 L915.8,248.1 L917,252.9 L918.1,257.5 L919.3,262.1 L920.5,267 L921.7,272 L922.9,277 L924.1,282 L925.3,286.9 L926.5,291.5 L927.7,295.9 L928.9,300.3 L930.1,304.6 L931.3,308.7 L932.5,312.6 L933.6,316.1 L934.8,319.3 L936,321.9 L937.2,324.2 L938.4,326.2 L939.6,327.9 L940.8,329.2 L942,330.2 L943.2,330.6 L944.4,330.7 L945.6,330.3 L946.8,329.6 L947.9,328.5 L949.1,327.2 L950.3,325.7 L951.5,324.1 L952.7,322.5 L953.9,320.9 L955.1,319.3 L956.3,317.8 L957.5,316.3 L958.7,314.9 L959.9,313.5 L961,312.1 L962.2,310.5 L963.4,308.9 L964.6,307.2 L965.8,305.4 L967,303.4 L968.2,301.3 L969.4,299.2 L970.6,296.9 L971.8,294.7 L973,292.5 L974.2,290.3 L975.4,288 L976.5,285.6 L977.7,283 L978.9,280.4 L980.1,277.8 L981.3,275.3 L982.5,272.9" stroke="#66c18c" stroke-opacity="0.22"/>
<path d="M839.5,263.5 L840.7,264.2 L841.9,264.6 L843.1,264.9 L844.3,264.8 L845.5,264.5 L846.6,263.9 L847.8,263.6 L849,264.9 L850.2,266 L851.4,267 L852.6,267.7 L853.8,268.4 L855,269 L856.2,269.5 L857.4,270.1 L858.6,270.9 L859.8,272 L861,273.4 L862.1,275 L863.3,276.6 L864.5,278.2 L865.7,279.6 L866.9,280.6 L868.1,281.1 L869.3,280.9 L870.5,279.9 L871.7,278.3 L872.9,276.3 L874.1,274 L875.2,271.6 L876.4,269.4 L877.6,267.5 L878.8,265.5 L880,263.2 L881.2,260.7 L882.4,258.2 L883.6,255.7 L884.8,253.4 L886,251.5 L887.2,249.7 L888.4,247.7 L889.5,245.6 L890.7,243.5 L891.9,241.5 L893.1,239.8 L894.3,238.4 L895.5,237.7 L896.7,237.8 L897.9,238.6 L899.1,240.2 L900.3,242.2 L901.5,244.4 L902.7,246.7 L903.9,248.8 L905,250.7 L906.2,252.8 L907.4,255.2 L908.6,257.7 L909.8,260.4 L911,263.2 L912.2,266 L913.4,268.8 L914.6,271.9 L915.8,275.2 L917,278.8 L918.1,282.6 L919.3,286.4 L920.5,290.3 L921.7,294.1 L922.9,297.8 L924.1,301.5 L925.3,305.3 L926.5,309 L927.7,312.5 L928.9,315.8 L930.1,318.8 L931.3,321.5 L932.5,323.8 L933.6,325.7 L934.8,327.3 L936,328.5 L937.2,329.5 L938.4,330.2 L939.6,330.6 L940.8,330.7 L942,330.6 L943.2,330.1 L944.4,329.4 L945.6,328.2 L946.8,326.7 L947.9,324.7 L949.1,322.2 L950.3,319.2 L951.5,315.8 L952.7,312 L953.9,307.7 L955.1,303.1 L956.3,298.3 L957.5,293.3 L958.7,288.3 L959.9,283.2 L961,278.2 L962.2,273.1 L963.4,267.9 L964.6,262.8 L965.8,258 L967,253.5 L968.2,249.3 L969.4,245.7 L970.6,242.4 L971.8,239.4 L973,236.8 L974.2,234.5 L975.4,232.7 L976.5,231.2 L977.7,230.3 L978.9,230 L980.1,230.3 L981.3,231.2 L982.5,232.4" stroke="#66c18c" stroke-opacity="0.22"/>
<path d="M839.5,251.7 L840.7,247.8 L841.9,244.1 L843.1,240.6 L844.3,237.4 L845.5,234.5 L846.6,231.9 L847.8,230.2 L849,230 L850.2,230.1 L851.4,230.7 L852.6,231.7 L853.8,233.1 L855,235 L856.2,237.3 L857.4,240 L858.6,243.3 L859.8,247.1 L861,251.5 L862.1,256.1 L863.3,261.1 L864.5,266.1 L865.7,271 L866.9,275.8 L868.1,280.1 L869.3,283.9 L870.5,287.1 L871.7,289.7 L872.9,291.9 L874.1,293.7 L875.2,295.3 L876.4,296.7 L877.6,298.1 L878.8,299.1 L880,299.5 L881.2,299.6 L882.4,299.2 L883.6,298.7 L884.8,297.9 L886,297.1 L887.2,296 L888.4,294.5 L889.5,292.6 L890.7,290.5 L891.9,288.2 L893.1,285.8 L894.3,283.5 L895.5,281.4 L896.7,279.6 L897.9,278.3 L899.1,277.2 L900.3,276.2 L901.5,275.3 L902.7,274.3 L903.9,273 L905,271.5 L906.2,270.1 L907.4,268.8 L908.6,267.6 L909.8,266.5 L911,265.4 L912.2,264.4 L913.4,263.5 L914.6,262.8 L915.8,262.4 L917,262.3 L918.1,262.4 L919.3,262.8 L920.5,263.3 L921.7,264 L922.9,264.8 L924.1,266 L925.3,267.4 L926.5,269.1 L927.7,271 L928.9,273 L930.1,275.3 L931.3,277.6 L932.5,280 L933.6,282.5 L934.8,285.2 L936,288.1 L937.2,291.1 L938.4,294.3 L939.6,297.6 L940.8,301 L942,304.5 L943.2,308 L944.4,311.5 L945.6,314.9 L946.8,318.1 L947.9,321.1 L949.1,323.8 L950.3,326.1 L951.5,327.9 L952.7,329.3 L953.9,330.3 L955.1,330.7 L956.3,330.7 L957.5,330.2 L958.7,329.2 L959.9,327.8 L961,325.9 L962.2,323.5 L963.4,320.4 L964.6,316.9 L965.8,313 L967,308.8 L968.2,304.3 L969.4,299.5 L970.6,294.5 L971.8,289.2 L973,283.7 L974.2,278.1 L975.4,272.3 L976.5,266.6 L977.7,261 L978.9,255.6 L980.1,250.5 L981.3,245.8 L982.5,241.4" stroke="#66c18c" stroke-opacity="0.22"/>
<path d="M839.5,301.3 L840.7,302.6 L841.9,302.9 L843.1,302.2 L844.3,300.6 L845.5,298.1 L846.6,295 L847.8,291.5 L849,287.8 L850.2,284.1 L851.4,280.5 L852.6,276.3 L853.8,271.9 L855,267.3 L856.2,262.7 L857.4,258.2 L858.6,254.1 L859.8,250.4 L861,246.7 L862.1,243.2 L863.3,239.7 L864.5,236.6 L865.7,233.9 L866.9,231.8 L868.1,230.4 L869.3,230 L870.5,230.7 L871.7,232.3 L872.9,234.8 L874.1,237.8 L875.2,241.3 L876.4,244.9 L877.6,248.4 L878.8,252.1 L880,256.1 L881.2,260.4 L882.4,264.8 L883.6,269.4 L884.8,273.9 L886,278.4 L887.2,282.8 L888.4,287.4 L889.5,291.9 L890.7,296.5 L891.9,301 L893.1,305.2 L894.3,309.2 L895.5,312.8 L896.7,316 L897.9,319.2 L899.1,322 L900.3,324.5 L901.5,326.6 L902.7,328.3 L903.9,329.6 L905,330.4 L906.2,330.7 L907.4,330.7 L908.6,330.3 L909.8,329.7 L911,328.9 L912.2,327.9 L913.4,326.8 L914.6,325.6 L915.8,324.3 L917,322.8 L918.1,321.3 L919.3,319.6 L920.5,317.7 L921.7,315.6 L922.9,313.2 L924.1,310.7 L925.3,307.9 L926.5,304.9 L927.7,301.6 L928.9,298.3 L930.1,294.9 L931.3,291.4 L932.5,287.9 L933.6,284.5 L934.8,281 L936,277.3 L937.2,273.7 L938.4,270.1 L939.6,266.6 L940.8,263.3 L942,260.2 L943.2,257.5 L944.4,254.8 L945.6,252.3 L946.8,249.9 L947.9,247.7 L949.1,245.8 L950.3,244.1 L951.5,242.9 L952.7,242.1 L953.9,241.8 L955.1,241.9 L956.3,242.2 L957.5,242.7 L958.7,243.1 L959.9,243.6 L961,244.3 L962.2,245.2 L963.4,246 L964.6,246.5 L965.8,246.8 L967,247.1 L968.2,247.3 L969.4,247.5 L970.6,247.5 L971.8,247.5 L973,247.4 L974.2,247.2 L975.4,246.9 L976.5,246.6 L977.7,246.2 L978.9,245.7 L980.1,245.2 L981.3,244.6 L982.5,244" stroke="#66c18c" stroke-opacity="0.22"/>
<path d="M839.5,278.9 L840.7,281 L841.9,282.8 L843.1,284.3 L844.3,285.2 L845.5,285.3 L846.6,284.6 L847.8,283 L849,280.8 L850.2,277.9 L851.4,274.8 L852.6,271.5 L853.8,268.3 L855,265.3 L856.2,262 L857.4,258.5 L858.6,254.8 L859.8,251.2 L861,247.8 L862.1,244.7 L863.3,242.1 L864.5,239.7 L865.7,237.3 L866.9,235 L868.1,233 L869.3,231.5 L870.5,230.4 L871.7,230 L872.9,230.5 L874.1,232 L875.2,234.5 L876.4,237.8 L877.6,241.6 L878.8,245.7 L880,249.9 L881.2,254 L882.4,258.1 L883.6,262.4 L884.8,266.9 L886,271.5 L887.2,276.2 L888.4,280.7 L889.5,285.2 L890.7,289.4 L891.9,293.7 L893.1,298 L894.3,302.2 L895.5,306.3 L896.7,310.1 L897.9,313.7 L899.1,316.8 L900.3,319.6 L901.5,322.2 L902.7,324.5 L903.9,326.6 L905,328.2 L906.2,329.5 L907.4,330.3 L908.6,330.7 L909.8,330.7 L911,330.3 L912.2,329.6 L913.4,328.7 L914.6,327.6 L915.8,326.4 L917,325 L918.1,323.6 L919.3,322.2 L920.5,320.6 L921.7,319 L922.9,317.2 L924.1,315.3 L925.3,313.1 L926.5,310.7 L927.7,308.2 L928.9,305.4 L930.1,302.3 L931.3,299 L932.5,295.6 L933.6,292 L934.8,288.4 L936,284.7 L937.2,281.1 L938.4,277.3 L939.6,273.4 L940.8,269.5 L942,265.5 L943.2,261.6 L944.4,257.8 L945.6,254.3 L946.8,251.1 L947.9,247.9 L949.1,244.9 L950.3,242 L951.5,239.3 L952.7,236.8 L953.9,234.6 L955.1,232.8 L956.3,231.5 L957.5,230.8 L958.7,230.5 L959.9,230.5 L961,230.7 L962.2,231 L963.4,231.4 L964.6,232.1 L965.8,233 L967,234 L968.2,234.7 L969.4,235.4 L970.6,236.2 L971.8,236.9 L973,237.6 L974.2,238.4 L975.4,239.1 L976.5,239.8 L977.7,240.6 L978.9,241.3 L980.1,242 L981.3,242.7 L982.5,243.4" stroke="#66c18c" stroke-opacity="0.22"/>
<path d="M839.5,276.9 L840.7,275.9 L841.9,274.9 L843.1,273.6 L844.3,272.3 L845.5,270.8 L846.6,269.2 L847.8,267.5 L849,265.8 L850.2,264.4 L851.4,264.5 L852.6,264.6 L853.8,264.6 L855,264.7 L856.2,264.7 L857.4,264.8 L858.6,264.9 L859.8,265 L861,265.3 L862.1,266 L863.3,266.9 L864.5,267.9 L865.7,268.8 L866.9,269.7 L868.1,270.4 L869.3,270.7 L870.5,270.5 L871.7,269.5 L872.9,267.9 L874.1,265.6 L875.2,263 L876.4,260 L877.6,257 L878.8,254.1 L880,251.6 L881.2,249 L882.4,246.2 L883.6,243.4 L884.8,240.7 L886,238.3 L887.2,236.1 L888.4,234.5 L889.5,233.3 L890.7,232.1 L891.9,231.1 L893.1,230.4 L894.3,230 L895.5,230.1 L896.7,230.8 L897.9,232.3 L899.1,234.6 L900.3,237.9 L901.5,242 L902.7,246.6 L903.9,251.5 L905,256.6 L906.2,261.5 L907.4,266.2 L908.6,271 L909.8,276 L911,280.9 L912.2,285.8 L913.4,290.6 L914.6,295.2 L915.8,299.4 L917,303.5 L918.1,307.6 L919.3,311.4 L920.5,315.1 L921.7,318.4 L922.9,321.3 L924.1,323.8 L925.3,325.8 L926.5,327.5 L927.7,328.9 L928.9,330 L930.1,330.6 L931.3,330.7 L932.5,330.4 L933.6,329.6 L934.8,328.4 L936,326.8 L937.2,324.9 L938.4,322.7 L939.6,320.4 L940.8,317.9 L942,315.3 L943.2,312.6 L944.4,309.9 L945.6,307.3 L946.8,304.6 L947.9,301.8 L949.1,299 L950.3,296.1 L951.5,293.1 L952.7,289.9 L953.9,286.7 L955.1,283.4 L956.3,280 L957.5,276.5 L958.7,273.1 L959.9,269.7 L961,266.3 L962.2,263.2 L963.4,260.1 L964.6,257 L965.8,253.9 L967,250.9 L968.2,248.1 L969.4,245.5 L970.6,243.2 L971.8,241.3 L973,239.6 L974.2,238.1 L975.4,236.8 L976.5,235.7 L977.7,234.8 L978.9,234.2 L980.1,234 L981.3,234.3 L982.5,235" stroke="#66c18c" stroke-opacity="0.22"/>
<path d="M839.5,230 L840.7,237.7 L841.9,246.2 L843.1,255.2 L844.3,264.3 L845.5,273.3 L846.6,281.9 L847.8,290 L849,296.9 L850.2,302.4 L851.4,305.9 L852.6,307.7 L853.8,307.9 L855,306.7 L856.2,304.5 L857.4,301.8 L858.6,299.1 L859.8,296.6 L861,293.3 L862.1,289.2 L863.3,284.4 L864.5,279.4 L865.7,274.4 L866.9,269.7 L868.1,265.6 L869.3,261.7 L870.5,257.5 L871.7,253.2 L872.9,248.9 L874.1,245 L875.2,241.8 L876.4,239.6 L877.6,238.7 L878.8,239.5 L880,242 L881.2,245.7 L882.4,250.5 L883.6,255.7 L884.8,260.9 L886,265.7 L887.2,270.1 L888.4,274.7 L889.5,279.6 L890.7,284.6 L891.9,289.4 L893.1,294.1 L894.3,298.5 L895.5,302.4 L896.7,306.2 L897.9,310.1 L899.1,314 L900.3,317.6 L901.5,320.9 L902.7,323.7 L903.9,325.9 L905,327.5 L906.2,328.8 L907.4,329.9 L908.6,330.5 L909.8,330.7 L911,330.3 L912.2,329.4 L913.4,328 L914.6,325.9 L915.8,323.5 L917,320.8 L918.1,317.9 L919.3,315 L920.5,312.2 L921.7,309.5 L922.9,307 L924.1,304.7 L925.3,302.7 L926.5,300.9 L927.7,299.1 L928.9,297.4 L930.1,295.6 L931.3,293.6 L932.5,291.6 L933.6,289.3 L934.8,286.8 L936,284 L937.2,281.2 L938.4,278.2 L939.6,275.3 L940.8,272.4 L942,269.6 L943.2,266.8 L944.4,263.8 L945.6,260.6 L946.8,257.3 L947.9,254.2 L949.1,251.3 L950.3,248.7 L951.5,246.5 L952.7,244.5 L953.9,242.6 L955.1,240.8 L956.3,239.1 L957.5,237.6 L958.7,236.4 L959.9,235.7 L961,235.7 L962.2,236.5 L963.4,237.9 L964.6,239.7 L965.8,241.7 L967,243.5 L968.2,245 L969.4,246.7 L970.6,248.4 L971.8,250.2 L973,251.2 L974.2,251.6 L975.4,251.6 L976.5,251.3 L977.7,250.7 L978.9,249.8 L980.1,248.6 L981.3,247 L982.5,245.2" stroke="#66c18c" stroke-opacity="0.22"/>
<path d="M839.5,259.6 L840.7,259.6 L841.9,259.7 L843.1,262 L844.3,264.4 L845.5,266.8 L846.6,269.2 L847.8,271.5 L849,273.9 L850.2,276.2 L851.4,278.4 L852.6,280.8 L853.8,283.5 L855,286.3 L856.2,289.2 L857.4,292 L858.6,294.6 L859.8,296.8 L861,298.5 L862.1,299.4 L863.3,299.2 L864.5,298.1 L865.7,296 L866.9,293.1 L868.1,289.6 L869.3,285.8 L870.5,282 L871.7,278.4 L872.9,274.6 L874.1,270.5 L875.2,266.1 L876.4,261.7 L877.6,257.3 L878.8,253.2 L880,249.5 L881.2,246.2 L882.4,243 L883.6,239.9 L884.8,236.9 L886,234.3 L887.2,232.2 L888.4,230.7 L889.5,230 L890.7,230.4 L891.9,232 L893.1,234.5 L894.3,237.8 L895.5,241.6 L896.7,245.7 L897.9,249.8 L899.1,253.6 L900.3,257.6 L901.5,261.9 L902.7,266.4 L903.9,270.9 L905,275.5 L906.2,279.9 L907.4,284.2 L908.6,288.4 L909.8,292.7 L911,297 L912.2,301.2 L913.4,305.3 L914.6,309.1 L915.8,312.6 L917,315.7 L918.1,318.6 L919.3,321.2 L920.5,323.7 L921.7,325.8 L922.9,327.6 L924.1,329 L925.3,329.9 L926.5,330.5 L927.7,330.7 L928.9,330.6 L930.1,330.3 L931.3,329.8 L932.5,329.1 L933.6,328.4 L934.8,327.7 L936,326.9 L937.2,326.2 L938.4,325.3 L939.6,324.4 L940.8,323.3 L942,322.1 L943.2,320.6 L944.4,318.9 L945.6,316.9 L946.8,314.6 L947.9,312 L949.1,309.2 L950.3,306.2 L951.5,303 L952.7,299.7 L953.9,296.3 L955.1,292.9 L956.3,289.2 L957.5,285.3 L958.7,281.2 L959.9,277.1 L961,273.1 L962.2,269.1 L963.4,265.4 L964.6,261.8 L965.8,258.2 L967,254.7 L968.2,251.3 L969.4,248.1 L970.6,245 L971.8,242.3 L973,240 L974.2,238.2 L975.4,236.9 L976.5,236.1 L977.7,235.6 L978.9,235.1 L980.1,234.7 L981.3,234.5 L982.5,234.5" stroke="#66c18c" stroke-opacity="0.22"/>
<path d="M839.5,287.2 L840.7,291.1 L841.9,294.8 L843.1,298.4 L844.3,301.9 L845.5,305.2 L846.6,308.8 L847.8,312.4 L849,315.9 L850.2,319.2 L851.4,322.2 L852.6,324.7 L853.8,326.7 L855,327.8 L856.2,327.9 L857.4,327 L858.6,325 L859.8,322.2 L861,318.6 L862.1,314.5 L863.3,310.2 L864.5,305.8 L865.7,301.4 L866.9,296.4 L868.1,291 L869.3,285.4 L870.5,279.8 L871.7,274.2 L872.9,268.8 L874.1,263.9 L875.2,258.9 L876.4,253.9 L877.6,249 L878.8,244.3 L880,240.1 L881.2,236.3 L882.4,233.3 L883.6,231.2 L884.8,230.1 L886,230 L887.2,230.7 L888.4,231.9 L889.5,233.6 L890.7,235.4 L891.9,237.2 L893.1,239.1 L894.3,241.5 L895.5,244.2 L896.7,247.1 L897.9,250.2 L899.1,253.4 L900.3,256.7 L901.5,260 L902.7,263.6 L903.9,267.3 L905,271.2 L906.2,275.2 L907.4,279.1 L908.6,282.9 L909.8,286.5 L911,290 L912.2,293.6 L913.4,297 L914.6,300.3 L915.8,303.5 L917,306.4 L918.1,309 L919.3,311.4 L920.5,313.5 L921.7,315.3 L922.9,317.1 L924.1,318.7 L925.3,320.2 L926.5,321.6 L927.7,323 L928.9,324.4 L930.1,325.7 L931.3,327 L932.5,328.2 L933.6,329.2 L934.8,329.9 L936,330.5 L937.2,330.7 L938.4,330.6 L939.6,330.2 L940.8,329.5 L942,328.4 L943.2,327 L944.4,325.3 L945.6,323.5 L946.8,321.4 L947.9,319.1 L949.1,316.6 L950.3,313.7 L951.5,310.6 L952.7,307.2 L953.9,303.7 L955.1,300.2 L956.3,296.7 L957.5,293.3 L958.7,289.7 L959.9,286 L961,282.3 L962.2,278.5 L963.4,274.8 L964.6,271.3 L965.8,267.9 L967,265 L968.2,262.3 L969.4,259.9 L970.6,257.8 L971.8,255.7 L973,253.5 L974.2,251.3 L975.4,249.4 L976.5,247.6 L977.7,245.8 L978.9,243.7 L980.1,241.6 L981.3,239.5 L982.5,237.4" stroke="#66c18c" stroke-opacity="0.22"/>
<path d="M839.5,302.8 L840.7,305.6 L841.9,307.8 L843.1,309 L844.3,309.4 L845.5,308.9 L846.6,307.6 L847.8,305.7 L849,303.3 L850.2,300.7 L851.4,297.9 L852.6,294.9 L853.8,291.3 L855,287.4 L856.2,283.1 L857.4,278.7 L858.6,274.4 L859.8,270.1 L861,266 L862.1,261.8 L863.3,257.6 L864.5,253.4 L865.7,249.3 L866.9,245.6 L868.1,242.4 L869.3,239.7 L870.5,237.9 L871.7,236.9 L872.9,236.6 L874.1,237.1 L875.2,238 L876.4,239.3 L877.6,240.8 L878.8,242.3 L880,244.2 L881.2,246.5 L882.4,249.2 L883.6,252.1 L884.8,255.3 L886,258.6 L887.2,262.1 L888.4,265.8 L889.5,269.7 L890.7,273.9 L891.9,278.2 L893.1,282.5 L894.3,286.9 L895.5,291.2 L896.7,295.3 L897.9,299.3 L899.1,303.3 L900.3,307.2 L901.5,310.9 L902.7,314.3 L903.9,317.4 L905,320.2 L906.2,322.6 L907.4,324.6 L908.6,326.3 L909.8,327.7 L911,328.9 L912.2,329.7 L913.4,330.3 L914.6,330.6 L915.8,330.7 L917,330.6 L918.1,330.2 L919.3,329.4 L920.5,328.4 L921.7,327 L922.9,325.2 L924.1,323 L925.3,320.5 L926.5,317.5 L927.7,314.2 L928.9,310.6 L930.1,306.6 L931.3,302.5 L932.5,298.2 L933.6,293.8 L934.8,289.3 L936,284.6 L937.2,279.8 L938.4,274.9 L939.6,270 L940.8,265.3 L942,260.7 L943.2,256.5 L944.4,252.4 L945.6,248.6 L946.8,244.9 L947.9,241.6 L949.1,238.5 L950.3,235.8 L951.5,233.5 L952.7,231.8 L953.9,230.6 L955.1,230.1 L956.3,230 L957.5,230.3 L958.7,231 L959.9,231.8 L961,233 L962.2,234.5 L963.4,236.2 L964.6,238.1 L965.8,239.9 L967,241.8 L968.2,243.8 L969.4,245.9 L970.6,247.9 L971.8,250 L973,252.1 L974.2,254.1 L975.4,256.1 L976.5,258 L977.7,259.8 L978.9,261.5 L980.1,263 L981.3,264.3 L982.5,265.5" stroke="#66c18c" stroke-opacity="0.22"/>
<path d="M839.5,272.6 L840.7,271 L841.9,269.3 L843.1,268.9 L844.3,268.7 L845.5,268.5 L846.6,268.3 L847.8,268.1 L849,267.9 L850.2,267.8 L851.4,267.7 L852.6,267.6 L853.8,267.9 L855,268.3 L856.2,268.8 L857.4,269.4 L858.6,269.9 L859.8,270.3 L861,270.5 L862.1,270.3 L863.3,269.5 L864.5,268.3 L865.7,266.5 L866.9,264.4 L868.1,262 L869.3,259.6 L870.5,257.1 L871.7,255 L872.9,252.9 L874.1,250.7 L875.2,248.4 L876.4,246.2 L877.6,244.1 L878.8,242.3 L880,240.8 L881.2,239.7 L882.4,238.8 L883.6,237.9 L884.8,237.3 L886,236.9 L887.2,236.9 L888.4,237.4 L889.5,238.4 L890.7,240.1 L891.9,242.6 L893.1,245.7 L894.3,249.3 L895.5,253.3 L896.7,257.5 L897.9,261.7 L899.1,265.7 L900.3,269.8 L901.5,274.1 L902.7,278.4 L903.9,282.7 L905,287 L906.2,291.2 L907.4,295.2 L908.6,299.1 L909.8,302.9 L911,306.7 L912.2,310.3 L913.4,313.7 L914.6,316.8 L915.8,319.6 L917,322 L918.1,324.2 L919.3,326.1 L920.5,327.7 L921.7,329 L922.9,330 L924.1,330.5 L925.3,330.7 L926.5,330.5 L927.7,329.9 L928.9,329 L930.1,327.8 L931.3,326.4 L932.5,324.8 L933.6,323 L934.8,321.1 L936,319.1 L937.2,317 L938.4,314.8 L939.6,312.5 L940.8,310.1 L942,307.5 L943.2,304.8 L944.4,301.8 L945.6,298.8 L946.8,295.5 L947.9,292.1 L949.1,288.5 L950.3,284.9 L951.5,281.3 L952.7,277.6 L953.9,274 L955.1,270.4 L956.3,266.7 L957.5,263.1 L958.7,259.4 L959.9,255.9 L961,252.5 L962.2,249.3 L963.4,246.3 L964.6,243.6 L965.8,241.1 L967,238.7 L968.2,236.5 L969.4,234.6 L970.6,232.9 L971.8,231.5 L973,230.6 L974.2,230.1 L975.4,230 L976.5,230.3 L977.7,230.9 L978.9,231.8 L980.1,232.7 L981.3,233.8 L982.5,235.1" stroke="#66c18c" stroke-opacity="0.22"/>
<path d="M839.5,257.7 L840.7,257.3 L841.9,257 L843.1,257 L844.3,257.3 L845.5,257.7 L846.6,258.2 L847.8,258.7 L849,259.2 L850.2,259.5 L851.4,259.5 L852.6,259.2 L853.8,258.5 L855,257.5 L856.2,256.2 L857.4,254.8 L858.6,253.3 L859.8,252 L861,251 L862.1,250 L863.3,249 L864.5,247.9 L865.7,246.9 L866.9,246.1 L868.1,245.6 L869.3,245.3 L870.5,245.4 L871.7,245.5 L872.9,245.8 L874.1,246.2 L875.2,246.8 L876.4,247.8 L877.6,249.1 L878.8,250.9 L880,253.2 L881.2,256.2 L882.4,259.6 L883.6,263.4 L884.8,267.4 L886,271.5 L887.2,275.6 L888.4,279.4 L889.5,283.3 L890.7,287.3 L891.9,291.3 L893.1,295.2 L894.3,299 L895.5,302.6 L896.7,306 L897.9,309.3 L899.1,312.4 L900.3,315.5 L901.5,318.3 L902.7,320.9 L903.9,323.2 L905,325.2 L906.2,326.8 L907.4,328.2 L908.6,329.3 L909.8,330.1 L911,330.6 L912.2,330.7 L913.4,330.5 L914.6,329.9 L915.8,328.9 L917,327.6 L918.1,326.1 L919.3,324.3 L920.5,322.3 L921.7,320.1 L922.9,317.8 L924.1,315.4 L925.3,312.9 L926.5,310.3 L927.7,307.7 L928.9,304.9 L930.1,302.1 L931.3,299.1 L932.5,296.1 L933.6,292.9 L934.8,289.6 L936,286.2 L937.2,282.7 L938.4,279.2 L939.6,275.6 L940.8,272 L942,268.5 L943.2,265.1 L944.4,261.7 L945.6,258.4 L946.8,255.1 L947.9,251.9 L949.1,248.8 L950.3,245.9 L951.5,243.2 L952.7,240.8 L953.9,238.6 L955.1,236.7 L956.3,234.9 L957.5,233.3 L958.7,232 L959.9,231 L961,230.3 L962.2,230 L963.4,230.1 L964.6,230.6 L965.8,231.5 L967,232.6 L968.2,234 L969.4,235.4 L970.6,237 L971.8,238.9 L973,240.9 L974.2,243 L975.4,245 L976.5,247.1 L977.7,249.2 L978.9,251.3 L980.1,253.5 L981.3,255.7 L982.5,257.9" stroke="#66c18c" stroke-opacity="0.22"/>
<path d="M839.5,270 L840.7,266.7 L841.9,264.4 L843.1,263 L844.3,261.6 L845.5,260.5 L846.6,259.6 L847.8,258.9 L849,258.5 L850.2,258.4 L851.4,258.7 L852.6,259.5 L853.8,260.8 L855,262.6 L856.2,264.7 L857.4,267.1 L858.6,269.6 L859.8,272.2 L861,274.7 L862.1,276.9 L863.3,278.6 L864.5,280 L865.7,281 L866.9,281.8 L868.1,282.4 L869.3,283.1 L870.5,283.9 L871.7,284.8 L872.9,285.5 L874.1,285.8 L875.2,286 L876.4,286 L877.6,285.9 L878.8,285.9 L880,286 L881.2,285.9 L882.4,285.5 L883.6,284.8 L884.8,284 L886,283.1 L887.2,282.2 L888.4,281.5 L889.5,281 L890.7,280.9 L891.9,281.2 L893.1,281.6 L894.3,282.2 L895.5,282.7 L896.7,283 L897.9,282.9 L899.1,282.7 L900.3,282.5 L901.5,282.3 L902.7,282.1 L903.9,281.8 L905,281.6 L906.2,281.3 L907.4,281 L908.6,280.8 L909.8,280.8 L911,281.1 L912.2,281.4 L913.4,281.9 L914.6,282.5 L915.8,283.2 L917,284 L918.1,285 L919.3,286.3 L920.5,287.7 L921.7,289.3 L922.9,290.9 L924.1,292.7 L925.3,294.5 L926.5,296.4 L927.7,298.4 L928.9,300.4 L930.1,302.6 L931.3,305 L932.5,307.4 L933.6,309.9 L934.8,312.5 L936,315.2 L937.2,317.8 L938.4,320.4 L939.6,322.8 L940.8,325 L942,326.9 L943.2,328.5 L944.4,329.7 L945.6,330.4 L946.8,330.7 L947.9,330.5 L949.1,329.8 L950.3,328.7 L951.5,327.1 L952.7,325.2 L953.9,322.8 L955.1,319.9 L956.3,316.6 L957.5,312.8 L958.7,308.6 L959.9,304.1 L961,299.4 L962.2,294.5 L963.4,289.6 L964.6,284.5 L965.8,279.2 L967,273.9 L968.2,268.7 L969.4,263.5 L970.6,258.4 L971.8,253.7 L973,249.4 L974.2,245.6 L975.4,242.2 L976.5,239.3 L977.7,236.7 L978.9,234.4 L980.1,232.4 L981.3,231 L982.5,230" stroke="#66c18c" stroke-opacity="0.22"/>
<path d="M839.5,280.7 L840.7,280.4 L841.9,279.8 L843.1,278.8 L844.3,277.6 L845.5,276.1 L846.6,274.3 L847.8,272.2 L849,269.9 L850.2,267.4 L851.4,264.7 L852.6,261.8 L853.8,258.8 L855,255.7 L856.2,252.5 L857.4,249.2 L858.6,246.3 L859.8,246.3 L861,246.2 L862.1,246.2 L863.3,246.4 L864.5,246.6 L865.7,247 L866.9,247.6 L868.1,248.3 L869.3,249.5 L870.5,251.4 L871.7,253.7 L872.9,256.4 L874.1,259.2 L875.2,262 L876.4,264.5 L877.6,266.6 L878.8,267.9 L880,268.2 L881.2,267.4 L882.4,265.7 L883.6,263.3 L884.8,260.4 L886,257.4 L887.2,254.7 L888.4,252.4 L889.5,250 L890.7,247.3 L891.9,244.4 L893.1,241.5 L894.3,238.8 L895.5,236.6 L896.7,235 L897.9,233.9 L899.1,232.7 L900.3,231.6 L901.5,230.6 L902.7,230.1 L903.9,230 L905,230.7 L906.2,232.3 L907.4,235.2 L908.6,239.4 L909.8,244.5 L911,250.3 L912.2,256.5 L913.4,262.7 L914.6,268.5 L915.8,273.8 L917,279.2 L918.1,284.5 L919.3,289.8 L920.5,295 L921.7,299.8 L922.9,304.2 L924.1,308.2 L925.3,311.9 L926.5,315.4 L927.7,318.8 L928.9,321.9 L930.1,324.6 L931.3,326.8 L932.5,328.4 L933.6,329.4 L934.8,330.2 L936,330.6 L937.2,330.7 L938.4,330.4 L939.6,329.6 L940.8,328.4 L942,326.8 L943.2,324.7 L944.4,322.3 L945.6,319.7 L946.8,317 L947.9,314.3 L949.1,311.7 L950.3,309.2 L951.5,307 L952.7,304.9 L953.9,303.2 L955.1,301.7 L956.3,300.3 L957.5,299 L958.7,297.7 L959.9,296.5 L961,295.2 L962.2,293.9 L963.4,292.4 L964.6,290.8 L965.8,289.2 L967,287.5 L968.2,285.8 L969.4,284.2 L970.6,282.6 L971.8,281.1 L973,279.4 L974.2,277.4 L975.4,275.4 L976.5,273.3 L977.7,271.3 L978.9,269.4 L980.1,267.8 L981.3,266.2 L982.5,264.5" stroke="#66c18c" stroke-opacity="0.22"/>
<path d="M839.5,287.8 L840.7,289.5 L841.9,291.1 L843.1,293.5 L844.3,295.9 L845.5,298.1 L846.6,300.1 L847.8,301.9 L849,303.5 L850.2,304.8 L851.4,306 L852.6,306.9 L853.8,307.8 L855,308.6 L856.2,309.2 L857.4,309.6 L858.6,309.7 L859.8,309.4 L861,308.7 L862.1,307.5 L863.3,305.6 L864.5,303.2 L865.7,300.2 L866.9,296.7 L868.1,292.9 L869.3,288.8 L870.5,284.6 L871.7,280.5 L872.9,276.4 L874.1,272 L875.2,267.6 L876.4,263.2 L877.6,258.8 L878.8,254.7 L880,250.9 L881.2,247.4 L882.4,244 L883.6,240.9 L884.8,238 L886,235.4 L887.2,233.2 L888.4,231.5 L889.5,230.4 L890.7,230 L891.9,230.4 L893.1,231.4 L894.3,233.1 L895.5,235.2 L896.7,237.6 L897.9,240.3 L899.1,243.1 L900.3,246.2 L901.5,249.6 L902.7,253.3 L903.9,257.1 L905,261.2 L906.2,265.3 L907.4,269.5 L908.6,273.7 L909.8,278.1 L911,282.6 L912.2,287 L913.4,291.4 L914.6,295.7 L915.8,299.9 L917,303.8 L918.1,307.6 L919.3,311.2 L920.5,314.6 L921.7,317.7 L922.9,320.5 L924.1,323 L925.3,325.1 L926.5,326.9 L927.7,328.3 L928.9,329.4 L930.1,330.1 L931.3,330.5 L932.5,330.7 L933.6,330.6 L934.8,330.2 L936,329.6 L937.2,328.8 L938.4,327.7 L939.6,326.4 L940.8,324.8 L942,322.9 L943.2,320.7 L944.4,318.3 L945.6,315.5 L946.8,312.5 L947.9,309.2 L949.1,305.7 L950.3,302 L951.5,298.1 L952.7,294.1 L953.9,290.1 L955.1,286 L956.3,281.9 L957.5,277.6 L958.7,273.4 L959.9,269.1 L961,265 L962.2,261 L963.4,257.3 L964.6,253.8 L965.8,250.4 L967,247.2 L968.2,244.2 L969.4,241.5 L970.6,239.1 L971.8,237 L973,235.3 L974.2,234.1 L975.4,233.4 L976.5,233 L977.7,233 L978.9,233.3 L980.1,233.8 L981.3,234.5 L982.5,235.6" stroke="#66c18c" stroke-opacity="0.22"/>
</g>
<g fill="none" stroke-width="5" stroke-linejoin="round" stroke-linecap="round">
<path d="M640,151 C641.2,150.3 644.5,148.2 647,147 C649.5,145.8 652.8,143.8 655,144 C657.2,144.2 658.3,146.2 660,148 C661.7,149.8 663,152.2 665,155 C667,157.8 669.5,161.7 672,165 C674.5,168.3 677,172.5 680,175 C683,177.5 687.5,179.8 690,180 C692.5,180.2 693.3,178.5 695,176 C696.7,173.5 698.2,170 700,165 C701.8,160 703.9,152.7 706,146 C708.1,139.3 710.5,130.7 712.5,125 C714.5,119.3 715.9,115.5 718,112 C720.1,108.5 722.6,105.8 725,104 C727.4,102.2 730.3,101 732.5,101 C734.7,101 736.3,102.1 738,104 C739.7,105.9 740.8,108.7 742.5,112.5 C744.2,116.3 745.9,121.6 748,127 C750.1,132.4 752.8,139.5 755,145 C757.2,150.5 758.9,155 761,160 C763.1,165 765.7,170.7 767.5,175 C769.3,179.3 770.8,183.1 772,186 C773.2,188.9 773.8,190.5 775,192.5 C776.2,194.5 777.7,196.5 779,198 C780.3,199.5 782.3,200.9 783,201.5" stroke="#fdbf72"/>
<path d="M839.5,170 C840.6,171.3 843.8,175.7 846,178 C848.2,180.3 850.7,184.2 852.5,184 C854.3,183.8 855.3,181 857,177 C858.7,173 860.7,166.2 862.5,160 C864.3,153.8 865.9,147.1 868,140 C870.1,132.9 872.8,123.2 875,117.5 C877.2,111.8 878.9,108.8 881,106 C883.1,103.2 885.3,101 887.5,101 C889.7,101 891.9,103.2 894,106 C896.1,108.8 898,112.3 900,117.5 C902,122.7 903.9,129.9 906,137 C908.1,144.1 910.5,152.7 912.5,160 C914.5,167.3 915.9,174.8 918,181 C920.1,187.2 923,194 925,197.5 C927,201 928.3,201.8 930,202 C931.7,202.2 933.3,200.6 935,199 C936.7,197.4 938.3,195.5 940,192.5 C941.7,189.5 943.3,184.8 945,181 C946.7,177.2 948.3,173.7 950,170 C951.7,166.3 953.3,162.3 955,159 C956.7,155.7 957.9,152.3 960,150 C962.1,147.7 965,145 967.5,145 C970,145 972.5,148.2 975,150 C977.5,151.8 981.2,155 982.5,156" stroke="#fdbf72"/>
<path d="M640,252.4 C641.3,252.2 645.7,251.3 648,251.5 C650.3,251.7 651.9,252.3 654,253.5 C656.1,254.7 658,255.3 660.6,258.7 C663.2,262.1 666.8,270.1 669.6,274 C672.5,277.9 675.3,281.3 677.7,282.2 C680.1,283.1 681.6,281 684,279.5 C686.4,278 689.6,273 692,273 C694.4,273 696.2,274.8 698.5,279.5 C700.8,284.2 703.3,292.8 705.7,301 C708.1,309.2 710.5,328.1 712.9,329 C715.3,329.9 717.6,317.2 720,306.5 C722.4,295.8 724.9,275.1 727.3,265 C729.7,254.9 732.1,246 734.5,246 C736.9,246 739.6,257.3 741.7,265 C743.8,272.7 745.2,283.7 747,292 C748.8,300.3 750.4,314.6 752.5,314.6 C754.6,314.6 757.3,303.3 759.7,292 C762.1,280.7 764.8,257.3 767,247 C769.2,236.7 771.1,231.2 773.2,230 C775.3,228.8 777.7,236.1 779.5,239.8 C781.3,243.5 783.2,250.3 784,252.4" stroke="#66c18c"/>
<path d="M839.8,257.8 C841.4,261.1 846.2,270.8 849.7,277.7 C853.2,284.6 857.2,299 860.5,299.3 C863.8,299.6 866.5,287.9 869.5,279.5 C872.5,271.1 875.4,257.1 878.5,248.8 C881.6,240.5 884.9,229.6 887.9,229.9 C890.9,230.2 893.6,241.8 896.5,250.6 C899.4,259.4 902.5,272.5 905.5,283 C908.5,293.5 911.5,305.9 914.5,313.7 C917.5,321.5 920.2,327.8 923.5,329.9 C926.8,332 931,328.7 934.3,326.3 C937.6,323.9 940.3,321.2 943.3,315.5 C946.3,309.8 949.4,300.7 952.4,292 C955.4,283.3 958.4,271.8 961.4,263.2 C964.4,254.6 967.7,245.2 970.4,240.7 C973.1,236.2 975.5,236.8 977.6,236.2 C979.7,235.6 982.1,236.9 983,237.1" stroke="#66c18c"/>
</g>
<rect x="639.6" y="98.1" width="144.4" height="237.8" fill="none" stroke="#5bc8ef" stroke-width="2.4" />
<rect x="838.6" y="98.1" width="145" height="237.8" fill="none" stroke="#7b9fd6" stroke-width="2.4" />
<text x="1064.5" y="28.6" font-size="40" font-weight="bold" text-anchor="start" fill="#231f20" >c</text>
<text x="1226" y="36" font-size="28.6" font-weight="bold" text-anchor="middle" fill="#000" >Event-Triggered</text>
<text x="1225" y="63.6" font-size="28.6" font-weight="bold" text-anchor="middle" fill="#000" >Attention Strength</text>
<text x="1083" y="218" font-size="28.4" font-weight="normal" text-anchor="middle" fill="#000" transform="rotate(-90 1083 218)">Switch / Stay</text>
<text x="1116" y="218" font-size="28.4" font-weight="normal" text-anchor="middle" fill="#000" transform="rotate(-90 1116 218)">Attention Ratio</text>
<line x1="1143.6" y1="102.4" x2="1143.6" y2="333.6" stroke="#231f20" stroke-width="2.4" />
<line x1="1134.6" y1="103.2" x2="1143.6" y2="103.2" stroke="#231f20" stroke-width="2.4" />
<line x1="1134.6" y1="149" x2="1143.6" y2="149" stroke="#231f20" stroke-width="2.4" />
<line x1="1134.6" y1="194.8" x2="1143.6" y2="194.8" stroke="#231f20" stroke-width="2.4" />
<line x1="1134.6" y1="240.5" x2="1143.6" y2="240.5" stroke="#231f20" stroke-width="2.4" />
<line x1="1134.6" y1="286.3" x2="1143.6" y2="286.3" stroke="#231f20" stroke-width="2.4" />
<line x1="1134.6" y1="332" x2="1143.6" y2="332" stroke="#231f20" stroke-width="2.4" />
<text x="1129.8" y="113.3" font-size="28.4" font-weight="normal" text-anchor="end" fill="#000" >1.05</text>
<text x="1128.5" y="342.4" font-size="28.4" font-weight="normal" text-anchor="end" fill="#000" >0.8</text>
<rect x="1196.2" y="149" width="33.6" height="91.5" fill="#b3e6f6" stroke="#231f20" stroke-width="2.2" />
<rect x="1253.3" y="149" width="34.2" height="74.6" fill="#b2d0e8" stroke="#231f20" stroke-width="2.2" />
<line x1="1156" y1="149" x2="1328" y2="149" stroke="#231f20" stroke-width="2.4" />
<line x1="1213" y1="229" x2="1213" y2="252" stroke="#231f20" stroke-width="2.2" />
<line x1="1270.4" y1="213" x2="1270.4" y2="233.6" stroke="#231f20" stroke-width="2.2" />
<g stroke="#a7a9ac" stroke-width="1.5">
<line x1="1213" y1="131" x2="1270.4" y2="133.5" stroke="#b5b7ba" stroke-width="1.3" />
<line x1="1213" y1="157.1" x2="1270.4" y2="154.6" stroke="#b5b7ba" stroke-width="1.3" />
<line x1="1213" y1="175.8" x2="1270.4" y2="163.3" stroke="#b5b7ba" stroke-width="1.3" />
<line x1="1213" y1="190.7" x2="1270.4" y2="179.5" stroke="#b5b7ba" stroke-width="1.3" />
<line x1="1213" y1="200.6" x2="1270.4" y2="189.4" stroke="#b5b7ba" stroke-width="1.3" />
<line x1="1213" y1="203.1" x2="1270.4" y2="194.4" stroke="#b5b7ba" stroke-width="1.3" />
<line x1="1213" y1="226.7" x2="1270.4" y2="206.8" stroke="#b5b7ba" stroke-width="1.3" />
<line x1="1213" y1="232.9" x2="1270.4" y2="219.3" stroke="#b5b7ba" stroke-width="1.3" />
<line x1="1213" y1="239.1" x2="1270.4" y2="223" stroke="#b5b7ba" stroke-width="1.3" />
<line x1="1213" y1="242.9" x2="1270.4" y2="224.2" stroke="#b5b7ba" stroke-width="1.3" />
<line x1="1213" y1="247.8" x2="1270.4" y2="221.7" stroke="#b5b7ba" stroke-width="1.3" />
<line x1="1213" y1="250.3" x2="1270.4" y2="232.9" stroke="#b5b7ba" stroke-width="1.3" />
<line x1="1213" y1="255.3" x2="1270.4" y2="236.7" stroke="#b5b7ba" stroke-width="1.3" />
<line x1="1213" y1="261.5" x2="1270.4" y2="252.8" stroke="#b5b7ba" stroke-width="1.3" />
<line x1="1213" y1="269" x2="1270.4" y2="254.1" stroke="#b5b7ba" stroke-width="1.3" />
<line x1="1213" y1="281.4" x2="1270.4" y2="260.3" stroke="#b5b7ba" stroke-width="1.3" />
<line x1="1213" y1="288.9" x2="1270.4" y2="267.7" stroke="#b5b7ba" stroke-width="1.3" />
<line x1="1213" y1="291.3" x2="1270.4" y2="269" stroke="#b5b7ba" stroke-width="1.3" />
<line x1="1213" y1="303.8" x2="1270.4" y2="285.1" stroke="#b5b7ba" stroke-width="1.3" />
<line x1="1213" y1="307.5" x2="1270.4" y2="305" stroke="#b5b7ba" stroke-width="1.3" />
</g>
<path d="M1218.6,120.5 V114.6 H1265 V120.5" fill="none" stroke="#231f20" stroke-width="2"/>
<text x="1241.6" y="118.4" font-size="26" font-weight="normal" text-anchor="middle" fill="#000" >*</text>
<text x="1213.4" y="334.5" font-size="26" font-weight="normal" text-anchor="middle" fill="#000" >*</text>
<text x="1270.4" y="334.5" font-size="26" font-weight="normal" text-anchor="middle" fill="#000" >*</text>
<circle cx="1184.4" cy="131" r="5.8" fill="#5bc8ef" stroke="#231f20" stroke-width="1.4"/>
<circle cx="1184.4" cy="157" r="5.8" fill="#5bc8ef" stroke="#231f20" stroke-width="1.4"/>
<circle cx="1184.4" cy="175.6" r="5.8" fill="#5bc8ef" stroke="#231f20" stroke-width="1.4"/>
<circle cx="1184.4" cy="190.4" r="5.8" fill="#5bc8ef" stroke="#231f20" stroke-width="1.4"/>
<circle cx="1178.4" cy="200.4" r="5.8" fill="#5bc8ef" stroke="#231f20" stroke-width="1.4"/>
<circle cx="1184.4" cy="203.6" r="5.8" fill="#5bc8ef" stroke="#231f20" stroke-width="1.4"/>
<circle cx="1184.4" cy="225.6" r="5.8" fill="#5bc8ef" stroke="#231f20" stroke-width="1.4"/>
<circle cx="1184.4" cy="232.4" r="5.8" fill="#5bc8ef" stroke="#231f20" stroke-width="1.4"/>
<circle cx="1184.4" cy="243" r="5.8" fill="#5bc8ef" stroke="#231f20" stroke-width="1.4"/>
<circle cx="1178.4" cy="249" r="5.8" fill="#5bc8ef" stroke="#231f20" stroke-width="1.4"/>
<circle cx="1184.4" cy="251" r="5.8" fill="#5bc8ef" stroke="#231f20" stroke-width="1.4"/>
<circle cx="1178.4" cy="256.4" r="5.8" fill="#5bc8ef" stroke="#231f20" stroke-width="1.4"/>
<circle cx="1184.4" cy="262.4" r="5.8" fill="#5bc8ef" stroke="#231f20" stroke-width="1.4"/>
<circle cx="1184.4" cy="268.4" r="5.8" fill="#5bc8ef" stroke="#231f20" stroke-width="1.4"/>
<circle cx="1184.4" cy="282" r="5.8" fill="#5bc8ef" stroke="#231f20" stroke-width="1.4"/>
<circle cx="1173" cy="289" r="5.8" fill="#5bc8ef" stroke="#231f20" stroke-width="1.4"/>
<circle cx="1184.4" cy="290.4" r="5.8" fill="#5bc8ef" stroke="#231f20" stroke-width="1.4"/>
<circle cx="1178.4" cy="292" r="5.8" fill="#5bc8ef" stroke="#231f20" stroke-width="1.4"/>
<circle cx="1178.4" cy="304" r="5.8" fill="#5bc8ef" stroke="#231f20" stroke-width="1.4"/>
<circle cx="1184.4" cy="307" r="5.8" fill="#5bc8ef" stroke="#231f20" stroke-width="1.4"/>
<circle cx="1299" cy="133" r="5.8" fill="#7b9bd3" stroke="#231f20" stroke-width="1.4"/>
<circle cx="1299" cy="155" r="5.8" fill="#7b9bd3" stroke="#231f20" stroke-width="1.4"/>
<circle cx="1299" cy="163.6" r="5.8" fill="#7b9bd3" stroke="#231f20" stroke-width="1.4"/>
<circle cx="1299" cy="180" r="5.8" fill="#7b9bd3" stroke="#231f20" stroke-width="1.4"/>
<circle cx="1305" cy="189" r="5.8" fill="#7b9bd3" stroke="#231f20" stroke-width="1.4"/>
<circle cx="1299" cy="194" r="5.8" fill="#7b9bd3" stroke="#231f20" stroke-width="1.4"/>
<circle cx="1299" cy="206" r="5.8" fill="#7b9bd3" stroke="#231f20" stroke-width="1.4"/>
<circle cx="1311" cy="220.4" r="5.8" fill="#7b9bd3" stroke="#231f20" stroke-width="1.4"/>
<circle cx="1305" cy="220.4" r="5.8" fill="#7b9bd3" stroke="#231f20" stroke-width="1.4"/>
<circle cx="1299" cy="220.4" r="5.8" fill="#7b9bd3" stroke="#231f20" stroke-width="1.4"/>
<circle cx="1311" cy="233.6" r="5.8" fill="#7b9bd3" stroke="#231f20" stroke-width="1.4"/>
<circle cx="1299" cy="232.4" r="5.8" fill="#7b9bd3" stroke="#231f20" stroke-width="1.4"/>
<circle cx="1305" cy="236.4" r="5.8" fill="#7b9bd3" stroke="#231f20" stroke-width="1.4"/>
<circle cx="1305" cy="253" r="5.8" fill="#7b9bd3" stroke="#231f20" stroke-width="1.4"/>
<circle cx="1299" cy="252" r="5.8" fill="#7b9bd3" stroke="#231f20" stroke-width="1.4"/>
<circle cx="1299" cy="260" r="5.8" fill="#7b9bd3" stroke="#231f20" stroke-width="1.4"/>
<circle cx="1305" cy="267" r="5.8" fill="#7b9bd3" stroke="#231f20" stroke-width="1.4"/>
<circle cx="1299" cy="266.4" r="5.8" fill="#7b9bd3" stroke="#231f20" stroke-width="1.4"/>
<circle cx="1299" cy="284" r="5.8" fill="#7b9bd3" stroke="#231f20" stroke-width="1.4"/>
<circle cx="1299" cy="305" r="5.8" fill="#7b9bd3" stroke="#231f20" stroke-width="1.4"/>
<line x1="1213.4" y1="350" x2="1213.4" y2="361" stroke="#231f20" stroke-width="2.4" />
<line x1="1270.4" y1="350" x2="1270.4" y2="361" stroke="#231f20" stroke-width="2.4" />
<text x="1229" y="375" font-size="28.4" font-weight="normal" text-anchor="end" fill="#000" transform="rotate(-45 1229 375)">Pre</text>
<text x="1285.5" y="378.5" font-size="28.4" font-weight="normal" text-anchor="end" fill="#000" transform="rotate(-45 1285.5 378.5)">Post</text>
<line x1="1350.4" y1="101" x2="1350.4" y2="137.6" stroke="#231f20" stroke-width="2.4" />
<path d="M1344.4,104.5 L1350.4,92.4 L1356.4,104.5 Z" fill="#231f20"/>
<line x1="1350.4" y1="161" x2="1350.4" y2="218" stroke="#231f20" stroke-width="2.4" />
<path d="M1344.4,217 L1350.4,229 L1356.4,217 Z" fill="#231f20"/>
<text x="1384.5" y="97.5" font-size="28.4" font-weight="normal" text-anchor="middle" fill="#000" transform="rotate(-90 1384.5 97.5)">Switch</text>
<text x="1384.5" y="187" font-size="28.4" font-weight="normal" text-anchor="middle" fill="#000" transform="rotate(-90 1384.5 187)">Stay</text>
<text x="1429" y="28.3" font-size="40" font-weight="bold" text-anchor="start" fill="#231f20" >d</text>
<text x="1772.7" y="36.2" font-size="28.3" font-weight="bold" text-anchor="middle" fill="#000" >Peri-Event Fluctuation Frequency</text>
<text x="1659.3" y="84.6" font-size="28.4" font-weight="normal" text-anchor="middle" fill="#000" >Pre-Event</text>
<text x="1888" y="84.6" font-size="28.4" font-weight="normal" text-anchor="middle" fill="#000" >Post-Event</text>
<rect x="1551.2" y="115.3" width="217.8" height="285.9" fill="#e6f4fb" stroke="none" stroke-width="0" />
<rect x="1780" y="115.3" width="217.8" height="285.9" fill="#e5e7f4" stroke="none" stroke-width="0" />
<line x1="1551.2" y1="354.1" x2="1997.8" y2="354.1" stroke="#000" stroke-width="1.4" stroke-opacity="0.075"/>
<line x1="1551.2" y1="306.4" x2="1997.8" y2="306.4" stroke="#000" stroke-width="1.4" stroke-opacity="0.075"/>
<line x1="1551.2" y1="258.6" x2="1997.8" y2="258.6" stroke="#000" stroke-width="1.4" stroke-opacity="0.075"/>
<line x1="1551.2" y1="210.9" x2="1997.8" y2="210.9" stroke="#000" stroke-width="1.4" stroke-opacity="0.075"/>
<line x1="1551.2" y1="163.1" x2="1997.8" y2="163.1" stroke="#000" stroke-width="1.4" stroke-opacity="0.075"/>
<line x1="1551.2" y1="115.3" x2="1997.8" y2="115.3" stroke="#000" stroke-width="1.4" stroke-opacity="0.075"/>
<line x1="1774" y1="126.6" x2="1774" y2="389.4" stroke="#000" stroke-width="2" stroke-dasharray="4 2"/>
<line x1="1534.4" y1="114.1" x2="1534.4" y2="403.1" stroke="#231f20" stroke-width="2.4" />
<line x1="1522.8" y1="115.3" x2="1534.4" y2="115.3" stroke="#231f20" stroke-width="2.4" />
<line x1="1522.8" y1="163.1" x2="1534.4" y2="163.1" stroke="#231f20" stroke-width="2.4" />
<line x1="1522.8" y1="210.9" x2="1534.4" y2="210.9" stroke="#231f20" stroke-width="2.4" />
<line x1="1522.8" y1="258.6" x2="1534.4" y2="258.6" stroke="#231f20" stroke-width="2.4" />
<line x1="1522.8" y1="306.4" x2="1534.4" y2="306.4" stroke="#231f20" stroke-width="2.4" />
<line x1="1522.8" y1="354.1" x2="1534.4" y2="354.1" stroke="#231f20" stroke-width="2.4" />
<line x1="1522.8" y1="401.9" x2="1534.4" y2="401.9" stroke="#231f20" stroke-width="2.4" />
<text x="1515" y="172.6" font-size="28.4" font-weight="normal" text-anchor="end" fill="#000" >30</text>
<text x="1515" y="268.1" font-size="28.4" font-weight="normal" text-anchor="end" fill="#000" >20</text>
<text x="1515" y="363.6" font-size="28.4" font-weight="normal" text-anchor="end" fill="#000" >10</text>
<text x="1471" y="257.7" font-size="28.4" font-weight="normal" text-anchor="middle" fill="#000" transform="rotate(-90 1471 257.7)">Frequency (Hz)</text>
<line x1="1614" y1="402" x2="1614" y2="412.6" stroke="#231f20" stroke-width="2.4" />
<line x1="1706.2" y1="402" x2="1706.2" y2="412.6" stroke="#231f20" stroke-width="2.4" />
<line x1="1842.9" y1="402" x2="1842.9" y2="412.6" stroke="#231f20" stroke-width="2.4" />
<line x1="1934.7" y1="402" x2="1934.7" y2="412.6" stroke="#231f20" stroke-width="2.4" />
<text x="1602.8" y="438.7" font-size="28.4" font-weight="normal" text-anchor="middle" fill="#000" >Stay</text>
<text x="1602.8" y="470.5" font-size="28.4" font-weight="normal" text-anchor="middle" fill="#000" >(n=19)</text>
<text x="1717.2" y="438.7" font-size="28.4" font-weight="normal" text-anchor="middle" fill="#000" >Switch</text>
<text x="1717.2" y="470.5" font-size="28.4" font-weight="normal" text-anchor="middle" fill="#000" >(n=17)</text>
<text x="1831.6" y="438.7" font-size="28.4" font-weight="normal" text-anchor="middle" fill="#000" >Stay</text>
<text x="1831.6" y="470.5" font-size="28.4" font-weight="normal" text-anchor="middle" fill="#000" >(n=17)</text>
<text x="1946" y="438.7" font-size="28.4" font-weight="normal" text-anchor="middle" fill="#000" >Switch</text>
<text x="1946" y="470.5" font-size="28.4" font-weight="normal" text-anchor="middle" fill="#000" >(n=20)</text>
<line x1="1614" y1="325.1" x2="1614" y2="337.3" stroke="#231f20" stroke-width="2.2" />
<line x1="1614" y1="359" x2="1614" y2="367.1" stroke="#231f20" stroke-width="2.2" />
<line x1="1599.8" y1="325.1" x2="1628.2" y2="325.1" stroke="#231f20" stroke-width="2.4" />
<line x1="1599.8" y1="367.1" x2="1628.2" y2="367.1" stroke="#231f20" stroke-width="2.4" />
<rect x="1585.1" y="337.3" width="57.9" height="21.7" fill="#fdc77d" stroke="#231f20" stroke-width="2.2" />
<line x1="1586.3" y1="346.6" x2="1641.8" y2="346.6" stroke="#ff0000" stroke-width="3.6" />
<line x1="1608.5" y1="257.7" x2="1619.5" y2="257.7" stroke="#ff0000" stroke-width="2.2" />
<line x1="1614" y1="252.2" x2="1614" y2="263.2" stroke="#ff0000" stroke-width="2.2" />
<line x1="1706.2" y1="130.3" x2="1706.2" y2="189.7" stroke="#231f20" stroke-width="2.2" />
<line x1="1706.2" y1="249.1" x2="1706.2" y2="325.1" stroke="#231f20" stroke-width="2.2" />
<line x1="1692" y1="130.3" x2="1720.4" y2="130.3" stroke="#231f20" stroke-width="2.4" />
<line x1="1692" y1="325.1" x2="1720.4" y2="325.1" stroke="#231f20" stroke-width="2.4" />
<rect x="1677" y="189.7" width="57.8" height="59.4" fill="#6bc28e" stroke="#231f20" stroke-width="2.2" />
<line x1="1678.2" y1="223.9" x2="1733.6" y2="223.9" stroke="#ff0000" stroke-width="3.6" />
<line x1="1842.9" y1="335.9" x2="1842.9" y2="338.8" stroke="#231f20" stroke-width="2.2" />
<line x1="1842.9" y1="353.2" x2="1842.9" y2="365.4" stroke="#231f20" stroke-width="2.2" />
<line x1="1828.4" y1="335.9" x2="1857.4" y2="335.9" stroke="#231f20" stroke-width="2.4" />
<line x1="1828.4" y1="365.4" x2="1857.4" y2="365.4" stroke="#231f20" stroke-width="2.4" />
<rect x="1814.5" y="338.8" width="57.9" height="14.4" fill="#fdc77d" stroke="#231f20" stroke-width="2.2" />
<line x1="1815.7" y1="350.3" x2="1871.2" y2="350.3" stroke="#ff0000" stroke-width="3.6" />
<line x1="1837.4" y1="302" x2="1848.4" y2="302" stroke="#ff0000" stroke-width="2.2" />
<line x1="1842.9" y1="296.5" x2="1842.9" y2="307.5" stroke="#ff0000" stroke-width="2.2" />
<line x1="1934.7" y1="321.4" x2="1934.7" y2="339.3" stroke="#231f20" stroke-width="2.2" />
<line x1="1934.7" y1="356.7" x2="1934.7" y2="377.9" stroke="#231f20" stroke-width="2.2" />
<line x1="1920.9" y1="321.4" x2="1948.5" y2="321.4" stroke="#231f20" stroke-width="2.4" />
<line x1="1920.9" y1="377.9" x2="1948.5" y2="377.9" stroke="#231f20" stroke-width="2.4" />
<rect x="1905.7" y="339.3" width="57.3" height="17.4" fill="#6bc28e" stroke="#231f20" stroke-width="2.2" />
<line x1="1906.9" y1="346.6" x2="1961.8" y2="346.6" stroke="#ff0000" stroke-width="3.6" />
<line x1="1929.2" y1="236.5" x2="1940.2" y2="236.5" stroke="#ff0000" stroke-width="2.2" />
<line x1="1934.7" y1="231" x2="1934.7" y2="242" stroke="#ff0000" stroke-width="2.2" />
<line x1="1929.2" y1="295.9" x2="1940.2" y2="295.9" stroke="#ff0000" stroke-width="2.2" />
<line x1="1934.7" y1="290.4" x2="1934.7" y2="301.4" stroke="#ff0000" stroke-width="2.2" />
<line x1="1929.2" y1="312.1" x2="1940.2" y2="312.1" stroke="#ff0000" stroke-width="2.2" />
<line x1="1934.7" y1="306.6" x2="1934.7" y2="317.6" stroke="#ff0000" stroke-width="2.2" />
<line x1="1929.2" y1="384.2" x2="1940.2" y2="384.2" stroke="#ff0000" stroke-width="2.2" />
<line x1="1934.7" y1="378.7" x2="1934.7" y2="389.7" stroke="#ff0000" stroke-width="2.2" />
<circle cx="1576.4" cy="257.7" r="3.9" fill="#fdc77d" stroke="#231f20" stroke-width="1.3"/>
<circle cx="1576.4" cy="324.9" r="3.9" fill="#fdc77d" stroke="#231f20" stroke-width="1.3"/>
<circle cx="1576.4" cy="331" r="3.9" fill="#fdc77d" stroke="#231f20" stroke-width="1.3"/>
<circle cx="1570.6" cy="336" r="3.9" fill="#fdc77d" stroke="#231f20" stroke-width="1.3"/>
<circle cx="1576.4" cy="337.5" r="3.9" fill="#fdc77d" stroke="#231f20" stroke-width="1.3"/>
<circle cx="1564.8" cy="339" r="3.9" fill="#fdc77d" stroke="#231f20" stroke-width="1.3"/>
<circle cx="1570.6" cy="341.5" r="3.9" fill="#fdc77d" stroke="#231f20" stroke-width="1.3"/>
<circle cx="1576.4" cy="343.5" r="3.9" fill="#fdc77d" stroke="#231f20" stroke-width="1.3"/>
<circle cx="1564.8" cy="345.5" r="3.9" fill="#fdc77d" stroke="#231f20" stroke-width="1.3"/>
<circle cx="1570.6" cy="348" r="3.9" fill="#fdc77d" stroke="#231f20" stroke-width="1.3"/>
<circle cx="1576.4" cy="350.5" r="3.9" fill="#fdc77d" stroke="#231f20" stroke-width="1.3"/>
<circle cx="1576.4" cy="354" r="3.9" fill="#fdc77d" stroke="#231f20" stroke-width="1.3"/>
<circle cx="1570.6" cy="356" r="3.9" fill="#fdc77d" stroke="#231f20" stroke-width="1.3"/>
<circle cx="1576.4" cy="358.5" r="3.9" fill="#fdc77d" stroke="#231f20" stroke-width="1.3"/>
<circle cx="1564.8" cy="361" r="3.9" fill="#fdc77d" stroke="#231f20" stroke-width="1.3"/>
<circle cx="1570.6" cy="362" r="3.9" fill="#fdc77d" stroke="#231f20" stroke-width="1.3"/>
<circle cx="1576.4" cy="364.5" r="3.9" fill="#fdc77d" stroke="#231f20" stroke-width="1.3"/>
<circle cx="1576.4" cy="367.7" r="3.9" fill="#fdc77d" stroke="#231f20" stroke-width="1.3"/>
<circle cx="1743.5" cy="130.3" r="3.9" fill="#6bc28e" stroke="#231f20" stroke-width="1.3"/>
<circle cx="1743.5" cy="155" r="3.9" fill="#6bc28e" stroke="#231f20" stroke-width="1.3"/>
<circle cx="1743.5" cy="175.6" r="3.9" fill="#6bc28e" stroke="#231f20" stroke-width="1.3"/>
<circle cx="1749.3" cy="175.6" r="3.9" fill="#6bc28e" stroke="#231f20" stroke-width="1.3"/>
<circle cx="1743.5" cy="194" r="3.9" fill="#6bc28e" stroke="#231f20" stroke-width="1.3"/>
<circle cx="1743.5" cy="209.7" r="3.9" fill="#6bc28e" stroke="#231f20" stroke-width="1.3"/>
<circle cx="1743.5" cy="223.9" r="3.9" fill="#6bc28e" stroke="#231f20" stroke-width="1.3"/>
<circle cx="1749.3" cy="223.9" r="3.9" fill="#6bc28e" stroke="#231f20" stroke-width="1.3"/>
<circle cx="1755.1" cy="223.9" r="3.9" fill="#6bc28e" stroke="#231f20" stroke-width="1.3"/>
<circle cx="1743.5" cy="236.6" r="3.9" fill="#6bc28e" stroke="#231f20" stroke-width="1.3"/>
<circle cx="1749.3" cy="236.6" r="3.9" fill="#6bc28e" stroke="#231f20" stroke-width="1.3"/>
<circle cx="1743.5" cy="247.6" r="3.9" fill="#6bc28e" stroke="#231f20" stroke-width="1.3"/>
<circle cx="1749.3" cy="247.6" r="3.9" fill="#6bc28e" stroke="#231f20" stroke-width="1.3"/>
<circle cx="1743.5" cy="257.7" r="3.9" fill="#6bc28e" stroke="#231f20" stroke-width="1.3"/>
<circle cx="1743.5" cy="289.5" r="3.9" fill="#6bc28e" stroke="#231f20" stroke-width="1.3"/>
<circle cx="1749.3" cy="289.5" r="3.9" fill="#6bc28e" stroke="#231f20" stroke-width="1.3"/>
<circle cx="1743.5" cy="325.1" r="3.9" fill="#6bc28e" stroke="#231f20" stroke-width="1.3"/>
<circle cx="1805.2" cy="302" r="3.9" fill="#fdc77d" stroke="#231f20" stroke-width="1.3"/>
<circle cx="1805.2" cy="335.9" r="3.9" fill="#fdc77d" stroke="#231f20" stroke-width="1.3"/>
<circle cx="1799.4" cy="335.9" r="3.9" fill="#fdc77d" stroke="#231f20" stroke-width="1.3"/>
<circle cx="1793.6" cy="335.9" r="3.9" fill="#fdc77d" stroke="#231f20" stroke-width="1.3"/>
<circle cx="1805.2" cy="341" r="3.9" fill="#fdc77d" stroke="#231f20" stroke-width="1.3"/>
<circle cx="1799.4" cy="343" r="3.9" fill="#fdc77d" stroke="#231f20" stroke-width="1.3"/>
<circle cx="1805.2" cy="346" r="3.9" fill="#fdc77d" stroke="#231f20" stroke-width="1.3"/>
<circle cx="1793.6" cy="346" r="3.9" fill="#fdc77d" stroke="#231f20" stroke-width="1.3"/>
<circle cx="1805.2" cy="350.5" r="3.9" fill="#fdc77d" stroke="#231f20" stroke-width="1.3"/>
<circle cx="1799.4" cy="353.5" r="3.9" fill="#fdc77d" stroke="#231f20" stroke-width="1.3"/>
<circle cx="1793.6" cy="353.5" r="3.9" fill="#fdc77d" stroke="#231f20" stroke-width="1.3"/>
<circle cx="1805.2" cy="355" r="3.9" fill="#fdc77d" stroke="#231f20" stroke-width="1.3"/>
<circle cx="1799.4" cy="357" r="3.9" fill="#fdc77d" stroke="#231f20" stroke-width="1.3"/>
<circle cx="1805.2" cy="359" r="3.9" fill="#fdc77d" stroke="#231f20" stroke-width="1.3"/>
<circle cx="1799.4" cy="362" r="3.9" fill="#fdc77d" stroke="#231f20" stroke-width="1.3"/>
<circle cx="1805.2" cy="364.8" r="3.9" fill="#fdc77d" stroke="#231f20" stroke-width="1.3"/>
<circle cx="1972.4" cy="236.5" r="3.9" fill="#6bc28e" stroke="#231f20" stroke-width="1.3"/>
<circle cx="1972.4" cy="295.9" r="3.9" fill="#6bc28e" stroke="#231f20" stroke-width="1.3"/>
<circle cx="1972.4" cy="312.1" r="3.9" fill="#6bc28e" stroke="#231f20" stroke-width="1.3"/>
<circle cx="1972.4" cy="321.4" r="3.9" fill="#6bc28e" stroke="#231f20" stroke-width="1.3"/>
<circle cx="1972.4" cy="338.8" r="3.9" fill="#6bc28e" stroke="#231f20" stroke-width="1.3"/>
<circle cx="1978.2" cy="338.8" r="3.9" fill="#6bc28e" stroke="#231f20" stroke-width="1.3"/>
<circle cx="1972.4" cy="343" r="3.9" fill="#6bc28e" stroke="#231f20" stroke-width="1.3"/>
<circle cx="1978.2" cy="343" r="3.9" fill="#6bc28e" stroke="#231f20" stroke-width="1.3"/>
<circle cx="1984" cy="346" r="3.9" fill="#6bc28e" stroke="#231f20" stroke-width="1.3"/>
<circle cx="1972.4" cy="347" r="3.9" fill="#6bc28e" stroke="#231f20" stroke-width="1.3"/>
<circle cx="1978.2" cy="349" r="3.9" fill="#6bc28e" stroke="#231f20" stroke-width="1.3"/>
<circle cx="1972.4" cy="351" r="3.9" fill="#6bc28e" stroke="#231f20" stroke-width="1.3"/>
<circle cx="1978.2" cy="353" r="3.9" fill="#6bc28e" stroke="#231f20" stroke-width="1.3"/>
<circle cx="1972.4" cy="355" r="3.9" fill="#6bc28e" stroke="#231f20" stroke-width="1.3"/>
<circle cx="1978.2" cy="357" r="3.9" fill="#6bc28e" stroke="#231f20" stroke-width="1.3"/>
<circle cx="1972.4" cy="365.3" r="3.9" fill="#6bc28e" stroke="#231f20" stroke-width="1.3"/>
<circle cx="1972.4" cy="377.7" r="3.9" fill="#6bc28e" stroke="#231f20" stroke-width="1.3"/>
<circle cx="1972.4" cy="383.7" r="3.9" fill="#6bc28e" stroke="#231f20" stroke-width="1.3"/>
<text x="-1" y="543.1" font-size="40" font-weight="bold" text-anchor="start" fill="#231f20" >e</text>
<text x="343.4" y="551.6" font-size="28.25" font-weight="bold" text-anchor="middle" fill="#000" >Correlation - Event Probability</text>
<text x="342.9" y="582.5" font-size="28.3" font-weight="bold" text-anchor="middle" fill="#000" >with Attention Fluctuation</text>
<text x="56.5" y="749.2" font-size="28.4" font-weight="normal" text-anchor="middle" fill="#000" transform="rotate(-90 56.5 749.2)">Correlation (r)</text>
<line x1="90" y1="605.4" x2="90" y2="894.8" stroke="#231f20" stroke-width="2.4" />
<line x1="79.5" y1="893.6" x2="90" y2="893.6" stroke="#231f20" stroke-width="2.4" />
<line x1="79.5" y1="845.8" x2="90" y2="845.8" stroke="#231f20" stroke-width="2.4" />
<line x1="79.5" y1="797.9" x2="90" y2="797.9" stroke="#231f20" stroke-width="2.4" />
<line x1="79.5" y1="750.1" x2="90" y2="750.1" stroke="#231f20" stroke-width="2.4" />
<line x1="79.5" y1="702.3" x2="90" y2="702.3" stroke="#231f20" stroke-width="2.4" />
<line x1="79.5" y1="654.5" x2="90" y2="654.5" stroke="#231f20" stroke-width="2.4" />
<line x1="79.5" y1="606.6" x2="90" y2="606.6" stroke="#231f20" stroke-width="2.4" />
<text x="71" y="615.8" font-size="28.4" font-weight="normal" text-anchor="end" fill="#000" >0.3</text>
<text x="71" y="902.2" font-size="28.4" font-weight="normal" text-anchor="end" fill="#000" >0</text>
<line x1="113.4" y1="922" x2="572.2" y2="922" stroke="#231f20" stroke-width="2.4" />
<line x1="148.6" y1="922" x2="148.6" y2="933" stroke="#231f20" stroke-width="2.4" />
<line x1="195.6" y1="922" x2="195.6" y2="933" stroke="#231f20" stroke-width="2.4" />
<line x1="242.6" y1="922" x2="242.6" y2="933" stroke="#231f20" stroke-width="2.4" />
<line x1="289.5" y1="922" x2="289.5" y2="933" stroke="#231f20" stroke-width="2.4" />
<line x1="336.5" y1="922" x2="336.5" y2="933" stroke="#231f20" stroke-width="2.4" />
<line x1="383.5" y1="922" x2="383.5" y2="933" stroke="#231f20" stroke-width="2.4" />
<line x1="430.5" y1="922" x2="430.5" y2="933" stroke="#231f20" stroke-width="2.4" />
<line x1="477.4" y1="922" x2="477.4" y2="933" stroke="#231f20" stroke-width="2.4" />
<line x1="524.4" y1="922" x2="524.4" y2="933" stroke="#231f20" stroke-width="2.4" />
<line x1="571.4" y1="922" x2="571.4" y2="933" stroke="#231f20" stroke-width="2.4" />
<text x="147.1" y="964.7" font-size="28.4" font-weight="normal" text-anchor="middle" fill="#000" >4</text>
<text x="240.6" y="964.7" font-size="28.4" font-weight="normal" text-anchor="middle" fill="#000" >8</text>
<text x="333.8" y="964.7" font-size="28.4" font-weight="normal" text-anchor="middle" fill="#000" >16</text>
<text x="429.4" y="964.7" font-size="28.4" font-weight="normal" text-anchor="middle" fill="#000" >32</text>
<text x="522.9" y="964.7" font-size="28.4" font-weight="normal" text-anchor="middle" fill="#000" >64</text>
<text x="342.2" y="999.5" font-size="28.4" font-weight="normal" text-anchor="middle" fill="#000" >Frequency (Hz)</text>
<path d="M113.4,748 L124.6,746.8 L136.6,744 L148.6,753.1 L160.6,747.2 L172.6,750.5 L184.6,753.5 L195,753.6 L207,756.4 L219,749.8 L231,735.5 L241.6,716.9 L253.6,697.1 L264,689 L276,681.2 L289.6,678.2 L300,680.9 L313.6,687.2 L324,702.5 L336,722.8 L348,742.4 L360,760.6 L372.2,771.5 L390.2,783.6 L408.2,794 L418.7,797 L429.2,806 L441.2,818 L454.7,824 L465.2,824 L480.2,818.6 L498.2,814.4 L513.2,806.6 L525.2,798.5 L540.2,798.7 L555.2,797 L571.8,796.6 L571.8,822.6 L555.2,823 L540.2,824.7 L525.2,826.7 L513.2,836.6 L498.2,846.8 L480.2,854.6 L465.2,863 L454.7,864 L441.2,858 L429.2,846 L418.7,837 L408.2,834 L390.2,823.6 L372.2,811.5 L360,800.6 L348,785.6 L336,769.2 L324,750.8 L313.6,736 L300,730.4 L289.6,728.2 L276,730 L264,737 L253.6,744.1 L241.6,763.1 L231,780.5 L219,793.8 L207,799.1 L195,795.8 L184.6,795.9 L172.6,793.1 L160.6,790.2 L148.6,796.3 L136.6,787.4 L124.6,790.6 L113.4,792Z" fill="#fbd3a4" opacity="0.45"/>
<path d="M113.4,724.5 L124.6,722.6 L136.6,724.3 L148.6,718.7 L160.6,726.3 L172.6,730.6 L183.1,726.1 L195,726.9 L207,725.3 L219,728.2 L231,726.6 L241.6,730.1 L255,741.7 L267,743.4 L288,741.2 L300,739.6 L313.6,724 L330,688 L348,660.3 L360,654.8 L372,653.7 L382.6,652 L393,654.2 L405,656.4 L417,660.5 L432,668.3 L447,677.6 L465,689 L477,700 L492,718.8 L510,747.7 L525,776.5 L535.8,793.3 L546.3,800.6 L558.3,814 L571.8,826 L571.8,850 L558.3,838 L546.3,824.6 L535.8,819.9 L525,809.5 L510,789.7 L492,767.2 L477,749 L465,738.4 L447,727.6 L432,718.9 L417,711.5 L405,707.6 L393,705.8 L382.6,704 L372,706.3 L360,708.4 L348,714.9 L330,744 L313.6,771.2 L300,779.6 L288,782.2 L267,786 L255,785.3 L241.6,773.9 L231,770.4 L219,771.8 L207,768.7 L195,770.1 L183.1,769.1 L172.6,773.4 L160.6,768.9 L148.6,761.3 L136.6,766.7 L124.6,764.8 L113.4,766.5Z" fill="#9ad7b5" opacity="0.45"/>
<path d="M113.4,770 L124.6,768.7 L136.6,765.7 L148.6,774.7 L160.6,768.7 L172.6,771.8 L184.6,774.7 L195,774.7 L207,777.7 L219,771.8 L231,758 L241.6,740 L253.6,720.6 L264,713 L276,705.6 L289.6,703.2 L300,705.6 L313.6,711.6 L324,726.6 L336,746 L348,764 L360,780.6 L372.2,791.5 L390.2,803.6 L408.2,814 L418.7,817 L429.2,826 L441.2,838 L454.7,844 L465.2,843.5 L480.2,836.6 L498.2,830.6 L513.2,821.6 L525.2,812.6 L540.2,811.7 L555.2,810 L571.8,809.6" fill="none" stroke="#fdbf72" stroke-width="3.6" stroke-linejoin="round"/>
<path d="M113.4,745.5 L124.6,743.7 L136.6,745.5 L148.6,740 L160.6,747.6 L172.6,752 L183.1,747.6 L195,748.5 L207,747 L219,750 L231,748.5 L241.6,752 L255,763.5 L267,764.7 L288,761.7 L300,759.6 L313.6,747.6 L330,716 L348,687.6 L360,681.6 L372,680 L382.6,678 L393,680 L405,682 L417,686 L432,693.6 L447,702.6 L465,713.7 L477,724.5 L492,743 L510,768.7 L525,793 L535.8,806.6 L546.3,812.6 L558.3,826 L571.8,838" fill="none" stroke="#66c18c" stroke-width="3.6" stroke-linejoin="round"/>
<line x1="357.8" y1="899.4" x2="503.6" y2="899.4" stroke="#66c18c" stroke-width="8" />
<line x1="271.6" y1="899.6" x2="295.6" y2="899.6" stroke="#fdbf72" stroke-width="4" />
<line x1="278.2" y1="893.7" x2="278.2" y2="905.2" stroke="#fdbf72" stroke-width="4" />
<line x1="288.8" y1="893.7" x2="288.8" y2="905.2" stroke="#fdbf72" stroke-width="4" />
<text x="514.5" y="903.5" font-size="28.4" font-weight="normal" text-anchor="start" fill="#000" >p</text>
<text x="530" y="910.5" font-size="17" font-weight="normal" text-anchor="start" fill="#000" >FDR</text>
<text x="563" y="903.5" font-size="28.4" font-weight="normal" text-anchor="start" fill="#000" >&lt;.05</text>
<text x="713.5" y="545" font-size="40" font-weight="bold" text-anchor="start" fill="#231f20" >f</text>
<text x="1259.1" y="550.5" font-size="27.9" font-weight="bold" text-anchor="middle" fill="#000" >Schematic - Pre-Event &amp; Reset of Attentional Fluctuations</text>
<path d="M830.6,689.7 H841.7 V907.7 H830.6" fill="none" stroke="#231f20" stroke-width="2.2"/>
<text x="823.7" y="687.6" font-size="28.4" font-weight="normal" text-anchor="end" fill="#000" >strong</text>
<text x="823.7" y="914.6" font-size="28.4" font-weight="normal" text-anchor="end" fill="#000" >weak</text>
<text x="767.5" y="796" font-size="28.4" font-weight="normal" text-anchor="middle" fill="#000" transform="rotate(-90 767.5 796)">Attentional</text>
<text x="796" y="795" font-size="28.4" font-weight="normal" text-anchor="middle" fill="#000" transform="rotate(-90 796 795)">Focus</text>
<path d="M875.6,798.7 L875.6,740.7 L876.1,740.6 L876.6,740.5 L877.1,740.4 L877.6,740.3 L878.1,740.2 L878.6,740.1 L879.1,740 L879.6,740 L880.1,739.9 L880.6,739.9 L881.1,739.9 L881.6,739.9 L882.1,739.9 L882.6,739.9 L883.1,739.9 L883.6,740 L884.1,740 L884.6,740.1 L885.1,740.2 L885.6,740.3 L886.1,740.4 L886.6,740.5 L887.1,740.6 L887.6,740.7 L888.1,740.9 L888.6,741 L889.1,741.2 L889.6,741.4 L890.1,741.6 L890.6,741.8 L891.1,742 L891.6,742.3 L892.1,742.5 L892.6,742.8 L893.1,743 L893.6,743.3 L894.1,743.6 L894.6,743.9 L895.1,744.2 L895.6,744.6 L896.1,744.9 L896.6,745.3 L897.1,745.6 L897.6,746 L898.1,746.4 L898.6,746.8 L899.1,747.2 L899.6,747.6 L900.1,748.1 L900.6,748.5 L901.1,749 L901.6,749.5 L902.1,750 L902.6,750.4 L903.1,751 L903.6,751.5 L904.1,752 L904.6,752.6 L905.1,753.1 L905.6,753.7 L906.1,754.3 L906.6,754.8 L907.1,755.4 L907.6,756.1 L908.1,756.7 L908.6,757.3 L909.1,758 L909.6,758.6 L910.1,759.3 L910.6,760 L911.1,760.6 L911.6,761.3 L912.1,762 L912.6,762.8 L913.1,763.5 L913.6,764.2 L914.1,765 L914.6,765.7 L915.1,766.5 L915.6,767.3 L916.1,768.1 L916.6,768.8 L917.1,769.6 L917.6,770.5 L918.1,771.3 L918.6,772.1 L919.1,772.9 L919.6,773.8 L920.1,774.6 L920.6,775.5 L921.1,776.4 L921.6,777.3 L922.1,778.1 L922.6,779 L923.1,779.9 L923.6,780.8 L924.1,781.8 L924.6,782.7 L925.1,783.6 L925.6,784.5 L926.1,785.5 L926.6,786.4 L927.1,787.4 L927.6,788.3 L928.1,789.3 L928.6,790.3 L929.1,791.2 L929.6,792.2 L930.1,793.2 L930.6,794.2 L931.1,795.2 L931.6,796.2 L932.1,797.2 L932.6,798.2 L933.1,799.2 L933.6,800.2 L934.1,801.2 L934.6,802.3 L935.1,803.3 L935.6,804.3 L936.1,805.3 L936.6,806.4 L937.1,807.4 L937.6,808.4 L938.1,809.5 L938.6,810.5 L939.1,811.6 L939.6,812.6 L940.1,813.6 L940.6,814.7 L941.1,815.7 L941.6,816.8 L942.1,817.8 L942.6,818.9 L943.1,819.9 L943.6,820.9 L944.1,822 L944.6,823 L945.1,824.1 L945.6,825.1 L946.1,826.1 L946.6,827.2 L947.1,828.2 L947.6,829.2 L948.1,830.3 L948.6,831.3 L949.1,832.3 L949.6,833.3 L950.1,834.4 L950.6,835.4 L951.1,836.4 L951.6,837.4 L952.1,838.4 L952.6,839.4 L953.1,840.4 L953.6,841.4 L954.1,842.3 L954.6,843.3 L955.1,844.3 L955.6,845.2 L956.1,846.2 L956.6,847.2 L957.1,848.1 L957.6,849 L958.1,850 L958.6,850.9 L959.1,851.8 L959.6,852.7 L960.1,853.6 L960.6,854.5 L961.1,855.4 L961.6,856.3 L962.1,857.2 L962.6,858 L963.1,858.9 L963.6,859.7 L964.1,860.6 L964.6,861.4 L965.1,862.2 L965.6,863 L966.1,863.8 L966.6,864.6 L967.1,865.4 L967.6,866.1 L968.1,866.9 L968.6,867.6 L969.1,868.4 L969.6,869.1 L970.1,869.8 L970.6,870.5 L971.1,871.2 L971.6,871.8 L972.1,872.5 L972.6,873.1 L973.1,873.8 L973.6,874.4 L974.1,875 L974.6,875.6 L975.1,876.2 L975.6,876.7 L976.1,877.3 L976.6,877.8 L977.1,878.4 L977.6,878.9 L978.1,879.4 L978.6,879.9 L979.1,880.3 L979.6,880.8 L980.1,881.2 L980.6,881.7 L981.1,882.1 L981.6,882.5 L982.1,882.8 L982.6,883.2 L983.1,883.6 L983.6,883.9 L984.1,884.2 L984.6,884.5 L985.1,884.8 L985.6,885.1 L986.1,885.3 L986.6,885.6 L987.1,885.8 L987.6,886 L988.1,886.2 L988.6,886.3 L989.1,886.5 L989.6,886.6 L990.1,886.7 L990.6,886.8 L991.1,886.9 L991.6,887 L992.1,887.1 L992.6,887.1 L993.1,887.1 L993.6,887.1 L994.1,887.1 L994.6,887.1 L995.1,887 L995.6,886.9 L996.1,886.9 L996.6,886.7 L997.1,886.6 L997.6,886.5 L998.1,886.3 L998.6,886.2 L999.1,886 L999.6,885.8 L1000.1,885.5 L1000.6,885.3 L1001.1,885 L1001.6,884.8 L1002.1,884.5 L1002.6,884.1 L1003.1,883.8 L1003.6,883.5 L1004.1,883.1 L1004.6,882.7 L1005.1,882.3 L1005.6,881.9 L1006.1,881.5 L1006.6,881 L1007.1,880.6 L1007.6,880.1 L1008.1,879.6 L1008.6,879.1 L1009.1,878.5 L1009.6,878 L1010.1,877.4 L1010.6,876.8 L1011.1,876.2 L1011.6,875.6 L1012.1,875 L1012.6,874.3 L1013.1,873.7 L1013.6,873 L1014.1,872.3 L1014.6,871.6 L1015.1,870.9 L1015.6,870.1 L1016.1,869.4 L1016.6,868.6 L1017.1,867.8 L1017.6,867 L1018.1,866.2 L1018.6,865.4 L1019.1,864.5 L1019.6,863.6 L1020.1,862.8 L1020.6,861.9 L1021.1,861 L1021.6,860.1 L1022.1,859.1 L1022.6,858.2 L1023.1,857.2 L1023.6,856.3 L1024.1,855.3 L1024.6,854.3 L1025.1,853.3 L1025.6,852.3 L1026.1,851.2 L1026.6,850.2 L1027.1,849.1 L1027.6,848 L1028.1,847 L1028.6,845.9 L1029.1,844.8 L1029.6,843.7 L1030.1,842.5 L1030.6,841.4 L1031.1,840.2 L1031.6,839.1 L1032.1,837.9 L1032.6,836.7 L1033.1,835.6 L1033.6,834.4 L1034.1,833.2 L1034.6,831.9 L1035.1,830.7 L1035.6,829.5 L1036.1,828.2 L1036.6,827 L1037.1,825.7 L1037.6,824.5 L1038.1,823.2 L1038.6,821.9 L1039.1,820.7 L1039.6,819.4 L1040.1,818.1 L1040.6,816.8 L1041.1,815.5 L1041.6,814.1 L1042.1,812.8 L1042.6,811.5 L1043.1,810.2 L1043.6,808.8 L1044.1,807.5 L1044.6,806.2 L1045.1,804.8 L1045.6,803.5 L1046.1,802.1 L1046.6,800.7 L1047.1,799.4 L1047.6,798 L1048.1,796.7 L1048.6,795.3 L1049.1,793.9 L1049.6,792.5 L1050.1,791.2 L1050.6,789.8 L1051.1,788.4 L1051.6,787.1 L1052.1,785.7 L1052.6,784.3 L1053.1,782.9 L1053.6,781.6 L1054.1,780.2 L1054.6,778.8 L1055.1,777.4 L1055.6,776.1 L1056.1,774.7 L1056.6,773.3 L1057.1,772 L1057.6,770.6 L1058.1,769.3 L1058.6,767.9 L1059.1,766.6 L1059.6,765.2 L1060.1,763.9 L1060.6,762.5 L1061.1,761.2 L1061.6,759.9 L1062.1,758.5 L1062.6,757.2 L1063.1,755.9 L1063.6,754.6 L1064.1,753.3 L1064.6,752 L1065.1,750.7 L1065.6,749.4 L1066.1,748.2 L1066.6,746.9 L1067.1,745.6 L1067.6,744.4 L1068.1,743.2 L1068.6,741.9 L1069.1,740.7 L1069.6,739.5 L1070.1,738.3 L1070.6,737.1 L1071.1,735.9 L1071.6,734.7 L1072.1,733.5 L1072.6,732.4 L1073.1,731.2 L1073.6,730.1 L1074.1,729 L1074.6,727.9 L1075.1,726.8 L1075.6,725.7 L1076.1,724.6 L1076.6,723.5 L1077.1,722.5 L1077.6,721.4 L1078.1,720.4 L1078.6,719.4 L1079.1,718.4 L1079.6,717.4 L1080.1,716.4 L1080.6,715.5 L1081.1,714.5 L1081.6,713.6 L1082.1,712.7 L1082.6,711.8 L1083.1,710.9 L1083.6,710 L1084.1,709.2 L1084.6,708.3 L1085.1,707.5 L1085.6,706.7 L1086.1,705.9 L1086.6,705.1 L1087.1,704.4 L1087.6,703.6 L1088.1,702.9 L1088.6,702.2 L1089.1,701.5 L1089.6,700.8 L1090.1,700.1 L1090.6,699.5 L1091.1,698.9 L1091.6,698.3 L1092.1,697.7 L1092.6,697.1 L1093.1,696.6 L1093.6,696 L1094.1,695.5 L1094.6,695 L1095.1,694.6 L1095.6,694.1 L1096.1,693.7 L1096.6,693.2 L1097.1,692.8 L1097.6,692.5 L1098.1,692.1 L1098.6,691.8 L1099.1,691.4 L1099.6,691.1 L1100.1,690.9 L1100.6,690.6 L1101.1,690.3 L1101.6,690.1 L1102.1,689.9 L1102.6,689.7 L1103.1,689.6 L1103.6,689.4 L1104.1,689.3 L1104.1,798.7 Z" fill="#fde4bb"/>
<line x1="875.6" y1="798.7" x2="1104.6" y2="798.7" stroke="#231f20" stroke-width="1.8" stroke-dasharray="3.4 2.2"/>
<path d="M875.6,740.7 L876.1,740.6 L876.6,740.5 L877.1,740.4 L877.6,740.3 L878.1,740.2 L878.6,740.1 L879.1,740 L879.6,740 L880.1,739.9 L880.6,739.9 L881.1,739.9 L881.6,739.9 L882.1,739.9 L882.6,739.9 L883.1,739.9 L883.6,740 L884.1,740 L884.6,740.1 L885.1,740.2 L885.6,740.3 L886.1,740.4 L886.6,740.5 L887.1,740.6 L887.6,740.7 L888.1,740.9 L888.6,741 L889.1,741.2 L889.6,741.4 L890.1,741.6 L890.6,741.8 L891.1,742 L891.6,742.3 L892.1,742.5 L892.6,742.8 L893.1,743 L893.6,743.3 L894.1,743.6 L894.6,743.9 L895.1,744.2 L895.6,744.6 L896.1,744.9 L896.6,745.3 L897.1,745.6 L897.6,746 L898.1,746.4 L898.6,746.8 L899.1,747.2 L899.6,747.6 L900.1,748.1 L900.6,748.5 L901.1,749 L901.6,749.5 L902.1,750 L902.6,750.4 L903.1,751 L903.6,751.5 L904.1,752 L904.6,752.6 L905.1,753.1 L905.6,753.7 L906.1,754.3 L906.6,754.8 L907.1,755.4 L907.6,756.1 L908.1,756.7 L908.6,757.3 L909.1,758 L909.6,758.6 L910.1,759.3 L910.6,760 L911.1,760.6 L911.6,761.3 L912.1,762 L912.6,762.8 L913.1,763.5 L913.6,764.2 L914.1,765 L914.6,765.7 L915.1,766.5 L915.6,767.3 L916.1,768.1 L916.6,768.8 L917.1,769.6 L917.6,770.5 L918.1,771.3 L918.6,772.1 L919.1,772.9 L919.6,773.8 L920.1,774.6 L920.6,775.5 L921.1,776.4 L921.6,777.3 L922.1,778.1 L922.6,779 L923.1,779.9 L923.6,780.8 L924.1,781.8 L924.6,782.7 L925.1,783.6 L925.6,784.5 L926.1,785.5 L926.6,786.4 L927.1,787.4 L927.6,788.3 L928.1,789.3 L928.6,790.3 L929.1,791.2 L929.6,792.2 L930.1,793.2 L930.6,794.2 L931.1,795.2 L931.6,796.2 L932.1,797.2 L932.6,798.2 L933.1,799.2 L933.6,800.2 L934.1,801.2 L934.6,802.3 L935.1,803.3 L935.6,804.3 L936.1,805.3 L936.6,806.4 L937.1,807.4 L937.6,808.4 L938.1,809.5 L938.6,810.5 L939.1,811.6 L939.6,812.6 L940.1,813.6 L940.6,814.7 L941.1,815.7 L941.6,816.8 L942.1,817.8 L942.6,818.9 L943.1,819.9 L943.6,820.9 L944.1,822 L944.6,823 L945.1,824.1 L945.6,825.1 L946.1,826.1 L946.6,827.2 L947.1,828.2 L947.6,829.2 L948.1,830.3 L948.6,831.3 L949.1,832.3 L949.6,833.3 L950.1,834.4 L950.6,835.4 L951.1,836.4 L951.6,837.4 L952.1,838.4 L952.6,839.4 L953.1,840.4 L953.6,841.4 L954.1,842.3 L954.6,843.3 L955.1,844.3 L955.6,845.2 L956.1,846.2 L956.6,847.2 L957.1,848.1 L957.6,849 L958.1,850 L958.6,850.9 L959.1,851.8 L959.6,852.7 L960.1,853.6 L960.6,854.5 L961.1,855.4 L961.6,856.3 L962.1,857.2 L962.6,858 L963.1,858.9 L963.6,859.7 L964.1,860.6 L964.6,861.4 L965.1,862.2 L965.6,863 L966.1,863.8 L966.6,864.6 L967.1,865.4 L967.6,866.1 L968.1,866.9 L968.6,867.6 L969.1,868.4 L969.6,869.1 L970.1,869.8 L970.6,870.5 L971.1,871.2 L971.6,871.8 L972.1,872.5 L972.6,873.1 L973.1,873.8 L973.6,874.4 L974.1,875 L974.6,875.6 L975.1,876.2 L975.6,876.7 L976.1,877.3 L976.6,877.8 L977.1,878.4 L977.6,878.9 L978.1,879.4 L978.6,879.9 L979.1,880.3 L979.6,880.8 L980.1,881.2 L980.6,881.7 L981.1,882.1 L981.6,882.5 L982.1,882.8 L982.6,883.2 L983.1,883.6 L983.6,883.9 L984.1,884.2 L984.6,884.5 L985.1,884.8 L985.6,885.1 L986.1,885.3 L986.6,885.6 L987.1,885.8 L987.6,886 L988.1,886.2 L988.6,886.3 L989.1,886.5 L989.6,886.6 L990.1,886.7 L990.6,886.8 L991.1,886.9 L991.6,887 L992.1,887.1 L992.6,887.1 L993.1,887.1 L993.6,887.1 L994.1,887.1 L994.6,887.1 L995.1,887 L995.6,886.9 L996.1,886.9 L996.6,886.7 L997.1,886.6 L997.6,886.5 L998.1,886.3 L998.6,886.2 L999.1,886 L999.6,885.8 L1000.1,885.5 L1000.6,885.3 L1001.1,885 L1001.6,884.8 L1002.1,884.5 L1002.6,884.1 L1003.1,883.8 L1003.6,883.5 L1004.1,883.1 L1004.6,882.7 L1005.1,882.3 L1005.6,881.9 L1006.1,881.5 L1006.6,881 L1007.1,880.6 L1007.6,880.1 L1008.1,879.6 L1008.6,879.1 L1009.1,878.5 L1009.6,878 L1010.1,877.4 L1010.6,876.8 L1011.1,876.2 L1011.6,875.6 L1012.1,875 L1012.6,874.3 L1013.1,873.7 L1013.6,873 L1014.1,872.3 L1014.6,871.6 L1015.1,870.9 L1015.6,870.1 L1016.1,869.4 L1016.6,868.6 L1017.1,867.8 L1017.6,867 L1018.1,866.2 L1018.6,865.4 L1019.1,864.5 L1019.6,863.6 L1020.1,862.8 L1020.6,861.9 L1021.1,861 L1021.6,860.1 L1022.1,859.1 L1022.6,858.2 L1023.1,857.2 L1023.6,856.3 L1024.1,855.3 L1024.6,854.3 L1025.1,853.3 L1025.6,852.3 L1026.1,851.2 L1026.6,850.2 L1027.1,849.1 L1027.6,848 L1028.1,847 L1028.6,845.9 L1029.1,844.8 L1029.6,843.7 L1030.1,842.5 L1030.6,841.4 L1031.1,840.2 L1031.6,839.1 L1032.1,837.9 L1032.6,836.7 L1033.1,835.6 L1033.6,834.4 L1034.1,833.2 L1034.6,831.9 L1035.1,830.7 L1035.6,829.5 L1036.1,828.2 L1036.6,827 L1037.1,825.7 L1037.6,824.5 L1038.1,823.2 L1038.6,821.9 L1039.1,820.7 L1039.6,819.4 L1040.1,818.1 L1040.6,816.8 L1041.1,815.5 L1041.6,814.1 L1042.1,812.8 L1042.6,811.5 L1043.1,810.2 L1043.6,808.8 L1044.1,807.5 L1044.6,806.2 L1045.1,804.8 L1045.6,803.5 L1046.1,802.1 L1046.6,800.7 L1047.1,799.4 L1047.6,798 L1048.1,796.7 L1048.6,795.3 L1049.1,793.9 L1049.6,792.5 L1050.1,791.2 L1050.6,789.8 L1051.1,788.4 L1051.6,787.1 L1052.1,785.7 L1052.6,784.3 L1053.1,782.9 L1053.6,781.6 L1054.1,780.2 L1054.6,778.8 L1055.1,777.4 L1055.6,776.1 L1056.1,774.7 L1056.6,773.3 L1057.1,772 L1057.6,770.6 L1058.1,769.3 L1058.6,767.9 L1059.1,766.6 L1059.6,765.2 L1060.1,763.9 L1060.6,762.5 L1061.1,761.2 L1061.6,759.9 L1062.1,758.5 L1062.6,757.2 L1063.1,755.9 L1063.6,754.6 L1064.1,753.3 L1064.6,752 L1065.1,750.7 L1065.6,749.4 L1066.1,748.2 L1066.6,746.9 L1067.1,745.6 L1067.6,744.4 L1068.1,743.2 L1068.6,741.9 L1069.1,740.7 L1069.6,739.5 L1070.1,738.3 L1070.6,737.1 L1071.1,735.9 L1071.6,734.7 L1072.1,733.5 L1072.6,732.4 L1073.1,731.2 L1073.6,730.1 L1074.1,729 L1074.6,727.9 L1075.1,726.8 L1075.6,725.7 L1076.1,724.6 L1076.6,723.5 L1077.1,722.5 L1077.6,721.4 L1078.1,720.4 L1078.6,719.4 L1079.1,718.4 L1079.6,717.4 L1080.1,716.4 L1080.6,715.5 L1081.1,714.5 L1081.6,713.6 L1082.1,712.7 L1082.6,711.8 L1083.1,710.9 L1083.6,710 L1084.1,709.2 L1084.6,708.3 L1085.1,707.5 L1085.6,706.7 L1086.1,705.9 L1086.6,705.1 L1087.1,704.4 L1087.6,703.6 L1088.1,702.9 L1088.6,702.2 L1089.1,701.5 L1089.6,700.8 L1090.1,700.1 L1090.6,699.5 L1091.1,698.9 L1091.6,698.3 L1092.1,697.7 L1092.6,697.1 L1093.1,696.6 L1093.6,696 L1094.1,695.5 L1094.6,695 L1095.1,694.6 L1095.6,694.1 L1096.1,693.7 L1096.6,693.2 L1097.1,692.8 L1097.6,692.5 L1098.1,692.1 L1098.6,691.8 L1099.1,691.4 L1099.6,691.1 L1100.1,690.9 L1100.6,690.6 L1101.1,690.3 L1101.6,690.1 L1102.1,689.9 L1102.6,689.7 L1103.1,689.6 L1103.6,689.4 L1104.1,689.3" fill="none" stroke="#231f20" stroke-width="3.6" stroke-dasharray="6.5 3.2"/>
<path d="M875.6,798.7 L875.6,770.2 L876.1,770.1 L876.6,770 L877.1,769.9 L877.6,769.8 L878.1,769.8 L878.6,769.7 L879.1,769.7 L879.6,769.8 L880.1,769.8 L880.6,769.9 L881.1,770 L881.6,770.1 L882.1,770.3 L882.6,770.4 L883.1,770.6 L883.6,770.8 L884.1,771.1 L884.6,771.3 L885.1,771.6 L885.6,771.9 L886.1,772.3 L886.6,772.6 L887.1,773 L887.6,773.4 L888.1,773.9 L888.6,774.3 L889.1,774.8 L889.6,775.3 L890.1,775.9 L890.6,776.4 L891.1,777 L891.6,777.6 L892.1,778.2 L892.6,778.8 L893.1,779.5 L893.6,780.2 L894.1,780.9 L894.6,781.6 L895.1,782.3 L895.6,783.1 L896.1,783.9 L896.6,784.7 L897.1,785.5 L897.6,786.3 L898.1,787.2 L898.6,788 L899.1,788.9 L899.6,789.8 L900.1,790.7 L900.6,791.7 L901.1,792.6 L901.6,793.5 L902.1,794.5 L902.6,795.5 L903.1,796.5 L903.6,797.4 L904.1,798.4 L904.6,799.5 L905.1,800.5 L905.6,801.5 L906.1,802.5 L906.6,803.6 L907.1,804.6 L907.6,805.6 L908.1,806.7 L908.6,807.7 L909.1,808.8 L909.6,809.8 L910.1,810.8 L910.6,811.9 L911.1,812.9 L911.6,814 L912.1,815 L912.6,816 L913.1,817 L913.6,818.1 L914.1,819.1 L914.6,820.1 L915.1,821 L915.6,822 L916.1,823 L916.6,823.9 L917.1,824.9 L917.6,825.8 L918.1,826.7 L918.6,827.6 L919.1,828.5 L919.6,829.3 L920.1,830.2 L920.6,831 L921.1,831.8 L921.6,832.6 L922.1,833.3 L922.6,834.1 L923.1,834.8 L923.6,835.5 L924.1,836.2 L924.6,836.8 L925.1,837.4 L925.6,838 L926.1,838.6 L926.6,839.1 L927.1,839.6 L927.6,840.1 L928.1,840.6 L928.6,841 L929.1,841.4 L929.6,841.7 L930.1,842.1 L930.6,842.4 L931.1,842.6 L931.6,842.9 L932.1,843.1 L932.6,843.2 L933.1,843.4 L933.6,843.5 L934.1,843.5 L934.6,843.6 L935.1,843.6 L935.6,843.5 L936.1,843.4 L936.6,843.3 L937.1,843.2 L937.6,843 L938.1,842.7 L938.6,842.5 L939.1,842.2 L939.6,841.9 L940.1,841.5 L940.6,841.1 L941.1,840.6 L941.6,840.2 L942.1,839.7 L942.6,839.1 L943.1,838.5 L943.6,837.9 L944.1,837.3 L944.6,836.6 L945.1,835.9 L945.6,835.1 L946.1,834.4 L946.6,833.6 L947.1,832.7 L947.6,831.9 L948.1,831 L948.6,830 L949.1,829.1 L949.6,828.1 L950.1,827.1 L950.6,826.1 L951.1,825 L951.6,823.9 L952.1,822.8 L952.6,821.7 L953.1,820.5 L953.6,819.4 L954.1,818.2 L954.6,816.9 L955.1,815.7 L955.6,814.5 L956.1,813.2 L956.6,811.9 L957.1,810.6 L957.6,809.3 L958.1,808 L958.6,806.6 L959.1,805.3 L959.6,803.9 L960.1,802.5 L960.6,801.1 L961.1,799.7 L961.6,798.4 L962.1,796.9 L962.6,795.5 L963.1,794.1 L963.6,792.7 L964.1,791.3 L964.6,789.9 L965.1,788.5 L965.6,787.1 L966.1,785.7 L966.6,784.2 L967.1,782.8 L967.6,781.4 L968.1,780.1 L968.6,778.7 L969.1,777.3 L969.6,775.9 L970.1,774.6 L970.6,773.2 L971.1,771.9 L971.6,770.6 L972.1,769.3 L972.6,768 L973.1,766.8 L973.6,765.5 L974.1,764.3 L974.6,763.1 L975.1,761.9 L975.6,760.7 L976.1,759.6 L976.6,758.4 L977.1,757.3 L977.6,756.3 L978.1,755.2 L978.6,754.2 L979.1,753.2 L979.6,752.2 L980.1,751.3 L980.6,750.4 L981.1,749.5 L981.6,748.7 L982.1,747.9 L982.6,747.1 L983.1,746.3 L983.6,745.6 L984.1,745 L984.6,744.3 L985.1,743.7 L985.6,743.2 L986.1,742.6 L986.6,742.1 L987.1,741.7 L987.6,741.3 L988.1,740.9 L988.6,740.6 L989.1,740.3 L989.6,740 L990.1,739.8 L990.6,739.6 L991.1,739.5 L991.6,739.4 L992.1,739.4 L992.6,739.4 L993.1,739.4 L993.6,739.5 L994.1,739.7 L994.6,739.8 L995.1,740.1 L995.6,740.3 L996.1,740.6 L996.6,741 L997.1,741.4 L997.6,741.9 L998.1,742.3 L998.6,742.9 L999.1,743.5 L999.6,744.1 L1000.1,744.8 L1000.6,745.5 L1001.1,746.3 L1001.6,747.1 L1002.1,747.9 L1002.6,748.8 L1003.1,749.8 L1003.6,750.8 L1004.1,751.8 L1004.6,752.9 L1005.1,754 L1005.6,755.2 L1006.1,756.4 L1006.6,757.7 L1007.1,759 L1007.6,760.3 L1008.1,761.7 L1008.6,763.1 L1009.1,764.5 L1009.6,766 L1010.1,767.5 L1010.6,769.1 L1011.1,770.7 L1011.6,772.3 L1012.1,774 L1012.6,775.7 L1013.1,777.4 L1013.6,779.2 L1014.1,781 L1014.6,782.8 L1015.1,784.6 L1015.6,786.5 L1016.1,788.4 L1016.6,790.3 L1017.1,792.3 L1017.6,794.2 L1018.1,796.2 L1018.6,798.2 L1019.1,800.2 L1019.6,802.2 L1020.1,804.3 L1020.6,806.3 L1021.1,808.4 L1021.6,810.5 L1022.1,812.5 L1022.6,814.6 L1023.1,816.7 L1023.6,818.8 L1024.1,820.9 L1024.6,822.9 L1025.1,825 L1025.6,827.1 L1026.1,829.2 L1026.6,831.2 L1027.1,833.3 L1027.6,835.3 L1028.1,837.3 L1028.6,839.3 L1029.1,841.3 L1029.6,843.3 L1030.1,845.2 L1030.6,847.2 L1031.1,849 L1031.6,850.9 L1032.1,852.8 L1032.6,854.6 L1033.1,856.4 L1033.6,858.1 L1034.1,859.8 L1034.6,861.5 L1035.1,863.1 L1035.6,864.7 L1036.1,866.3 L1036.6,867.8 L1037.1,869.2 L1037.6,870.6 L1038.1,872 L1038.6,873.3 L1039.1,874.6 L1039.6,875.8 L1040.1,877 L1040.6,878.1 L1041.1,879.1 L1041.6,880.1 L1042.1,881 L1042.6,881.9 L1043.1,882.7 L1043.6,883.4 L1044.1,884.1 L1044.6,884.7 L1045.1,885.3 L1045.6,885.8 L1046.1,886.2 L1046.6,886.6 L1047.1,886.8 L1047.6,887.1 L1048.1,887.2 L1048.6,887.3 L1049.1,887.3 L1049.6,887.2 L1050.1,887.1 L1050.6,886.9 L1051.1,886.7 L1051.6,886.3 L1052.1,885.9 L1052.6,885.5 L1053.1,884.9 L1053.6,884.3 L1054.1,883.6 L1054.6,882.9 L1055.1,882 L1055.6,881.2 L1056.1,880.2 L1056.6,879.2 L1057.1,878.1 L1057.6,876.9 L1058.1,875.7 L1058.6,874.4 L1059.1,873.1 L1059.6,871.7 L1060.1,870.2 L1060.6,868.7 L1061.1,867.1 L1061.6,865.4 L1062.1,863.7 L1062.6,862 L1063.1,860.1 L1063.6,858.3 L1064.1,856.3 L1064.6,854.3 L1065.1,852.3 L1065.6,850.2 L1066.1,848.1 L1066.6,845.9 L1067.1,843.7 L1067.6,841.4 L1068.1,839.1 L1068.6,836.8 L1069.1,834.4 L1069.6,832 L1070.1,829.5 L1070.6,827 L1071.1,824.5 L1071.6,822 L1072.1,819.4 L1072.6,816.8 L1073.1,814.2 L1073.6,811.5 L1074.1,808.8 L1074.6,806.2 L1075.1,803.5 L1075.6,800.7 L1076.1,798 L1076.6,795.3 L1077.1,792.5 L1077.6,789.8 L1078.1,787 L1078.6,784.3 L1079.1,781.5 L1079.6,778.8 L1080.1,776.1 L1080.6,773.3 L1081.1,770.6 L1081.6,767.9 L1082.1,765.2 L1082.6,762.5 L1083.1,759.9 L1083.6,757.2 L1084.1,754.6 L1084.6,752 L1085.1,749.4 L1085.6,746.9 L1086.1,744.4 L1086.6,741.9 L1087.1,739.5 L1087.6,737.1 L1088.1,734.7 L1088.6,732.4 L1089.1,730.1 L1089.6,727.8 L1090.1,725.7 L1090.6,723.5 L1091.1,721.4 L1091.6,719.4 L1092.1,717.4 L1092.6,715.5 L1093.1,713.6 L1093.6,711.8 L1094.1,710 L1094.6,708.3 L1095.1,706.7 L1095.6,705.1 L1096.1,703.6 L1096.6,702.2 L1097.1,700.8 L1097.6,699.5 L1098.1,698.3 L1098.6,697.1 L1099.1,696 L1099.6,695 L1100.1,694.1 L1100.6,693.2 L1101.1,692.5 L1101.6,691.8 L1102.1,691.1 L1102.6,690.6 L1103.1,690.1 L1103.6,689.7 L1104.1,689.4 L1104.1,798.7 Z" fill="rgb(0,158,76)" fill-opacity="0.29"/>
<path d="M875.6,770.2 L876.1,770.1 L876.6,770 L877.1,769.9 L877.6,769.8 L878.1,769.8 L878.6,769.7 L879.1,769.7 L879.6,769.8 L880.1,769.8 L880.6,769.9 L881.1,770 L881.6,770.1 L882.1,770.3 L882.6,770.4 L883.1,770.6 L883.6,770.8 L884.1,771.1 L884.6,771.3 L885.1,771.6 L885.6,771.9 L886.1,772.3 L886.6,772.6 L887.1,773 L887.6,773.4 L888.1,773.9 L888.6,774.3 L889.1,774.8 L889.6,775.3 L890.1,775.9 L890.6,776.4 L891.1,777 L891.6,777.6 L892.1,778.2 L892.6,778.8 L893.1,779.5 L893.6,780.2 L894.1,780.9 L894.6,781.6 L895.1,782.3 L895.6,783.1 L896.1,783.9 L896.6,784.7 L897.1,785.5 L897.6,786.3 L898.1,787.2 L898.6,788 L899.1,788.9 L899.6,789.8 L900.1,790.7 L900.6,791.7 L901.1,792.6 L901.6,793.5 L902.1,794.5 L902.6,795.5 L903.1,796.5 L903.6,797.4 L904.1,798.4 L904.6,799.5 L905.1,800.5 L905.6,801.5 L906.1,802.5 L906.6,803.6 L907.1,804.6 L907.6,805.6 L908.1,806.7 L908.6,807.7 L909.1,808.8 L909.6,809.8 L910.1,810.8 L910.6,811.9 L911.1,812.9 L911.6,814 L912.1,815 L912.6,816 L913.1,817 L913.6,818.1 L914.1,819.1 L914.6,820.1 L915.1,821 L915.6,822 L916.1,823 L916.6,823.9 L917.1,824.9 L917.6,825.8 L918.1,826.7 L918.6,827.6 L919.1,828.5 L919.6,829.3 L920.1,830.2 L920.6,831 L921.1,831.8 L921.6,832.6 L922.1,833.3 L922.6,834.1 L923.1,834.8 L923.6,835.5 L924.1,836.2 L924.6,836.8 L925.1,837.4 L925.6,838 L926.1,838.6 L926.6,839.1 L927.1,839.6 L927.6,840.1 L928.1,840.6 L928.6,841 L929.1,841.4 L929.6,841.7 L930.1,842.1 L930.6,842.4 L931.1,842.6 L931.6,842.9 L932.1,843.1 L932.6,843.2 L933.1,843.4 L933.6,843.5 L934.1,843.5 L934.6,843.6 L935.1,843.6 L935.6,843.5 L936.1,843.4 L936.6,843.3 L937.1,843.2 L937.6,843 L938.1,842.7 L938.6,842.5 L939.1,842.2 L939.6,841.9 L940.1,841.5 L940.6,841.1 L941.1,840.6 L941.6,840.2 L942.1,839.7 L942.6,839.1 L943.1,838.5 L943.6,837.9 L944.1,837.3 L944.6,836.6 L945.1,835.9 L945.6,835.1 L946.1,834.4 L946.6,833.6 L947.1,832.7 L947.6,831.9 L948.1,831 L948.6,830 L949.1,829.1 L949.6,828.1 L950.1,827.1 L950.6,826.1 L951.1,825 L951.6,823.9 L952.1,822.8 L952.6,821.7 L953.1,820.5 L953.6,819.4 L954.1,818.2 L954.6,816.9 L955.1,815.7 L955.6,814.5 L956.1,813.2 L956.6,811.9 L957.1,810.6 L957.6,809.3 L958.1,808 L958.6,806.6 L959.1,805.3 L959.6,803.9 L960.1,802.5 L960.6,801.1 L961.1,799.7 L961.6,798.4 L962.1,796.9 L962.6,795.5 L963.1,794.1 L963.6,792.7 L964.1,791.3 L964.6,789.9 L965.1,788.5 L965.6,787.1 L966.1,785.7 L966.6,784.2 L967.1,782.8 L967.6,781.4 L968.1,780.1 L968.6,778.7 L969.1,777.3 L969.6,775.9 L970.1,774.6 L970.6,773.2 L971.1,771.9 L971.6,770.6 L972.1,769.3 L972.6,768 L973.1,766.8 L973.6,765.5 L974.1,764.3 L974.6,763.1 L975.1,761.9 L975.6,760.7 L976.1,759.6 L976.6,758.4 L977.1,757.3 L977.6,756.3 L978.1,755.2 L978.6,754.2 L979.1,753.2 L979.6,752.2 L980.1,751.3 L980.6,750.4 L981.1,749.5 L981.6,748.7 L982.1,747.9 L982.6,747.1 L983.1,746.3 L983.6,745.6 L984.1,745 L984.6,744.3 L985.1,743.7 L985.6,743.2 L986.1,742.6 L986.6,742.1 L987.1,741.7 L987.6,741.3 L988.1,740.9 L988.6,740.6 L989.1,740.3 L989.6,740 L990.1,739.8 L990.6,739.6 L991.1,739.5 L991.6,739.4 L992.1,739.4 L992.6,739.4 L993.1,739.4 L993.6,739.5 L994.1,739.7 L994.6,739.8 L995.1,740.1 L995.6,740.3 L996.1,740.6 L996.6,741 L997.1,741.4 L997.6,741.9 L998.1,742.3 L998.6,742.9 L999.1,743.5 L999.6,744.1 L1000.1,744.8 L1000.6,745.5 L1001.1,746.3 L1001.6,747.1 L1002.1,747.9 L1002.6,748.8 L1003.1,749.8 L1003.6,750.8 L1004.1,751.8 L1004.6,752.9 L1005.1,754 L1005.6,755.2 L1006.1,756.4 L1006.6,757.7 L1007.1,759 L1007.6,760.3 L1008.1,761.7 L1008.6,763.1 L1009.1,764.5 L1009.6,766 L1010.1,767.5 L1010.6,769.1 L1011.1,770.7 L1011.6,772.3 L1012.1,774 L1012.6,775.7 L1013.1,777.4 L1013.6,779.2 L1014.1,781 L1014.6,782.8 L1015.1,784.6 L1015.6,786.5 L1016.1,788.4 L1016.6,790.3 L1017.1,792.3 L1017.6,794.2 L1018.1,796.2 L1018.6,798.2 L1019.1,800.2 L1019.6,802.2 L1020.1,804.3 L1020.6,806.3 L1021.1,808.4 L1021.6,810.5 L1022.1,812.5 L1022.6,814.6 L1023.1,816.7 L1023.6,818.8 L1024.1,820.9 L1024.6,822.9 L1025.1,825 L1025.6,827.1 L1026.1,829.2 L1026.6,831.2 L1027.1,833.3 L1027.6,835.3 L1028.1,837.3 L1028.6,839.3 L1029.1,841.3 L1029.6,843.3 L1030.1,845.2 L1030.6,847.2 L1031.1,849 L1031.6,850.9 L1032.1,852.8 L1032.6,854.6 L1033.1,856.4 L1033.6,858.1 L1034.1,859.8 L1034.6,861.5 L1035.1,863.1 L1035.6,864.7 L1036.1,866.3 L1036.6,867.8 L1037.1,869.2 L1037.6,870.6 L1038.1,872 L1038.6,873.3 L1039.1,874.6 L1039.6,875.8 L1040.1,877 L1040.6,878.1 L1041.1,879.1 L1041.6,880.1 L1042.1,881 L1042.6,881.9 L1043.1,882.7 L1043.6,883.4 L1044.1,884.1 L1044.6,884.7 L1045.1,885.3 L1045.6,885.8 L1046.1,886.2 L1046.6,886.6 L1047.1,886.8 L1047.6,887.1 L1048.1,887.2 L1048.6,887.3 L1049.1,887.3 L1049.6,887.2 L1050.1,887.1 L1050.6,886.9 L1051.1,886.7 L1051.6,886.3 L1052.1,885.9 L1052.6,885.5 L1053.1,884.9 L1053.6,884.3 L1054.1,883.6 L1054.6,882.9 L1055.1,882 L1055.6,881.2 L1056.1,880.2 L1056.6,879.2 L1057.1,878.1 L1057.6,876.9 L1058.1,875.7 L1058.6,874.4 L1059.1,873.1 L1059.6,871.7 L1060.1,870.2 L1060.6,868.7 L1061.1,867.1 L1061.6,865.4 L1062.1,863.7 L1062.6,862 L1063.1,860.1 L1063.6,858.3 L1064.1,856.3 L1064.6,854.3 L1065.1,852.3 L1065.6,850.2 L1066.1,848.1 L1066.6,845.9 L1067.1,843.7 L1067.6,841.4 L1068.1,839.1 L1068.6,836.8 L1069.1,834.4 L1069.6,832 L1070.1,829.5 L1070.6,827 L1071.1,824.5 L1071.6,822 L1072.1,819.4 L1072.6,816.8 L1073.1,814.2 L1073.6,811.5 L1074.1,808.8 L1074.6,806.2 L1075.1,803.5 L1075.6,800.7 L1076.1,798 L1076.6,795.3 L1077.1,792.5 L1077.6,789.8 L1078.1,787 L1078.6,784.3 L1079.1,781.5 L1079.6,778.8 L1080.1,776.1 L1080.6,773.3 L1081.1,770.6 L1081.6,767.9 L1082.1,765.2 L1082.6,762.5 L1083.1,759.9 L1083.6,757.2 L1084.1,754.6 L1084.6,752 L1085.1,749.4 L1085.6,746.9 L1086.1,744.4 L1086.6,741.9 L1087.1,739.5 L1087.6,737.1 L1088.1,734.7 L1088.6,732.4 L1089.1,730.1 L1089.6,727.8 L1090.1,725.7 L1090.6,723.5 L1091.1,721.4 L1091.6,719.4 L1092.1,717.4 L1092.6,715.5 L1093.1,713.6 L1093.6,711.8 L1094.1,710 L1094.6,708.3 L1095.1,706.7 L1095.6,705.1 L1096.1,703.6 L1096.6,702.2 L1097.1,700.8 L1097.6,699.5 L1098.1,698.3 L1098.6,697.1 L1099.1,696 L1099.6,695 L1100.1,694.1 L1100.6,693.2 L1101.1,692.5 L1101.6,691.8 L1102.1,691.1 L1102.6,690.6 L1103.1,690.1 L1103.6,689.7 L1104.1,689.4" fill="none" stroke="#231f20" stroke-width="3.6" stroke-dasharray="6.5 3.2"/>
<path d="M1126.8,798.7 L1126.8,689.4 L1127.3,689.4 L1127.8,689.4 L1128.3,689.5 L1128.8,689.6 L1129.3,689.7 L1129.8,689.8 L1130.3,689.9 L1130.8,690.1 L1131.3,690.2 L1131.8,690.4 L1132.3,690.6 L1132.8,690.9 L1133.3,691.1 L1133.8,691.4 L1134.3,691.7 L1134.8,692 L1135.3,692.4 L1135.8,692.7 L1136.3,693.1 L1136.8,693.5 L1137.3,693.9 L1137.8,694.3 L1138.3,694.8 L1138.8,695.3 L1139.3,695.8 L1139.8,696.3 L1140.3,696.8 L1140.8,697.4 L1141.3,697.9 L1141.8,698.5 L1142.3,699.1 L1142.8,699.8 L1143.3,700.4 L1143.8,701.1 L1144.3,701.8 L1144.8,702.5 L1145.3,703.2 L1145.8,703.9 L1146.3,704.7 L1146.8,705.5 L1147.3,706.3 L1147.8,707.1 L1148.3,707.9 L1148.8,708.7 L1149.3,709.6 L1149.8,710.5 L1150.3,711.4 L1150.8,712.3 L1151.3,713.2 L1151.8,714.1 L1152.3,715.1 L1152.8,716.1 L1153.3,717.1 L1153.8,718.1 L1154.3,719.1 L1154.8,720.1 L1155.3,721.2 L1155.8,722.2 L1156.3,723.3 L1156.8,724.4 L1157.3,725.5 L1157.8,726.6 L1158.3,727.8 L1158.8,728.9 L1159.3,730.1 L1159.8,731.3 L1160.3,732.4 L1160.8,733.6 L1161.3,734.9 L1161.8,736.1 L1162.3,737.3 L1162.8,738.6 L1163.3,739.8 L1163.8,741.1 L1164.3,742.4 L1164.8,743.7 L1165.3,745 L1165.8,746.3 L1166.3,747.6 L1166.8,748.9 L1167.3,750.3 L1167.8,751.6 L1168.3,753 L1168.8,754.3 L1169.3,755.7 L1169.8,757.1 L1170.3,758.5 L1170.8,759.9 L1171.3,761.3 L1171.8,762.7 L1172.3,764.1 L1172.8,765.5 L1173.3,767 L1173.8,768.4 L1174.3,769.9 L1174.8,771.3 L1175.3,772.8 L1175.8,774.2 L1176.3,775.7 L1176.8,777.2 L1177.3,778.6 L1177.8,780.1 L1178.3,781.6 L1178.8,783.1 L1179.3,784.6 L1179.8,786 L1180.3,787.5 L1180.8,789 L1181.3,790.5 L1181.8,792 L1182.3,793.5 L1182.8,795 L1183.3,796.5 L1183.8,798 L1183.8,798.7 Z" fill="#f9f9f9"/>
<path d="M1184.3,798.7 L1184.3,799.5 L1184.8,801 L1185.3,802.5 L1185.8,804 L1186.3,805.5 L1186.8,807 L1187.3,808.5 L1187.8,810 L1188.3,811.5 L1188.8,813 L1189.3,814.5 L1189.8,815.9 L1190.3,817.4 L1190.8,818.9 L1191.3,820.4 L1191.8,821.8 L1192.3,823.3 L1192.8,824.8 L1193.3,826.2 L1193.8,827.7 L1194.3,829.1 L1194.8,830.6 L1195.3,832 L1195.8,833.4 L1196.3,834.8 L1196.8,836.2 L1197.3,837.6 L1197.8,839 L1198.3,840.4 L1198.8,841.8 L1199.3,843.2 L1199.8,844.6 L1200.3,845.9 L1200.8,847.3 L1201.3,848.6 L1201.8,849.9 L1202.3,851.3 L1202.8,852.6 L1203.3,853.9 L1203.8,855.2 L1204.3,856.4 L1204.8,857.7 L1205.3,859 L1205.8,860.2 L1206.3,861.4 L1206.8,862.7 L1207.3,863.9 L1207.8,865.1 L1208.3,866.3 L1208.8,867.4 L1209.3,868.6 L1209.8,869.7 L1210.3,870.9 L1210.8,872 L1211.3,873.1 L1211.8,874.2 L1212.3,875.3 L1212.8,876.3 L1213.3,877.4 L1213.8,878.4 L1214.3,879.4 L1214.8,880.4 L1215.3,881.4 L1215.8,882.4 L1216.3,883.3 L1216.8,884.3 L1217.3,885.2 L1217.8,886.1 L1218.3,887 L1218.8,887.9 L1219.3,888.7 L1219.8,889.6 L1220.3,890.4 L1220.8,891.2 L1221.3,892 L1221.8,892.8 L1222.3,893.5 L1222.8,894.3 L1223.3,895 L1223.8,895.7 L1224.3,896.4 L1224.8,897 L1225.3,897.7 L1225.8,898.3 L1226.3,898.9 L1226.8,899.5 L1227.3,900.1 L1227.8,900.6 L1228.3,901.2 L1228.8,901.7 L1229.3,902.2 L1229.8,902.6 L1230.3,903.1 L1230.8,903.5 L1231.3,903.9 L1231.8,904.3 L1232.3,904.7 L1232.8,905.1 L1233.3,905.4 L1233.8,905.7 L1234.3,906 L1234.8,906.3 L1235.3,906.5 L1235.8,906.8 L1236.3,907 L1236.8,907.2 L1237.3,907.4 L1237.8,907.5 L1238.3,907.6 L1238.8,907.8 L1239.3,907.8 L1239.8,907.9 L1240.3,908 L1240.8,908 L1241.3,908 L1241.8,908 L1242.3,908 L1242.8,907.9 L1243.3,907.8 L1243.8,907.7 L1244.3,907.6 L1244.8,907.5 L1245.3,907.3 L1245.8,907.2 L1246.3,907 L1246.8,906.7 L1247.3,906.5 L1247.8,906.2 L1248.3,906 L1248.8,905.7 L1249.3,905.3 L1249.8,905 L1250.3,904.6 L1250.8,904.3 L1251.3,903.9 L1251.8,903.5 L1252.3,903 L1252.8,902.6 L1253.3,902.1 L1253.8,901.6 L1254.3,901.1 L1254.8,900.5 L1255.3,900 L1255.8,899.4 L1256.3,898.8 L1256.8,898.2 L1257.3,897.6 L1257.8,896.9 L1258.3,896.3 L1258.8,895.6 L1259.3,894.9 L1259.8,894.1 L1260.3,893.4 L1260.8,892.6 L1261.3,891.9 L1261.8,891.1 L1262.3,890.3 L1262.8,889.4 L1263.3,888.6 L1263.8,887.7 L1264.3,886.9 L1264.8,886 L1265.3,885 L1265.8,884.1 L1266.3,883.2 L1266.8,882.2 L1267.3,881.2 L1267.8,880.2 L1268.3,879.2 L1268.8,878.2 L1269.3,877.2 L1269.8,876.1 L1270.3,875.1 L1270.8,874 L1271.3,872.9 L1271.8,871.8 L1272.3,870.7 L1272.8,869.5 L1273.3,868.4 L1273.8,867.2 L1274.3,866 L1274.8,864.8 L1275.3,863.6 L1275.8,862.4 L1276.3,861.2 L1276.8,860 L1277.3,858.7 L1277.8,857.5 L1278.3,856.2 L1278.8,854.9 L1279.3,853.6 L1279.8,852.3 L1280.3,851 L1280.8,849.7 L1281.3,848.4 L1281.8,847 L1282.3,845.7 L1282.8,844.3 L1283.3,842.9 L1283.8,841.6 L1284.3,840.2 L1284.8,838.8 L1285.3,837.4 L1285.8,836 L1286.3,834.6 L1286.8,833.1 L1287.3,831.7 L1287.8,830.3 L1288.3,828.9 L1288.8,827.4 L1289.3,826 L1289.8,824.5 L1290.3,823 L1290.8,821.6 L1291.3,820.1 L1291.8,818.6 L1292.3,817.2 L1292.8,815.7 L1293.3,814.2 L1293.8,812.7 L1294.3,811.2 L1294.8,809.7 L1295.3,808.2 L1295.8,806.7 L1296.3,805.2 L1296.8,803.7 L1297.3,802.2 L1297.8,800.7 L1298.3,799.2 L1298.3,798.7 Z" fill="#80d3a8"/>
<path d="M1298.8,798.7 L1298.8,797.7 L1299.3,796.2 L1299.8,794.7 L1300.3,793.2 L1300.8,791.7 L1301.3,790.3 L1301.8,788.8 L1302.3,787.3 L1302.8,785.8 L1303.3,784.3 L1303.8,782.8 L1304.3,781.3 L1304.8,779.8 L1305.3,778.4 L1305.8,776.9 L1306.3,775.4 L1306.8,774 L1307.3,772.5 L1307.8,771 L1308.3,769.6 L1308.8,768.2 L1309.3,766.7 L1309.8,765.3 L1310.3,763.9 L1310.8,762.4 L1311.3,761 L1311.8,759.6 L1312.3,758.2 L1312.8,756.8 L1313.3,755.5 L1313.8,754.1 L1314.3,752.7 L1314.8,751.4 L1315.3,750 L1315.8,748.7 L1316.3,747.3 L1316.8,746 L1317.3,744.7 L1317.8,743.4 L1318.3,742.1 L1318.8,740.9 L1319.3,739.6 L1319.8,738.3 L1320.3,737.1 L1320.8,735.9 L1321.3,734.6 L1321.8,733.4 L1322.3,732.2 L1322.8,731 L1323.3,729.9 L1323.8,728.7 L1324.3,727.6 L1324.8,726.4 L1325.3,725.3 L1325.8,724.2 L1326.3,723.1 L1326.8,722 L1327.3,721 L1327.8,719.9 L1328.3,718.9 L1328.8,717.9 L1329.3,716.9 L1329.8,715.9 L1330.3,714.9 L1330.8,714 L1331.3,713 L1331.8,712.1 L1332.3,711.2 L1332.8,710.3 L1333.3,709.4 L1333.8,708.6 L1334.3,707.7 L1334.8,706.9 L1335.3,706.1 L1335.8,705.3 L1336.3,704.5 L1336.8,703.8 L1337.3,703.1 L1337.8,702.3 L1338.3,701.6 L1338.8,701 L1339.3,700.3 L1339.8,699.7 L1340.3,699 L1340.8,698.4 L1341.3,697.8 L1341.8,697.3 L1342.3,696.7 L1342.8,696.2 L1343.3,695.7 L1343.8,695.2 L1344.3,694.7 L1344.8,694.3 L1345.3,693.8 L1345.8,693.4 L1346.3,693 L1346.8,692.7 L1347.3,692.3 L1347.8,692 L1348.3,691.7 L1348.8,691.4 L1349.3,691.1 L1349.8,690.8 L1350.3,690.6 L1350.8,690.4 L1351.3,690.2 L1351.8,690 L1352.3,689.9 L1352.8,689.7 L1353.3,689.6 L1353.8,689.6 L1354.3,689.5 L1354.8,689.4 L1355.3,689.4 L1355.8,689.4 L1356.3,689.4 L1356.8,689.4 L1357.3,689.5 L1357.8,689.6 L1358.3,689.7 L1358.8,689.8 L1359.3,689.9 L1359.8,690.1 L1360.3,690.3 L1360.8,690.5 L1361.3,690.7 L1361.8,690.9 L1362.3,691.2 L1362.8,691.5 L1363.3,691.8 L1363.8,692.1 L1364.3,692.4 L1364.8,692.8 L1365.3,693.2 L1365.8,693.6 L1366.3,694 L1366.8,694.4 L1367.3,694.9 L1367.8,695.4 L1368.3,695.9 L1368.8,696.4 L1369.3,696.9 L1369.8,697.5 L1370.3,698 L1370.8,698.6 L1371.3,699.3 L1371.8,699.9 L1372.3,700.5 L1372.8,701.2 L1373.3,701.9 L1373.8,702.6 L1374.3,703.3 L1374.8,704.1 L1375.3,704.8 L1375.8,705.6 L1376.3,706.4 L1376.8,707.2 L1377.3,708 L1377.8,708.9 L1378.3,709.7 L1378.8,710.6 L1379.3,711.5 L1379.8,712.4 L1380.3,713.4 L1380.8,714.3 L1381.3,715.3 L1381.8,716.3 L1382.3,717.2 L1382.8,718.3 L1383.3,719.3 L1383.8,720.3 L1384.3,721.4 L1384.8,722.4 L1385.3,723.5 L1385.8,724.6 L1386.3,725.7 L1386.8,726.8 L1387.3,728 L1387.8,729.1 L1388.3,730.3 L1388.8,731.5 L1389.3,732.7 L1389.8,733.9 L1390.3,735.1 L1390.8,736.3 L1391.3,737.5 L1391.8,738.8 L1392.3,740 L1392.8,741.3 L1393.3,742.6 L1393.8,743.9 L1394.3,745.2 L1394.8,746.5 L1395.3,747.8 L1395.8,749.2 L1396.3,750.5 L1396.8,751.9 L1397.3,753.2 L1397.8,754.6 L1398.3,756 L1398.8,757.3 L1399.3,758.7 L1399.8,760.1 L1400.3,761.5 L1400.8,763 L1401.3,764.4 L1401.8,765.8 L1402.3,767.2 L1402.8,768.7 L1403.3,770.1 L1403.8,771.6 L1404.3,773 L1404.8,774.5 L1405.3,776 L1405.8,777.4 L1406.3,778.9 L1406.8,780.4 L1407.3,781.9 L1407.8,783.3 L1408.3,784.8 L1408.8,786.3 L1409.3,787.8 L1409.8,789.3 L1410.3,790.8 L1410.8,792.3 L1411.3,793.8 L1411.8,795.3 L1412.3,796.8 L1412.8,798.3 L1412.8,798.7 Z" fill="#fcd18e"/>
<path d="M1413.3,798.7 L1413.3,799.8 L1413.8,801.3 L1414.3,802.8 L1414.8,804.3 L1415.3,805.8 L1415.8,807.3 L1416.3,808.8 L1416.8,810.3 L1417.3,811.8 L1417.8,813.2 L1418.3,814.7 L1418.8,816.2 L1419.3,817.7 L1419.8,819.2 L1420.3,820.6 L1420.8,822.1 L1421.3,823.6 L1421.8,825 L1422.3,826.5 L1422.8,827.9 L1423.3,829.4 L1423.8,830.8 L1424.3,832.2 L1424.8,833.7 L1425.3,835.1 L1425.8,836.5 L1426.3,837.9 L1426.8,839.3 L1427.3,840.7 L1427.8,842.1 L1428.3,843.4 L1428.8,844.8 L1429.3,846.2 L1429.8,847.5 L1430.3,848.8 L1430.8,850.2 L1431.3,851.5 L1431.8,852.8 L1432.3,854.1 L1432.8,855.4 L1433.3,856.7 L1433.8,857.9 L1434.3,859.2 L1434.8,860.4 L1435.3,861.7 L1435.8,862.9 L1436.3,864.1 L1436.8,865.3 L1437.3,866.5 L1437.8,867.6 L1438.3,868.8 L1438.8,869.9 L1439.3,871.1 L1439.8,872.2 L1440.3,873.3 L1440.8,874.4 L1441.3,875.5 L1441.8,876.5 L1442.3,877.6 L1442.8,878.6 L1443.3,879.6 L1443.8,880.6 L1444.3,881.6 L1444.8,882.6 L1445.3,883.5 L1445.8,884.5 L1446.3,885.4 L1446.8,886.3 L1447.3,887.2 L1447.8,888 L1448.3,888.9 L1448.8,889.7 L1449.3,890.6 L1449.8,891.4 L1450.3,892.2 L1450.8,892.9 L1451.3,893.7 L1451.8,894.4 L1452.3,895.1 L1452.8,895.8 L1453.3,896.5 L1453.8,897.2 L1454.3,897.8 L1454.8,898.4 L1455.3,899 L1455.8,899.6 L1456.3,900.2 L1456.8,900.7 L1457.3,901.3 L1457.8,901.8 L1458.3,902.3 L1458.8,902.7 L1459.3,903.2 L1459.8,903.6 L1460.3,904 L1460.8,904.4 L1461.3,904.8 L1461.8,905.1 L1462.3,905.5 L1462.8,905.8 L1463.3,906.1 L1463.8,906.3 L1464.3,906.6 L1464.8,906.8 L1465.3,907 L1465.8,907.2 L1466.3,907.4 L1466.8,907.5 L1467.3,907.7 L1467.8,907.8 L1468.3,907.9 L1468.8,907.9 L1469.3,908 L1469.8,908 L1470.3,908 L1470.8,908 L1471.3,907.9 L1471.8,907.9 L1472.3,907.8 L1472.8,907.7 L1473.3,907.6 L1473.8,907.5 L1474.3,907.3 L1474.8,907.1 L1475.3,906.9 L1475.8,906.7 L1476.3,906.5 L1476.8,906.2 L1477.3,905.9 L1477.8,905.6 L1478.3,905.3 L1478.8,904.9 L1479.3,904.6 L1479.8,904.2 L1480.3,903.8 L1480.8,903.4 L1481.3,902.9 L1481.8,902.5 L1482.3,902 L1482.8,901.5 L1483.3,901 L1483.8,900.4 L1484.3,899.9 L1484.8,899.3 L1485.3,898.7 L1485.8,898.1 L1486.3,897.5 L1486.8,896.8 L1487.3,896.1 L1487.8,895.4 L1488.3,894.7 L1488.8,894 L1489.3,893.3 L1489.8,892.5 L1490.3,891.7 L1490.8,890.9 L1491.3,890.1 L1491.8,889.3 L1492.3,888.4 L1492.8,887.6 L1493.3,886.7 L1493.8,885.8 L1494.3,884.9 L1494.8,883.9 L1495.3,883 L1495.8,882 L1496.3,881.1 L1496.8,880.1 L1497.3,879.1 L1497.8,878 L1498.3,877 L1498.8,875.9 L1499.3,874.9 L1499.8,873.8 L1500.3,872.7 L1500.8,871.6 L1501.3,870.5 L1501.8,869.3 L1502.3,868.2 L1502.8,867 L1503.3,865.8 L1503.8,864.6 L1504.3,863.4 L1504.8,862.2 L1505.3,861 L1505.8,859.7 L1506.3,858.5 L1506.8,857.2 L1507.3,856 L1507.8,854.7 L1508.3,853.4 L1508.8,852.1 L1509.3,850.8 L1509.8,849.4 L1510.3,848.1 L1510.8,846.8 L1511.3,845.4 L1511.8,844.1 L1512.3,842.7 L1512.8,841.3 L1513.3,839.9 L1513.8,838.5 L1514.3,837.1 L1514.8,835.7 L1515.3,834.3 L1515.8,832.9 L1516.3,831.5 L1516.8,830 L1517.3,828.6 L1517.8,827.1 L1518.3,825.7 L1518.8,824.2 L1519.3,822.8 L1519.8,821.3 L1520.3,819.8 L1520.8,818.4 L1521.3,816.9 L1521.8,815.4 L1522.3,813.9 L1522.8,812.4 L1523.3,810.9 L1523.8,809.5 L1524.3,808 L1524.8,806.5 L1525.3,805 L1525.8,803.5 L1526.3,802 L1526.8,800.5 L1527.3,799 L1527.3,798.7 Z" fill="#80d3a8"/>
<path d="M1527.8,798.7 L1527.8,797.5 L1528.3,796 L1528.8,794.5 L1529.3,793 L1529.8,791.5 L1530.3,790 L1530.8,788.5 L1531.3,787 L1531.8,785.5 L1532.3,784 L1532.8,782.5 L1533.3,781 L1533.8,779.6 L1534.3,778.1 L1534.8,776.6 L1535.3,775.2 L1535.8,773.7 L1536.3,772.2 L1536.8,770.8 L1537.3,769.3 L1537.8,767.9 L1538.3,766.5 L1538.8,765 L1539.3,763.6 L1539.8,762.2 L1540.3,760.8 L1540.8,759.4 L1541.3,758 L1541.8,756.6 L1542.3,755.2 L1542.8,753.8 L1543.3,752.5 L1543.8,751.1 L1544.3,749.8 L1544.8,748.4 L1545.3,747.1 L1545.8,745.8 L1546.3,744.5 L1546.8,743.2 L1547.3,741.9 L1547.8,740.6 L1548.3,739.4 L1548.8,738.1 L1549.3,736.9 L1549.8,735.6 L1550.3,734.4 L1550.8,733.2 L1551.3,732 L1551.8,730.8 L1552.3,729.7 L1552.8,728.5 L1553.3,727.4 L1553.8,726.2 L1554.3,725.1 L1554.8,724 L1555.3,722.9 L1555.8,721.8 L1556.3,720.8 L1556.8,719.7 L1557.3,718.7 L1557.8,717.7 L1558.3,716.7 L1558.8,715.7 L1559.3,714.7 L1559.8,713.8 L1560.3,712.9 L1560.8,711.9 L1561.3,711 L1561.8,710.1 L1562.3,709.3 L1562.8,708.4 L1563.3,707.6 L1563.8,706.8 L1564.3,706 L1564.8,705.2 L1565.3,704.4 L1565.8,703.7 L1566.3,702.9 L1566.8,702.2 L1567.3,701.5 L1567.8,700.8 L1568.3,700.2 L1568.8,699.5 L1569.3,698.9 L1569.8,698.3 L1570.3,697.7 L1570.8,697.2 L1571.3,696.6 L1571.8,696.1 L1572.3,695.6 L1572.8,695.1 L1573.3,694.6 L1573.8,694.2 L1574.3,693.8 L1574.8,693.3 L1575.3,693 L1575.8,692.6 L1576.3,692.2 L1576.8,691.9 L1577.3,691.6 L1577.8,691.3 L1578.3,691 L1578.8,690.8 L1579.3,690.6 L1579.8,690.4 L1580.3,690.2 L1580.8,690 L1581.3,689.9 L1581.8,689.7 L1582.3,689.6 L1582.8,689.5 L1583.3,689.5 L1583.8,689.4 L1584.3,689.4 L1584.8,689.4 L1585.3,689.4 L1585.8,689.5 L1586.3,689.5 L1586.8,689.6 L1587.3,689.7 L1587.8,689.8 L1588.3,690 L1588.8,690.1 L1589.3,690.3 L1589.8,690.5 L1590.3,690.7 L1590.8,691 L1591.3,691.2 L1591.8,691.5 L1592.3,691.8 L1592.8,692.1 L1593.3,692.5 L1593.8,692.9 L1594.3,693.2 L1594.8,693.6 L1595.3,694.1 L1595.8,694.5 L1596.3,695 L1596.8,695.5 L1597.3,696 L1597.8,696.5 L1598.3,697 L1598.8,697.6 L1599.3,698.2 L1599.8,698.8 L1600.3,699.4 L1600.8,700 L1601.3,700.7 L1601.8,701.3 L1602.3,702 L1602.8,702.7 L1603.3,703.5 L1603.8,704.2 L1604.3,705 L1604.8,705.7 L1605.3,706.5 L1605.8,707.4 L1606.3,708.2 L1606.8,709 L1607.3,709.9 L1607.8,710.8 L1608.3,711.7 L1608.8,712.6 L1609.3,713.5 L1609.8,714.5 L1610.3,715.5 L1610.8,716.4 L1611.3,717.4 L1611.8,718.4 L1612.3,719.5 L1612.8,720.5 L1613.3,721.6 L1613.8,722.6 L1614.3,723.7 L1614.8,724.8 L1615.3,725.9 L1615.8,727 L1616.3,728.2 L1616.8,729.3 L1617.3,730.5 L1617.8,731.7 L1618.3,732.9 L1618.8,734.1 L1619.3,735.3 L1619.8,736.5 L1620.3,737.8 L1620.8,739 L1621.3,740.3 L1621.8,741.6 L1622.3,742.8 L1622.8,744.1 L1623.3,745.4 L1623.8,746.7 L1624.3,748.1 L1624.8,749.4 L1625.3,750.8 L1625.8,752.1 L1626.3,753.5 L1626.8,754.8 L1627.3,756.2 L1627.8,757.6 L1628.3,759 L1628.8,760.4 L1629.3,761.8 L1629.8,763.2 L1630.3,764.6 L1630.8,766.1 L1631.3,767.5 L1631.8,768.9 L1632.3,770.4 L1632.8,771.8 L1633.3,773.3 L1633.8,774.8 L1634.3,776.2 L1634.8,777.7 L1635.3,779.2 L1635.8,780.6 L1636.3,782.1 L1636.8,783.6 L1637.3,785.1 L1637.8,786.6 L1638.3,788.1 L1638.8,789.6 L1639.3,791.1 L1639.8,792.6 L1640.3,794.1 L1640.8,795.6 L1641.3,797.1 L1641.8,798.6 L1641.8,798.7 Z" fill="#fcd18e"/>
<path d="M1642.3,798.7 L1642.3,800.1 L1642.8,801.6 L1643.3,803.1 L1643.8,804.6 L1644.3,806.1 L1644.8,807.6 L1645.3,809 L1645.8,810.5 L1646.3,812 L1646.8,813.5 L1647.3,815 L1647.8,816.5 L1648.3,818 L1648.8,819.4 L1649.3,820.9 L1649.8,822.4 L1650.3,823.8 L1650.8,825.3 L1651.3,826.7 L1651.8,828.2 L1652.3,829.6 L1652.8,831.1 L1653.3,832.5 L1653.8,833.9 L1654.3,835.3 L1654.8,836.8 L1655.3,838.2 L1655.8,839.5 L1656.3,840.9 L1656.8,842.3 L1657.3,843.7 L1657.8,845.1 L1658.3,846.4 L1658.8,847.7 L1659.3,849.1 L1659.8,850.4 L1660.3,851.7 L1660.8,853 L1661.3,854.3 L1661.8,855.6 L1662.3,856.9 L1662.8,858.2 L1663.3,859.4 L1663.8,860.7 L1664.3,861.9 L1664.8,863.1 L1665.3,864.3 L1665.8,865.5 L1666.3,866.7 L1666.8,867.8 L1667.3,869 L1667.8,870.1 L1668.3,871.3 L1668.8,872.4 L1669.3,873.5 L1669.8,874.6 L1670.3,875.6 L1670.8,876.7 L1671.3,877.7 L1671.8,878.8 L1672.3,879.8 L1672.8,880.8 L1673.3,881.8 L1673.8,882.7 L1674.3,883.7 L1674.8,884.6 L1675.3,885.5 L1675.8,886.4 L1676.3,887.3 L1676.8,888.2 L1677.3,889.1 L1677.8,889.9 L1678.3,890.7 L1678.8,891.5 L1679.3,892.3 L1679.8,893.1 L1680.3,893.8 L1680.8,894.5 L1681.3,895.3 L1681.8,895.9 L1682.3,896.6 L1682.8,897.3 L1683.3,897.9 L1683.8,898.5 L1684.3,899.1 L1684.8,899.7 L1685.3,900.3 L1685.8,900.8 L1686.3,901.4 L1686.8,901.9 L1687.3,902.3 L1687.8,902.8 L1688.3,903.3 L1688.8,903.7 L1689.3,904.1 L1689.8,904.5 L1690.3,904.8 L1690.8,905.2 L1691.3,905.5 L1691.8,905.8 L1692.3,906.1 L1692.8,906.4 L1693.3,906.6 L1693.8,906.9 L1694.3,907.1 L1694.8,907.2 L1695.3,907.4 L1695.8,907.6 L1696.3,907.7 L1696.8,907.8 L1697.3,907.9 L1697.8,907.9 L1698.3,908 L1698.8,908 L1699.3,908 L1699.8,908 L1700.3,907.9 L1700.8,907.9 L1701.3,907.8 L1701.8,907.7 L1702.3,907.6 L1702.8,907.4 L1703.3,907.3 L1703.8,907.1 L1704.3,906.9 L1704.8,906.7 L1705.3,906.4 L1705.8,906.1 L1706.3,905.9 L1706.8,905.6 L1707.3,905.2 L1707.8,904.9 L1708.3,904.5 L1708.8,904.1 L1709.3,903.7 L1709.8,903.3 L1710.3,902.9 L1710.8,902.4 L1711.3,901.9 L1711.8,901.4 L1712.3,900.9 L1712.8,900.3 L1713.3,899.8 L1713.8,899.2 L1714.3,898.6 L1714.8,898 L1715.3,897.3 L1715.8,896.7 L1716.3,896 L1716.8,895.3 L1717.3,894.6 L1717.8,893.9 L1718.3,893.1 L1718.8,892.4 L1719.3,891.6 L1719.8,890.8 L1720.3,890 L1720.8,889.1 L1721.3,888.3 L1721.8,887.4 L1722.3,886.5 L1722.8,885.6 L1723.3,884.7 L1723.8,883.8 L1724.3,882.8 L1724.8,881.9 L1725.3,880.9 L1725.8,879.9 L1726.3,878.9 L1726.8,877.8 L1727.3,876.8 L1727.8,875.7 L1728.3,874.7 L1728.8,873.6 L1729.3,872.5 L1729.8,871.4 L1730.3,870.2 L1730.8,869.1 L1731.3,868 L1731.8,866.8 L1732.3,865.6 L1732.8,864.4 L1733.3,863.2 L1733.8,862 L1734.3,860.8 L1734.8,859.5 L1735.3,858.3 L1735.8,857 L1736.3,855.7 L1736.8,854.4 L1737.3,853.2 L1737.8,851.8 L1738.3,850.5 L1738.8,849.2 L1739.3,847.9 L1739.8,846.5 L1740.3,845.2 L1740.8,843.8 L1741.3,842.4 L1741.8,841.1 L1742.3,839.7 L1742.8,838.3 L1743.3,836.9 L1743.8,835.5 L1744.3,834.1 L1744.8,832.6 L1745.3,831.2 L1745.8,829.8 L1746.3,828.3 L1746.8,826.9 L1747.3,825.4 L1747.8,824 L1748.3,822.5 L1748.8,821 L1749.3,819.6 L1749.8,818.1 L1750.3,816.6 L1750.8,815.1 L1751.3,813.7 L1751.8,812.2 L1752.3,810.7 L1752.8,809.2 L1753.3,807.7 L1753.8,806.2 L1754.3,804.7 L1754.8,803.2 L1755.3,801.7 L1755.8,800.2 L1756.3,798.7 L1756.3,798.7 Z" fill="#80d3a8"/>
<line x1="1127" y1="798.7" x2="1756.3" y2="798.7" stroke="#231f20" stroke-width="1.8" stroke-dasharray="3.4 2.2"/>
<path d="M1126.8,689.4 L1127.3,689.4 L1127.8,689.4 L1128.3,689.5 L1128.8,689.6 L1129.3,689.7 L1129.8,689.8 L1130.3,689.9 L1130.8,690.1 L1131.3,690.2 L1131.8,690.4 L1132.3,690.6 L1132.8,690.9 L1133.3,691.1 L1133.8,691.4 L1134.3,691.7 L1134.8,692 L1135.3,692.4 L1135.8,692.7 L1136.3,693.1 L1136.8,693.5 L1137.3,693.9 L1137.8,694.3 L1138.3,694.8 L1138.8,695.3 L1139.3,695.8 L1139.8,696.3 L1140.3,696.8 L1140.8,697.4 L1141.3,697.9 L1141.8,698.5 L1142.3,699.1 L1142.8,699.8 L1143.3,700.4 L1143.8,701.1 L1144.3,701.8 L1144.8,702.5 L1145.3,703.2 L1145.8,703.9 L1146.3,704.7 L1146.8,705.5 L1147.3,706.3 L1147.8,707.1 L1148.3,707.9 L1148.8,708.7 L1149.3,709.6 L1149.8,710.5 L1150.3,711.4 L1150.8,712.3 L1151.3,713.2 L1151.8,714.1 L1152.3,715.1 L1152.8,716.1 L1153.3,717.1 L1153.8,718.1 L1154.3,719.1 L1154.8,720.1 L1155.3,721.2 L1155.8,722.2 L1156.3,723.3 L1156.8,724.4 L1157.3,725.5 L1157.8,726.6 L1158.3,727.8 L1158.8,728.9 L1159.3,730.1 L1159.8,731.3 L1160.3,732.4 L1160.8,733.6 L1161.3,734.9 L1161.8,736.1 L1162.3,737.3 L1162.8,738.6 L1163.3,739.8 L1163.8,741.1 L1164.3,742.4 L1164.8,743.7 L1165.3,745 L1165.8,746.3 L1166.3,747.6 L1166.8,748.9 L1167.3,750.3 L1167.8,751.6 L1168.3,753 L1168.8,754.3 L1169.3,755.7 L1169.8,757.1 L1170.3,758.5 L1170.8,759.9 L1171.3,761.3 L1171.8,762.7 L1172.3,764.1 L1172.8,765.5 L1173.3,767 L1173.8,768.4 L1174.3,769.9 L1174.8,771.3 L1175.3,772.8 L1175.8,774.2 L1176.3,775.7 L1176.8,777.2 L1177.3,778.6 L1177.8,780.1 L1178.3,781.6 L1178.8,783.1 L1179.3,784.6 L1179.8,786 L1180.3,787.5 L1180.8,789 L1181.3,790.5 L1181.8,792 L1182.3,793.5 L1182.8,795 L1183.3,796.5 L1183.8,798 L1184.3,799.5 L1184.8,801 L1185.3,802.5 L1185.8,804 L1186.3,805.5 L1186.8,807 L1187.3,808.5 L1187.8,810 L1188.3,811.5 L1188.8,813 L1189.3,814.5 L1189.8,815.9 L1190.3,817.4 L1190.8,818.9 L1191.3,820.4 L1191.8,821.8 L1192.3,823.3 L1192.8,824.8 L1193.3,826.2 L1193.8,827.7 L1194.3,829.1 L1194.8,830.6 L1195.3,832 L1195.8,833.4 L1196.3,834.8 L1196.8,836.2 L1197.3,837.6 L1197.8,839 L1198.3,840.4 L1198.8,841.8 L1199.3,843.2 L1199.8,844.6 L1200.3,845.9 L1200.8,847.3 L1201.3,848.6 L1201.8,849.9 L1202.3,851.3 L1202.8,852.6 L1203.3,853.9 L1203.8,855.2 L1204.3,856.4 L1204.8,857.7 L1205.3,859 L1205.8,860.2 L1206.3,861.4 L1206.8,862.7 L1207.3,863.9 L1207.8,865.1 L1208.3,866.3 L1208.8,867.4 L1209.3,868.6 L1209.8,869.7 L1210.3,870.9 L1210.8,872 L1211.3,873.1 L1211.8,874.2 L1212.3,875.3 L1212.8,876.3 L1213.3,877.4 L1213.8,878.4 L1214.3,879.4 L1214.8,880.4 L1215.3,881.4 L1215.8,882.4 L1216.3,883.3 L1216.8,884.3 L1217.3,885.2 L1217.8,886.1 L1218.3,887 L1218.8,887.9 L1219.3,888.7 L1219.8,889.6 L1220.3,890.4 L1220.8,891.2 L1221.3,892 L1221.8,892.8 L1222.3,893.5 L1222.8,894.3 L1223.3,895 L1223.8,895.7 L1224.3,896.4 L1224.8,897 L1225.3,897.7 L1225.8,898.3 L1226.3,898.9 L1226.8,899.5 L1227.3,900.1 L1227.8,900.6 L1228.3,901.2 L1228.8,901.7 L1229.3,902.2 L1229.8,902.6 L1230.3,903.1 L1230.8,903.5 L1231.3,903.9 L1231.8,904.3 L1232.3,904.7 L1232.8,905.1 L1233.3,905.4 L1233.8,905.7 L1234.3,906 L1234.8,906.3 L1235.3,906.5 L1235.8,906.8 L1236.3,907 L1236.8,907.2 L1237.3,907.4 L1237.8,907.5 L1238.3,907.6 L1238.8,907.8 L1239.3,907.8 L1239.8,907.9 L1240.3,908 L1240.8,908 L1241.3,908 L1241.8,908 L1242.3,908 L1242.8,907.9 L1243.3,907.8 L1243.8,907.7 L1244.3,907.6 L1244.8,907.5 L1245.3,907.3 L1245.8,907.2 L1246.3,907 L1246.8,906.7 L1247.3,906.5 L1247.8,906.2 L1248.3,906 L1248.8,905.7 L1249.3,905.3 L1249.8,905 L1250.3,904.6 L1250.8,904.3 L1251.3,903.9 L1251.8,903.5 L1252.3,903 L1252.8,902.6 L1253.3,902.1 L1253.8,901.6 L1254.3,901.1 L1254.8,900.5 L1255.3,900 L1255.8,899.4 L1256.3,898.8 L1256.8,898.2 L1257.3,897.6 L1257.8,896.9 L1258.3,896.3 L1258.8,895.6 L1259.3,894.9 L1259.8,894.1 L1260.3,893.4 L1260.8,892.6 L1261.3,891.9 L1261.8,891.1 L1262.3,890.3 L1262.8,889.4 L1263.3,888.6 L1263.8,887.7 L1264.3,886.9 L1264.8,886 L1265.3,885 L1265.8,884.1 L1266.3,883.2 L1266.8,882.2 L1267.3,881.2 L1267.8,880.2 L1268.3,879.2 L1268.8,878.2 L1269.3,877.2 L1269.8,876.1 L1270.3,875.1 L1270.8,874 L1271.3,872.9 L1271.8,871.8 L1272.3,870.7 L1272.8,869.5 L1273.3,868.4 L1273.8,867.2 L1274.3,866 L1274.8,864.8 L1275.3,863.6 L1275.8,862.4 L1276.3,861.2 L1276.8,860 L1277.3,858.7 L1277.8,857.5 L1278.3,856.2 L1278.8,854.9 L1279.3,853.6 L1279.8,852.3 L1280.3,851 L1280.8,849.7 L1281.3,848.4 L1281.8,847 L1282.3,845.7 L1282.8,844.3 L1283.3,842.9 L1283.8,841.6 L1284.3,840.2 L1284.8,838.8 L1285.3,837.4 L1285.8,836 L1286.3,834.6 L1286.8,833.1 L1287.3,831.7 L1287.8,830.3 L1288.3,828.9 L1288.8,827.4 L1289.3,826 L1289.8,824.5 L1290.3,823 L1290.8,821.6 L1291.3,820.1 L1291.8,818.6 L1292.3,817.2 L1292.8,815.7 L1293.3,814.2 L1293.8,812.7 L1294.3,811.2 L1294.8,809.7 L1295.3,808.2 L1295.8,806.7 L1296.3,805.2 L1296.8,803.7 L1297.3,802.2 L1297.8,800.7 L1298.3,799.2 L1298.8,797.7 L1299.3,796.2 L1299.8,794.7 L1300.3,793.2 L1300.8,791.7 L1301.3,790.3 L1301.8,788.8 L1302.3,787.3 L1302.8,785.8 L1303.3,784.3 L1303.8,782.8 L1304.3,781.3 L1304.8,779.8 L1305.3,778.4 L1305.8,776.9 L1306.3,775.4 L1306.8,774 L1307.3,772.5 L1307.8,771 L1308.3,769.6 L1308.8,768.2 L1309.3,766.7 L1309.8,765.3 L1310.3,763.9 L1310.8,762.4 L1311.3,761 L1311.8,759.6 L1312.3,758.2 L1312.8,756.8 L1313.3,755.5 L1313.8,754.1 L1314.3,752.7 L1314.8,751.4 L1315.3,750 L1315.8,748.7 L1316.3,747.3 L1316.8,746 L1317.3,744.7 L1317.8,743.4 L1318.3,742.1 L1318.8,740.9 L1319.3,739.6 L1319.8,738.3 L1320.3,737.1 L1320.8,735.9 L1321.3,734.6 L1321.8,733.4 L1322.3,732.2 L1322.8,731 L1323.3,729.9 L1323.8,728.7 L1324.3,727.6 L1324.8,726.4 L1325.3,725.3 L1325.8,724.2 L1326.3,723.1 L1326.8,722 L1327.3,721 L1327.8,719.9 L1328.3,718.9 L1328.8,717.9 L1329.3,716.9 L1329.8,715.9 L1330.3,714.9 L1330.8,714 L1331.3,713 L1331.8,712.1 L1332.3,711.2 L1332.8,710.3 L1333.3,709.4 L1333.8,708.6 L1334.3,707.7 L1334.8,706.9 L1335.3,706.1 L1335.8,705.3 L1336.3,704.5 L1336.8,703.8 L1337.3,703.1 L1337.8,702.3 L1338.3,701.6 L1338.8,701 L1339.3,700.3 L1339.8,699.7 L1340.3,699 L1340.8,698.4 L1341.3,697.8 L1341.8,697.3 L1342.3,696.7 L1342.8,696.2 L1343.3,695.7 L1343.8,695.2 L1344.3,694.7 L1344.8,694.3 L1345.3,693.8 L1345.8,693.4 L1346.3,693 L1346.8,692.7 L1347.3,692.3 L1347.8,692 L1348.3,691.7 L1348.8,691.4 L1349.3,691.1 L1349.8,690.8 L1350.3,690.6 L1350.8,690.4 L1351.3,690.2 L1351.8,690 L1352.3,689.9 L1352.8,689.7 L1353.3,689.6 L1353.8,689.6 L1354.3,689.5 L1354.8,689.4 L1355.3,689.4 L1355.8,689.4 L1356.3,689.4 L1356.8,689.4 L1357.3,689.5 L1357.8,689.6 L1358.3,689.7 L1358.8,689.8 L1359.3,689.9 L1359.8,690.1 L1360.3,690.3 L1360.8,690.5 L1361.3,690.7 L1361.8,690.9 L1362.3,691.2 L1362.8,691.5 L1363.3,691.8 L1363.8,692.1 L1364.3,692.4 L1364.8,692.8 L1365.3,693.2 L1365.8,693.6 L1366.3,694 L1366.8,694.4 L1367.3,694.9 L1367.8,695.4 L1368.3,695.9 L1368.8,696.4 L1369.3,696.9 L1369.8,697.5 L1370.3,698 L1370.8,698.6 L1371.3,699.3 L1371.8,699.9 L1372.3,700.5 L1372.8,701.2 L1373.3,701.9 L1373.8,702.6 L1374.3,703.3 L1374.8,704.1 L1375.3,704.8 L1375.8,705.6 L1376.3,706.4 L1376.8,707.2 L1377.3,708 L1377.8,708.9 L1378.3,709.7 L1378.8,710.6 L1379.3,711.5 L1379.8,712.4 L1380.3,713.4 L1380.8,714.3 L1381.3,715.3 L1381.8,716.3 L1382.3,717.2 L1382.8,718.3 L1383.3,719.3 L1383.8,720.3 L1384.3,721.4 L1384.8,722.4 L1385.3,723.5 L1385.8,724.6 L1386.3,725.7 L1386.8,726.8 L1387.3,728 L1387.8,729.1 L1388.3,730.3 L1388.8,731.5 L1389.3,732.7 L1389.8,733.9 L1390.3,735.1 L1390.8,736.3 L1391.3,737.5 L1391.8,738.8 L1392.3,740 L1392.8,741.3 L1393.3,742.6 L1393.8,743.9 L1394.3,745.2 L1394.8,746.5 L1395.3,747.8 L1395.8,749.2 L1396.3,750.5 L1396.8,751.9 L1397.3,753.2 L1397.8,754.6 L1398.3,756 L1398.8,757.3 L1399.3,758.7 L1399.8,760.1 L1400.3,761.5 L1400.8,763 L1401.3,764.4 L1401.8,765.8 L1402.3,767.2 L1402.8,768.7 L1403.3,770.1 L1403.8,771.6 L1404.3,773 L1404.8,774.5 L1405.3,776 L1405.8,777.4 L1406.3,778.9 L1406.8,780.4 L1407.3,781.9 L1407.8,783.3 L1408.3,784.8 L1408.8,786.3 L1409.3,787.8 L1409.8,789.3 L1410.3,790.8 L1410.8,792.3 L1411.3,793.8 L1411.8,795.3 L1412.3,796.8 L1412.8,798.3 L1413.3,799.8 L1413.8,801.3 L1414.3,802.8 L1414.8,804.3 L1415.3,805.8 L1415.8,807.3 L1416.3,808.8 L1416.8,810.3 L1417.3,811.8 L1417.8,813.2 L1418.3,814.7 L1418.8,816.2 L1419.3,817.7 L1419.8,819.2 L1420.3,820.6 L1420.8,822.1 L1421.3,823.6 L1421.8,825 L1422.3,826.5 L1422.8,827.9 L1423.3,829.4 L1423.8,830.8 L1424.3,832.2 L1424.8,833.7 L1425.3,835.1 L1425.8,836.5 L1426.3,837.9 L1426.8,839.3 L1427.3,840.7 L1427.8,842.1 L1428.3,843.4 L1428.8,844.8 L1429.3,846.2 L1429.8,847.5 L1430.3,848.8 L1430.8,850.2 L1431.3,851.5 L1431.8,852.8 L1432.3,854.1 L1432.8,855.4 L1433.3,856.7 L1433.8,857.9 L1434.3,859.2 L1434.8,860.4 L1435.3,861.7 L1435.8,862.9 L1436.3,864.1 L1436.8,865.3 L1437.3,866.5 L1437.8,867.6 L1438.3,868.8 L1438.8,869.9 L1439.3,871.1 L1439.8,872.2 L1440.3,873.3 L1440.8,874.4 L1441.3,875.5 L1441.8,876.5 L1442.3,877.6 L1442.8,878.6 L1443.3,879.6 L1443.8,880.6 L1444.3,881.6 L1444.8,882.6 L1445.3,883.5 L1445.8,884.5 L1446.3,885.4 L1446.8,886.3 L1447.3,887.2 L1447.8,888 L1448.3,888.9 L1448.8,889.7 L1449.3,890.6 L1449.8,891.4 L1450.3,892.2 L1450.8,892.9 L1451.3,893.7 L1451.8,894.4 L1452.3,895.1 L1452.8,895.8 L1453.3,896.5 L1453.8,897.2 L1454.3,897.8 L1454.8,898.4 L1455.3,899 L1455.8,899.6 L1456.3,900.2 L1456.8,900.7 L1457.3,901.3 L1457.8,901.8 L1458.3,902.3 L1458.8,902.7 L1459.3,903.2 L1459.8,903.6 L1460.3,904 L1460.8,904.4 L1461.3,904.8 L1461.8,905.1 L1462.3,905.5 L1462.8,905.8 L1463.3,906.1 L1463.8,906.3 L1464.3,906.6 L1464.8,906.8 L1465.3,907 L1465.8,907.2 L1466.3,907.4 L1466.8,907.5 L1467.3,907.7 L1467.8,907.8 L1468.3,907.9 L1468.8,907.9 L1469.3,908 L1469.8,908 L1470.3,908 L1470.8,908 L1471.3,907.9 L1471.8,907.9 L1472.3,907.8 L1472.8,907.7 L1473.3,907.6 L1473.8,907.5 L1474.3,907.3 L1474.8,907.1 L1475.3,906.9 L1475.8,906.7 L1476.3,906.5 L1476.8,906.2 L1477.3,905.9 L1477.8,905.6 L1478.3,905.3 L1478.8,904.9 L1479.3,904.6 L1479.8,904.2 L1480.3,903.8 L1480.8,903.4 L1481.3,902.9 L1481.8,902.5 L1482.3,902 L1482.8,901.5 L1483.3,901 L1483.8,900.4 L1484.3,899.9 L1484.8,899.3 L1485.3,898.7 L1485.8,898.1 L1486.3,897.5 L1486.8,896.8 L1487.3,896.1 L1487.8,895.4 L1488.3,894.7 L1488.8,894 L1489.3,893.3 L1489.8,892.5 L1490.3,891.7 L1490.8,890.9 L1491.3,890.1 L1491.8,889.3 L1492.3,888.4 L1492.8,887.6 L1493.3,886.7 L1493.8,885.8 L1494.3,884.9 L1494.8,883.9 L1495.3,883 L1495.8,882 L1496.3,881.1 L1496.8,880.1 L1497.3,879.1 L1497.8,878 L1498.3,877 L1498.8,875.9 L1499.3,874.9 L1499.8,873.8 L1500.3,872.7 L1500.8,871.6 L1501.3,870.5 L1501.8,869.3 L1502.3,868.2 L1502.8,867 L1503.3,865.8 L1503.8,864.6 L1504.3,863.4 L1504.8,862.2 L1505.3,861 L1505.8,859.7 L1506.3,858.5 L1506.8,857.2 L1507.3,856 L1507.8,854.7 L1508.3,853.4 L1508.8,852.1 L1509.3,850.8 L1509.8,849.4 L1510.3,848.1 L1510.8,846.8 L1511.3,845.4 L1511.8,844.1 L1512.3,842.7 L1512.8,841.3 L1513.3,839.9 L1513.8,838.5 L1514.3,837.1 L1514.8,835.7 L1515.3,834.3 L1515.8,832.9 L1516.3,831.5 L1516.8,830 L1517.3,828.6 L1517.8,827.1 L1518.3,825.7 L1518.8,824.2 L1519.3,822.8 L1519.8,821.3 L1520.3,819.8 L1520.8,818.4 L1521.3,816.9 L1521.8,815.4 L1522.3,813.9 L1522.8,812.4 L1523.3,810.9 L1523.8,809.5 L1524.3,808 L1524.8,806.5 L1525.3,805 L1525.8,803.5 L1526.3,802 L1526.8,800.5 L1527.3,799 L1527.8,797.5 L1528.3,796 L1528.8,794.5 L1529.3,793 L1529.8,791.5 L1530.3,790 L1530.8,788.5 L1531.3,787 L1531.8,785.5 L1532.3,784 L1532.8,782.5 L1533.3,781 L1533.8,779.6 L1534.3,778.1 L1534.8,776.6 L1535.3,775.2 L1535.8,773.7 L1536.3,772.2 L1536.8,770.8 L1537.3,769.3 L1537.8,767.9 L1538.3,766.5 L1538.8,765 L1539.3,763.6 L1539.8,762.2 L1540.3,760.8 L1540.8,759.4 L1541.3,758 L1541.8,756.6 L1542.3,755.2 L1542.8,753.8 L1543.3,752.5 L1543.8,751.1 L1544.3,749.8 L1544.8,748.4 L1545.3,747.1 L1545.8,745.8 L1546.3,744.5 L1546.8,743.2 L1547.3,741.9 L1547.8,740.6 L1548.3,739.4 L1548.8,738.1 L1549.3,736.9 L1549.8,735.6 L1550.3,734.4 L1550.8,733.2 L1551.3,732 L1551.8,730.8 L1552.3,729.7 L1552.8,728.5 L1553.3,727.4 L1553.8,726.2 L1554.3,725.1 L1554.8,724 L1555.3,722.9 L1555.8,721.8 L1556.3,720.8 L1556.8,719.7 L1557.3,718.7 L1557.8,717.7 L1558.3,716.7 L1558.8,715.7 L1559.3,714.7 L1559.8,713.8 L1560.3,712.9 L1560.8,711.9 L1561.3,711 L1561.8,710.1 L1562.3,709.3 L1562.8,708.4 L1563.3,707.6 L1563.8,706.8 L1564.3,706 L1564.8,705.2 L1565.3,704.4 L1565.8,703.7 L1566.3,702.9 L1566.8,702.2 L1567.3,701.5 L1567.8,700.8 L1568.3,700.2 L1568.8,699.5 L1569.3,698.9 L1569.8,698.3 L1570.3,697.7 L1570.8,697.2 L1571.3,696.6 L1571.8,696.1 L1572.3,695.6 L1572.8,695.1 L1573.3,694.6 L1573.8,694.2 L1574.3,693.8 L1574.8,693.3 L1575.3,693 L1575.8,692.6 L1576.3,692.2 L1576.8,691.9 L1577.3,691.6 L1577.8,691.3 L1578.3,691 L1578.8,690.8 L1579.3,690.6 L1579.8,690.4 L1580.3,690.2 L1580.8,690 L1581.3,689.9 L1581.8,689.7 L1582.3,689.6 L1582.8,689.5 L1583.3,689.5 L1583.8,689.4 L1584.3,689.4 L1584.8,689.4 L1585.3,689.4 L1585.8,689.5 L1586.3,689.5 L1586.8,689.6 L1587.3,689.7 L1587.8,689.8 L1588.3,690 L1588.8,690.1 L1589.3,690.3 L1589.8,690.5 L1590.3,690.7 L1590.8,691 L1591.3,691.2 L1591.8,691.5 L1592.3,691.8 L1592.8,692.1 L1593.3,692.5 L1593.8,692.9 L1594.3,693.2 L1594.8,693.6 L1595.3,694.1 L1595.8,694.5 L1596.3,695 L1596.8,695.5 L1597.3,696 L1597.8,696.5 L1598.3,697 L1598.8,697.6 L1599.3,698.2 L1599.8,698.8 L1600.3,699.4 L1600.8,700 L1601.3,700.7 L1601.8,701.3 L1602.3,702 L1602.8,702.7 L1603.3,703.5 L1603.8,704.2 L1604.3,705 L1604.8,705.7 L1605.3,706.5 L1605.8,707.4 L1606.3,708.2 L1606.8,709 L1607.3,709.9 L1607.8,710.8 L1608.3,711.7 L1608.8,712.6 L1609.3,713.5 L1609.8,714.5 L1610.3,715.5 L1610.8,716.4 L1611.3,717.4 L1611.8,718.4 L1612.3,719.5 L1612.8,720.5 L1613.3,721.6 L1613.8,722.6 L1614.3,723.7 L1614.8,724.8 L1615.3,725.9 L1615.8,727 L1616.3,728.2 L1616.8,729.3 L1617.3,730.5 L1617.8,731.7 L1618.3,732.9 L1618.8,734.1 L1619.3,735.3 L1619.8,736.5 L1620.3,737.8 L1620.8,739 L1621.3,740.3 L1621.8,741.6 L1622.3,742.8 L1622.8,744.1 L1623.3,745.4 L1623.8,746.7 L1624.3,748.1 L1624.8,749.4 L1625.3,750.8 L1625.8,752.1 L1626.3,753.5 L1626.8,754.8 L1627.3,756.2 L1627.8,757.6 L1628.3,759 L1628.8,760.4 L1629.3,761.8 L1629.8,763.2 L1630.3,764.6 L1630.8,766.1 L1631.3,767.5 L1631.8,768.9 L1632.3,770.4 L1632.8,771.8 L1633.3,773.3 L1633.8,774.8 L1634.3,776.2 L1634.8,777.7 L1635.3,779.2 L1635.8,780.6 L1636.3,782.1 L1636.8,783.6 L1637.3,785.1 L1637.8,786.6 L1638.3,788.1 L1638.8,789.6 L1639.3,791.1 L1639.8,792.6 L1640.3,794.1 L1640.8,795.6 L1641.3,797.1 L1641.8,798.6 L1642.3,800.1 L1642.8,801.6 L1643.3,803.1 L1643.8,804.6 L1644.3,806.1 L1644.8,807.6 L1645.3,809 L1645.8,810.5 L1646.3,812 L1646.8,813.5 L1647.3,815 L1647.8,816.5 L1648.3,818 L1648.8,819.4 L1649.3,820.9 L1649.8,822.4 L1650.3,823.8 L1650.8,825.3 L1651.3,826.7 L1651.8,828.2 L1652.3,829.6 L1652.8,831.1 L1653.3,832.5 L1653.8,833.9 L1654.3,835.3 L1654.8,836.8 L1655.3,838.2 L1655.8,839.5 L1656.3,840.9 L1656.8,842.3 L1657.3,843.7 L1657.8,845.1 L1658.3,846.4 L1658.8,847.7 L1659.3,849.1 L1659.8,850.4 L1660.3,851.7 L1660.8,853 L1661.3,854.3 L1661.8,855.6 L1662.3,856.9 L1662.8,858.2 L1663.3,859.4 L1663.8,860.7 L1664.3,861.9 L1664.8,863.1 L1665.3,864.3 L1665.8,865.5 L1666.3,866.7 L1666.8,867.8 L1667.3,869 L1667.8,870.1 L1668.3,871.3 L1668.8,872.4 L1669.3,873.5 L1669.8,874.6 L1670.3,875.6 L1670.8,876.7 L1671.3,877.7 L1671.8,878.8 L1672.3,879.8 L1672.8,880.8 L1673.3,881.8 L1673.8,882.7 L1674.3,883.7 L1674.8,884.6 L1675.3,885.5 L1675.8,886.4 L1676.3,887.3 L1676.8,888.2 L1677.3,889.1 L1677.8,889.9 L1678.3,890.7 L1678.8,891.5 L1679.3,892.3 L1679.8,893.1 L1680.3,893.8 L1680.8,894.5 L1681.3,895.3 L1681.8,895.9 L1682.3,896.6 L1682.8,897.3 L1683.3,897.9 L1683.8,898.5 L1684.3,899.1 L1684.8,899.7 L1685.3,900.3 L1685.8,900.8 L1686.3,901.4 L1686.8,901.9 L1687.3,902.3 L1687.8,902.8 L1688.3,903.3 L1688.8,903.7 L1689.3,904.1 L1689.8,904.5 L1690.3,904.8 L1690.8,905.2 L1691.3,905.5 L1691.8,905.8 L1692.3,906.1 L1692.8,906.4 L1693.3,906.6 L1693.8,906.9 L1694.3,907.1 L1694.8,907.2 L1695.3,907.4 L1695.8,907.6 L1696.3,907.7 L1696.8,907.8 L1697.3,907.9 L1697.8,907.9 L1698.3,908 L1698.8,908 L1699.3,908 L1699.8,908 L1700.3,907.9 L1700.8,907.9 L1701.3,907.8 L1701.8,907.7 L1702.3,907.6 L1702.8,907.4 L1703.3,907.3 L1703.8,907.1 L1704.3,906.9 L1704.8,906.7 L1705.3,906.4 L1705.8,906.1 L1706.3,905.9 L1706.8,905.6 L1707.3,905.2 L1707.8,904.9 L1708.3,904.5 L1708.8,904.1 L1709.3,903.7 L1709.8,903.3 L1710.3,902.9 L1710.8,902.4 L1711.3,901.9 L1711.8,901.4 L1712.3,900.9 L1712.8,900.3 L1713.3,899.8 L1713.8,899.2 L1714.3,898.6 L1714.8,898 L1715.3,897.3 L1715.8,896.7 L1716.3,896 L1716.8,895.3 L1717.3,894.6 L1717.8,893.9 L1718.3,893.1 L1718.8,892.4 L1719.3,891.6 L1719.8,890.8 L1720.3,890 L1720.8,889.1 L1721.3,888.3 L1721.8,887.4 L1722.3,886.5 L1722.8,885.6 L1723.3,884.7 L1723.8,883.8 L1724.3,882.8 L1724.8,881.9 L1725.3,880.9 L1725.8,879.9 L1726.3,878.9 L1726.8,877.8 L1727.3,876.8 L1727.8,875.7 L1728.3,874.7 L1728.8,873.6 L1729.3,872.5 L1729.8,871.4 L1730.3,870.2 L1730.8,869.1 L1731.3,868 L1731.8,866.8 L1732.3,865.6 L1732.8,864.4 L1733.3,863.2 L1733.8,862 L1734.3,860.8 L1734.8,859.5 L1735.3,858.3 L1735.8,857 L1736.3,855.7 L1736.8,854.4 L1737.3,853.2 L1737.8,851.8 L1738.3,850.5 L1738.8,849.2 L1739.3,847.9 L1739.8,846.5 L1740.3,845.2 L1740.8,843.8 L1741.3,842.4 L1741.8,841.1 L1742.3,839.7 L1742.8,838.3 L1743.3,836.9 L1743.8,835.5 L1744.3,834.1 L1744.8,832.6 L1745.3,831.2 L1745.8,829.8 L1746.3,828.3 L1746.8,826.9 L1747.3,825.4 L1747.8,824 L1748.3,822.5 L1748.8,821 L1749.3,819.6 L1749.8,818.1 L1750.3,816.6 L1750.8,815.1 L1751.3,813.7 L1751.8,812.2 L1752.3,810.7 L1752.8,809.2 L1753.3,807.7 L1753.8,806.2 L1754.3,804.7 L1754.8,803.2 L1755.3,801.7 L1755.8,800.2 L1756.3,798.7" fill="none" stroke="#231f20" stroke-width="3.8" stroke-linejoin="round"/>
<line x1="1104.5" y1="668" x2="1104.5" y2="901" stroke="#231f20" stroke-width="4" />
<line x1="1127" y1="668" x2="1127" y2="901" stroke="#231f20" stroke-width="4" />
<g  stroke="#231f20" stroke-width="4" stroke-linejoin="miter">
<rect x="1092.3" y="590.2" width="46.7" height="10.5" fill="#efefef"/>
<path d="M1084.9,600.4 H1146.8 V617 Q1115.85,632 1084.9,617 Z" fill="#efefef"/>
<path d="M1085.5,616 Q1115.85,601 1146.2,616 Q1115.85,632 1085.5,616 Z" fill="#fcd08c" stroke-linejoin="bevel"/>
</g>
<g transform="translate(0,1572) scale(1,-1)" stroke="#231f20" stroke-width="4" stroke-linejoin="miter">
<rect x="1092.3" y="590.2" width="46.7" height="10.5" fill="#efefef"/>
<path d="M1084.9,600.4 H1146.8 V617 Q1115.85,632 1084.9,617 Z" fill="#efefef"/>
<path d="M1085.5,616 Q1115.85,601 1146.2,616 Q1115.85,632 1085.5,616 Z" fill="#80d0a0" stroke-linejoin="bevel"/>
</g>
<text x="1117" y="654.6" font-size="28.4" font-weight="normal" text-anchor="middle" fill="#000" >Refocus</text>
<text x="1114.6" y="936.8" font-size="28.4" font-weight="normal" text-anchor="middle" fill="#000" >Switch</text>
<line x1="1768.5" y1="704" x2="1768.5" y2="784.1" stroke="#231f20" stroke-width="2.2" />
<path d="M1762.5,706 L1768.5,693.2 L1774.5,706 Z" fill="#231f20"/>
<line x1="1768.5" y1="808.6" x2="1768.5" y2="888" stroke="#231f20" stroke-width="2.2" />
<path d="M1762.5,887 L1768.5,899.5 L1774.5,887 Z" fill="#231f20"/>
<text x="1784" y="710.7" font-size="28.4" font-weight="normal" text-anchor="start" fill="#000" >Focused</text>
<text x="1784" y="738.7" font-size="28.4" font-weight="normal" text-anchor="start" fill="#000" >Mode</text>
<text x="1784" y="766.6" font-size="28.4" font-weight="normal" text-anchor="start" fill="#000" >(11 Hz)</text>
<text x="1784" y="837.6" font-size="28.4" font-weight="normal" text-anchor="start" fill="#000" >Reorienting</text>
<text x="1784" y="865.6" font-size="28.4" font-weight="normal" text-anchor="start" fill="#000" >Mode</text>
<text x="1784" y="893.6" font-size="28.4" font-weight="normal" text-anchor="start" fill="#000" >(22 Hz)</text>
</svg>
</body></html>
